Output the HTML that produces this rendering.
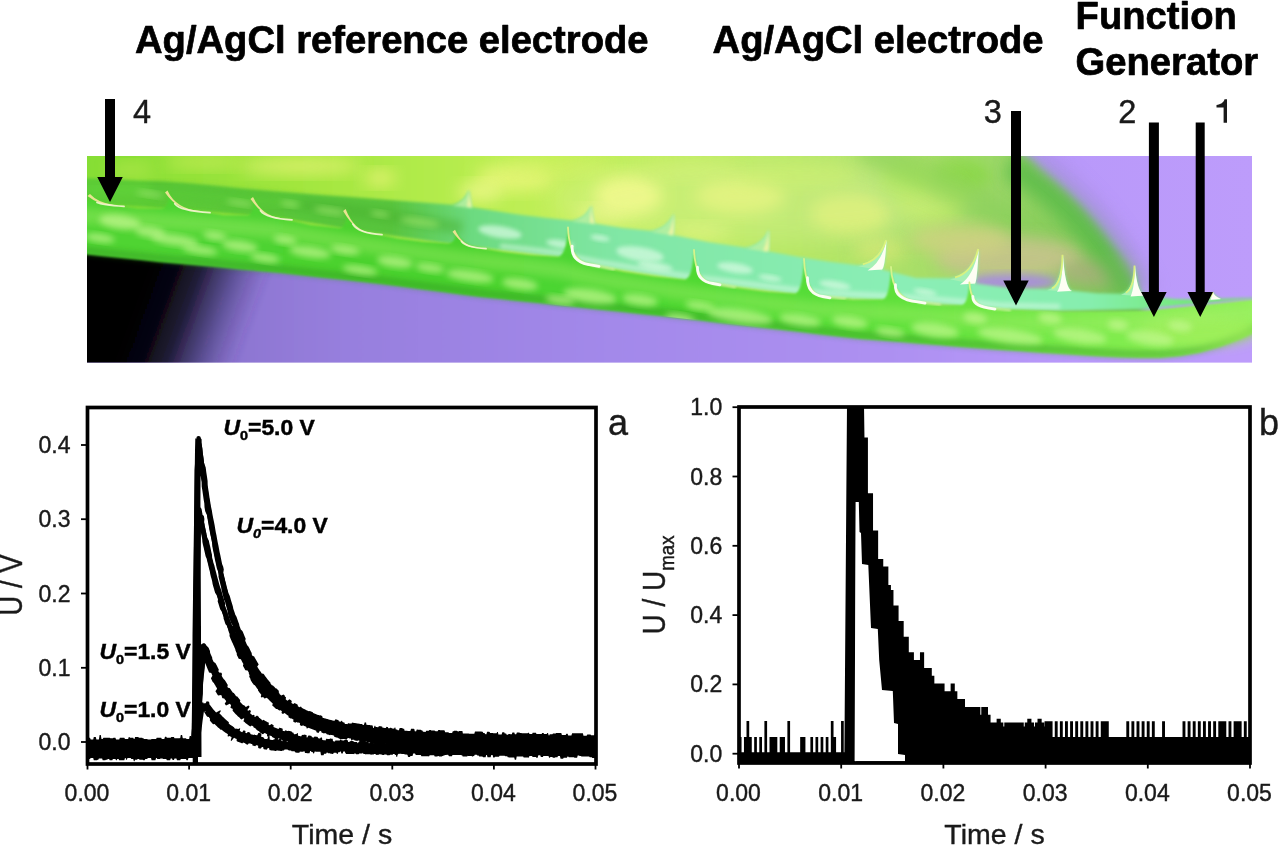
<!DOCTYPE html>
<html><head><meta charset="utf-8"><title>Figure</title>
<style>
html,body{margin:0;padding:0;background:#fff;}
body{width:1280px;height:845px;overflow:hidden;font-family:"Liberation Sans", sans-serif;}
svg{display:block;position:absolute;left:0;top:0;font-family:"Liberation Sans", sans-serif;will-change:transform;}
</style></head><body>
<svg width="1280" height="845" viewBox="0 0 1280 845">
<rect width="1280" height="845" fill="#fff"/>
<defs>
<clipPath id="pc"><rect x="87" y="156" width="1165" height="206.5"/></clipPath>
<filter id="b07" x="-30%" y="-30%" width="160%" height="160%"><feGaussianBlur stdDeviation="0.7"/></filter>
<filter id="b1" x="-30%" y="-30%" width="160%" height="160%"><feGaussianBlur stdDeviation="1"/></filter>
<filter id="b15" x="-30%" y="-30%" width="160%" height="160%"><feGaussianBlur stdDeviation="1.5"/></filter>
<filter id="b2" x="-30%" y="-30%" width="160%" height="160%"><feGaussianBlur stdDeviation="2"/></filter>
<filter id="b3" x="-30%" y="-30%" width="160%" height="160%"><feGaussianBlur stdDeviation="3"/></filter>
<filter id="b4" x="-30%" y="-30%" width="160%" height="160%"><feGaussianBlur stdDeviation="4"/></filter>
<filter id="b6" x="-30%" y="-30%" width="160%" height="160%"><feGaussianBlur stdDeviation="6"/></filter>
<filter id="b8" x="-30%" y="-30%" width="160%" height="160%"><feGaussianBlur stdDeviation="8"/></filter>
<filter id="b14" x="-30%" y="-30%" width="160%" height="160%"><feGaussianBlur stdDeviation="14"/></filter>
<linearGradient id="pg" gradientUnits="userSpaceOnUse" x1="87" y1="0" x2="1252" y2="0"><stop offset="0" stop-color="#7e68c0"/><stop offset="0.12" stop-color="#8c75d0"/><stop offset="0.22" stop-color="#977fde"/><stop offset="0.45" stop-color="#a389ea"/><stop offset="0.7" stop-color="#ae91f2"/><stop offset="0.85" stop-color="#b999fa"/><stop offset="1" stop-color="#bd9cfb"/></linearGradient>
<linearGradient id="blk" gradientUnits="userSpaceOnUse" x1="112" y1="362" x2="226" y2="404"><stop offset="0" stop-color="#020203" stop-opacity="1"/><stop offset="0.22" stop-color="#05040a" stop-opacity="0.98"/><stop offset="0.42" stop-color="#100e20" stop-opacity="0.86"/><stop offset="0.6" stop-color="#211c40" stop-opacity="0.6"/><stop offset="0.78" stop-color="#30285c" stop-opacity="0.3"/><stop offset="0.92" stop-color="#3a3070" stop-opacity="0.08"/><stop offset="1" stop-color="#3a3070" stop-opacity="0"/></linearGradient>
<linearGradient id="bgg" gradientUnits="userSpaceOnUse" x1="87" y1="0" x2="1140" y2="0"><stop offset="0" stop-color="#86de34"/><stop offset="0.2" stop-color="#a2e63e"/><stop offset="0.45" stop-color="#c2f058"/><stop offset="0.62" stop-color="#b8ea5c"/><stop offset="0.75" stop-color="#aee268"/><stop offset="0.86" stop-color="#9cd868"/><stop offset="0.93" stop-color="#86cc5c"/><stop offset="1" stop-color="#70be54"/></linearGradient>
<linearGradient id="lf" gradientUnits="userSpaceOnUse" x1="87" y1="0" x2="1252" y2="0"><stop offset="0" stop-color="#50d432"/><stop offset="0.3" stop-color="#4ad22e"/><stop offset="0.55" stop-color="#50da34"/><stop offset="0.72" stop-color="#62e23c"/><stop offset="0.88" stop-color="#80ec4e"/><stop offset="1" stop-color="#92f05a"/></linearGradient>
<linearGradient id="tf" gradientUnits="userSpaceOnUse" x1="87" y1="0" x2="1252" y2="0"><stop offset="0" stop-color="#5ccc34"/><stop offset="0.26" stop-color="#58c43c"/><stop offset="0.33" stop-color="#6cda80"/><stop offset="0.45" stop-color="#80e6a4"/><stop offset="0.7" stop-color="#8aeeb6"/><stop offset="0.86" stop-color="#86eeae"/><stop offset="0.95" stop-color="#74e878"/><stop offset="1" stop-color="#70e660"/></linearGradient>
</defs>
<g clip-path="url(#pc)">
<rect x="87" y="156" width="1165" height="206.5" fill="url(#pg)"/>
<path d="M60,130 L1004,130 L1004.0,140.0C1010.0,144.7 1028.2,158.0 1040.0,168.0C1051.8,178.0 1064.2,188.7 1075.0,200.0C1085.8,211.3 1096.2,224.7 1105.0,236.0C1113.8,247.3 1121.8,257.3 1128.0,268.0C1134.2,278.7 1139.0,289.7 1142.0,300.0C1145.0,310.3 1145.3,325.0 1146.0,330.0 L60,330 Z" fill="url(#bgg)" filter="url(#b4)"/>
<ellipse cx="300" cy="166" rx="60" ry="9" fill="#e2f272" opacity="0.8" filter="url(#b8)"/>
<ellipse cx="205" cy="162" rx="40" ry="7" fill="#d4ee60" opacity="0.6" filter="url(#b8)"/>
<ellipse cx="130" cy="170" rx="22" ry="7" fill="#c8ec58" opacity="0.5" filter="url(#b8)"/>
<ellipse cx="380" cy="178" rx="16" ry="8" fill="#ecf478" opacity="0.8" filter="url(#b8)"/>
<ellipse cx="515" cy="178" rx="40" ry="14" fill="#e8f678" opacity="0.85" filter="url(#b8)"/>
<ellipse cx="480" cy="192" rx="22" ry="10" fill="#f0f88c" opacity="0.8" filter="url(#b8)"/>
<ellipse cx="628" cy="196" rx="34" ry="20" fill="#f2fa7e" opacity="0.95" filter="url(#b8)"/>
<ellipse cx="600" cy="214" rx="26" ry="8" fill="#f0f884" opacity="0.7" filter="url(#b8)"/>
<ellipse cx="740" cy="196" rx="45" ry="18" fill="#e4f470" opacity="0.85" filter="url(#b8)"/>
<ellipse cx="700" cy="232" rx="30" ry="8" fill="#e6f678" opacity="0.6" filter="url(#b8)"/>
<ellipse cx="850" cy="214" rx="40" ry="20" fill="#dcf06a" opacity="0.85" filter="url(#b8)"/>
<ellipse cx="800" cy="176" rx="60" ry="12" fill="#c4ee58" opacity="0.6" filter="url(#b8)"/>
<ellipse cx="930" cy="200" rx="36" ry="24" fill="#bcec54" opacity="0.7" filter="url(#b8)"/>
<ellipse cx="905" cy="180" rx="26" ry="16" fill="#a6e84a" opacity="0.7" filter="url(#b8)"/>
<ellipse cx="880" cy="250" rx="26" ry="12" fill="#d8e874" opacity="0.7" filter="url(#b8)"/>
<ellipse cx="960" cy="176" rx="30" ry="16" fill="#84d83e" opacity="0.7" filter="url(#b8)"/>
<ellipse cx="560" cy="168" rx="50" ry="8" fill="#d6f268" opacity="0.6" filter="url(#b8)"/>
<ellipse cx="690" cy="170" rx="50" ry="10" fill="#cef066" opacity="0.6" filter="url(#b8)"/>
<ellipse cx="760" cy="200" rx="210" ry="46" fill="#e8f4b4" opacity="0.28" filter="url(#b14)"/>
<path d="M862,146 C930,178 1020,222 1092,274" fill="none" stroke="#84cc56" stroke-width="30" opacity="0.5" filter="url(#b8)"/>
<ellipse cx="1010" cy="258" rx="75" ry="22" fill="#c4c48a" opacity="0.95" filter="url(#b8)"/>
<ellipse cx="960" cy="240" rx="50" ry="16" fill="#d0d282" opacity="0.8" filter="url(#b8)"/>
<ellipse cx="1095" cy="272" rx="36" ry="14" fill="#a8b07c" opacity="0.9" filter="url(#b8)"/>
<path d="M1010,165 C1060,195 1100,235 1130,290" fill="none" stroke="#5cbc48" stroke-width="26" opacity="0.85" filter="url(#b8)"/>
<path d="M1040,156 C1085,190 1120,230 1150,290" fill="none" stroke="#a890e0" stroke-width="14" opacity="0.7" filter="url(#b8)"/>
<ellipse cx="1012" cy="282" rx="46" ry="8" fill="#a98ce0" opacity="0.95" filter="url(#b4)"/>
<path d="M60.0,249.0 L80.0,250.9 L100.0,252.9 L120.0,255.0 L140.0,257.1 L160.0,259.2 L180.0,261.0 L200.0,262.8 L220.0,264.6 L240.0,266.4 L260.0,268.2 L280.0,270.0 L300.0,272.2 L320.0,274.4 L340.0,276.6 L360.0,278.8 L380.0,281.0 L400.0,283.6 L420.0,286.2 L440.0,288.8 L460.0,291.4 L480.0,294.0 L500.0,296.1 L520.0,298.2 L540.0,300.3 L560.0,302.4 L580.0,304.6 L600.0,306.7 L620.0,308.8 L640.0,310.9 L660.0,313.0 L680.0,315.3 L700.0,317.6 L720.0,319.9 L740.0,322.2 L760.0,324.5 L780.0,326.8 L800.0,329.1 L820.0,331.4 L840.0,333.7 L860.0,336.0 L880.0,337.6 L900.0,339.1 L920.0,340.7 L940.0,342.3 L960.0,343.9 L980.0,345.4 L1000.0,347.0 L1020.0,348.3 L1040.0,349.7 L1060.0,351.0 L1080.0,352.2 L1100.0,353.4 L1120.0,354.4 L1140.0,355.1 L1160.0,354.9 L1180.0,353.3 L1200.0,349.8 L1220.0,344.1 L1240.0,336.4 L1260.0,327.2 L1280.0,317.7 L1290.0,313.0 L1300,400 L40,400 Z" fill="url(#pg)" filter="url(#b1)"/>
<path d="M60.0,249.0 L80.0,250.9 L100.0,252.9 L120.0,255.0 L140.0,257.1 L160.0,259.2 L180.0,261.0 L200.0,262.8 L220.0,264.6 L240.0,266.4 L260.0,268.2 L280.0,270.0 L300.0,272.2 L320.0,274.4 L340.0,276.6 L360.0,278.8 L380.0,281.0 L400.0,283.6 L420.0,286.2 L440.0,288.8 L460.0,291.4 L480.0,294.0 L500.0,296.1 L520.0,298.2 L540.0,300.3 L560.0,302.4 L580.0,304.6 L600.0,306.7 L620.0,308.8 L640.0,310.9 L660.0,313.0 L680.0,315.3 L700.0,317.6 L720.0,319.9 L740.0,322.2 L760.0,324.5 L780.0,326.8 L800.0,329.1 L820.0,331.4 L840.0,333.7 L860.0,336.0 L880.0,337.6 L900.0,339.1 L920.0,340.7 L940.0,342.3 L960.0,343.9 L980.0,345.4 L1000.0,347.0 L1020.0,348.3 L1040.0,349.7 L1060.0,351.0 L1080.0,352.2 L1100.0,353.4 L1120.0,354.4 L1140.0,355.1 L1160.0,354.9 L1180.0,353.3 L1200.0,349.8 L1220.0,344.1 L1240.0,336.4 L1260.0,327.2 L1280.0,317.7 L1290.0,313.0 L1300,400 L40,400 Z" fill="url(#blk)" filter="url(#b1)"/>
<clipPath id="ctf"><path d="M60.0,177.0L86.1,178.2L112.3,179.3L138.4,180.4L164.5,181.4L190.7,183.5L216.8,186.1L242.9,188.7L269.1,191.1L295.2,193.1L321.3,194.9L347.5,196.7L373.6,198.7L399.7,200.7L425.9,202.7L452.0,204.7Q464.0,202.7 469.0,190.0Q471.0,205.3 472.0,207.3L497.0,211.3L522.0,214.9L547.0,218.0L572.0,220.6Q586.0,218.6 591.5,205.6Q593.0,221.6 595.0,223.6L622.5,228.1L650.0,230.8Q667.0,228.8 674.0,213.4Q674.0,232.9 673.0,234.9L709.0,242.2L745.0,247.6Q762.0,245.6 769.0,229.7Q769.0,249.3 768.0,251.3L798.0,256.8L828.0,261.5L858.0,265.3Q879.0,263.3 886.5,240.3Q885.0,267.5 882.0,269.5L916.0,278.0L950.0,278.3Q971.0,276.3 978.8,249.0Q977.0,281.4 975.0,283.4L1011.0,288.5L1047.0,289.3Q1061.0,287.3 1063.0,254.7Q1065.0,288.8 1072.0,290.8L1096.5,293.3L1121.0,293.8Q1133.0,291.8 1135.0,265.6Q1137.0,293.4 1145.0,295.4L1174.5,298.9L1204.0,299.8Q1211.5,297.8 1213.0,292.0Q1214.5,296.8 1221.0,298.8L1255.5,297.7L1290.0,294.0L1290.0,296.0 L1280.0,296.8 L1260.0,298.4 L1240.0,300.0 L1220.0,301.8 L1200.0,303.5 L1180.0,305.3 L1160.0,307.2 L1140.0,309.0 L1120.0,309.4 L1100.0,309.8 L1080.0,310.2 L1060.0,310.6 L1040.0,310.1 L1020.0,309.5 L1000.0,309.0 L980.0,306.9 L960.0,305.2 L940.0,303.6 L920.0,302.1 L900.0,300.5 L880.0,299.4 L860.0,298.4 L840.0,297.4 L820.0,296.4 L800.0,294.3 L780.0,291.8 L760.0,289.3 L740.0,286.8 L720.0,284.3 L700.0,281.9 L680.0,279.0 L660.0,275.8 L640.0,272.7 L620.0,269.5 L600.0,266.3 L580.0,262.1 L560.0,257.0 L540.0,254.7 L520.0,252.3 L500.0,250.0 L480.0,247.7 L460.0,245.1 L440.0,242.4 L420.0,239.7 L400.0,236.9 L380.0,234.2 L360.0,231.2 L340.0,227.9 L320.0,224.6 L300.0,221.3 L280.0,218.0 L260.0,216.3 L240.0,214.5 L220.0,212.8 L200.0,211.1 L180.0,209.6 L160.0,208.2 L140.0,206.8 L120.0,205.4 L100.0,203.9 L80.0,202.5 L60.0,201.0Z"/></clipPath>
<path d="M60.0,177.0L86.1,178.2L112.3,179.3L138.4,180.4L164.5,181.4L190.7,183.5L216.8,186.1L242.9,188.7L269.1,191.1L295.2,193.1L321.3,194.9L347.5,196.7L373.6,198.7L399.7,200.7L425.9,202.7L452.0,204.7Q464.0,202.7 469.0,190.0Q471.0,205.3 472.0,207.3L497.0,211.3L522.0,214.9L547.0,218.0L572.0,220.6Q586.0,218.6 591.5,205.6Q593.0,221.6 595.0,223.6L622.5,228.1L650.0,230.8Q667.0,228.8 674.0,213.4Q674.0,232.9 673.0,234.9L709.0,242.2L745.0,247.6Q762.0,245.6 769.0,229.7Q769.0,249.3 768.0,251.3L798.0,256.8L828.0,261.5L858.0,265.3Q879.0,263.3 886.5,240.3Q885.0,267.5 882.0,269.5L916.0,278.0L950.0,278.3Q971.0,276.3 978.8,249.0Q977.0,281.4 975.0,283.4L1011.0,288.5L1047.0,289.3Q1061.0,287.3 1063.0,254.7Q1065.0,288.8 1072.0,290.8L1096.5,293.3L1121.0,293.8Q1133.0,291.8 1135.0,265.6Q1137.0,293.4 1145.0,295.4L1174.5,298.9L1204.0,299.8Q1211.5,297.8 1213.0,292.0Q1214.5,296.8 1221.0,298.8L1255.5,297.7L1290.0,294.0L1290.0,296.0 L1280.0,296.8 L1260.0,298.4 L1240.0,300.0 L1220.0,301.8 L1200.0,303.5 L1180.0,305.3 L1160.0,307.2 L1140.0,309.0 L1120.0,309.4 L1100.0,309.8 L1080.0,310.2 L1060.0,310.6 L1040.0,310.1 L1020.0,309.5 L1000.0,309.0 L980.0,306.9 L960.0,305.2 L940.0,303.6 L920.0,302.1 L900.0,300.5 L880.0,299.4 L860.0,298.4 L840.0,297.4 L820.0,296.4 L800.0,294.3 L780.0,291.8 L760.0,289.3 L740.0,286.8 L720.0,284.3 L700.0,281.9 L680.0,279.0 L660.0,275.8 L640.0,272.7 L620.0,269.5 L600.0,266.3 L580.0,262.1 L560.0,257.0 L540.0,254.7 L520.0,252.3 L500.0,250.0 L480.0,247.7 L460.0,245.1 L440.0,242.4 L420.0,239.7 L400.0,236.9 L380.0,234.2 L360.0,231.2 L340.0,227.9 L320.0,224.6 L300.0,221.3 L280.0,218.0 L260.0,216.3 L240.0,214.5 L220.0,212.8 L200.0,211.1 L180.0,209.6 L160.0,208.2 L140.0,206.8 L120.0,205.4 L100.0,203.9 L80.0,202.5 L60.0,201.0Z" fill="url(#tf)" filter="url(#b15)"/>
<path d="M452,205.7 Q464.0,202.7 469,190 Q471.0,205.3 472,208.3Z" fill="#b6f0a0" opacity="0.9" filter="url(#b15)"/>
<path d="M469,190 Q471.0,205.3 472,207.3 L467.0,206.3 Q468.0,202.3 469,190Z" fill="#f0f4a4" filter="url(#b15)"/>
<path d="M572,221.6 Q586.0,218.6 591.5,205.6 Q593.0,221.6 595,224.6Z" fill="#b6f0a0" opacity="0.9" filter="url(#b15)"/>
<path d="M591.5,205.6 Q593.0,221.6 595,223.6 L590.0,222.6 Q590.0,218.6 591.5,205.6Z" fill="#f0f4a4" filter="url(#b15)"/>
<path d="M650,231.8 Q667.0,228.8 674,213.4 Q674.0,232.9 673,235.9Z" fill="#b6f0a0" opacity="0.9" filter="url(#b15)"/>
<path d="M674,213.4 Q674.0,232.9 673,234.9 L668.0,233.9 Q671.0,229.9 674,213.4Z" fill="#f0f4a4" filter="url(#b15)"/>
<path d="M745,248.6 Q762.0,245.6 769,229.7 Q769.0,249.3 768,252.3Z" fill="#b6f0a0" opacity="0.9" filter="url(#b15)"/>
<path d="M769,229.7 Q769.0,249.3 768,251.3 L763.0,250.3 Q766.0,246.3 769,229.7Z" fill="#f0f4a4" filter="url(#b15)"/>
<path d="M858,266.3 Q879.0,263.3 886.5,240.3 Q885.0,267.5 882,270.5Z" fill="#a6f0b4" filter="url(#b07)"/>
<path d="M886.5,240.3 Q885.0,267.5 882,269.5 L867.6,270.5 Q881.5,262.5 886.5,240.3Z" fill="#fdfef4" filter="url(#b07)"/>
<path d="M886.0,240.3 Q880.0,260.3 862.8,264.3" fill="none" stroke="#e0f47c" stroke-width="1.8" opacity="0.9" filter="url(#b07)"/>
<path d="M950,279.3 Q971.0,276.3 978.75,249 Q977.0,281.4 975,284.4Z" fill="#a6f0b4" filter="url(#b07)"/>
<path d="M978.75,249 Q977.0,281.4 975,283.4 L960.0,284.4 Q973.5,276.4 978.75,249Z" fill="#fdfef4" filter="url(#b07)"/>
<path d="M978.25,249 Q972.0,273.3 955.0,277.3" fill="none" stroke="#e0f47c" stroke-width="1.8" opacity="0.9" filter="url(#b07)"/>
<path d="M1047,290.3 Q1061.0,287.3 1063,254.7 Q1065.0,288.8 1072,291.8Z" fill="#a6f0b4" filter="url(#b07)"/>
<path d="M1063,254.7 Q1065.0,288.8 1072,290.8 L1057.0,291.8 Q1062.5,283.8 1063,254.7Z" fill="#fdfef4" filter="url(#b07)"/>
<path d="M1062.5,254.7 Q1062.0,284.3 1052.0,288.3" fill="none" stroke="#e0f47c" stroke-width="1.8" opacity="0.9" filter="url(#b07)"/>
<path d="M1121,294.8 Q1133.0,291.8 1135,265.6 Q1137.0,293.4 1145,296.4Z" fill="#a6f0b4" filter="url(#b07)"/>
<path d="M1135,265.6 Q1137.0,293.4 1145,295.4 L1130.6,296.4 Q1134.5,288.4 1135,265.6Z" fill="#fdfef4" filter="url(#b07)"/>
<path d="M1134.5,265.6 Q1134.0,288.8 1125.8,292.8" fill="none" stroke="#e0f47c" stroke-width="1.8" opacity="0.9" filter="url(#b07)"/>
<path d="M1204,300.8 Q1211.5,297.8 1213,292 Q1214.5,296.8 1221,299.8Z" fill="#a6f0b4" filter="url(#b07)"/>
<path d="M1213,292 Q1214.5,296.8 1221,298.8 L1210.8,299.8 Q1212.5,291.8 1213,292Z" fill="#fdfef4" filter="url(#b07)"/>
<path d="M1212.5,292 Q1212.5,294.8 1207.4,298.8" fill="none" stroke="#e0f47c" stroke-width="1.8" opacity="0.9" filter="url(#b07)"/>
<path d="M150,190 C250,198 350,208 462,228" fill="none" stroke="#46b02e" stroke-width="13" opacity="0.5" filter="url(#b4)"/>
<path d="M87,190 C140,188 200,196 300,204" fill="none" stroke="#62d63c" stroke-width="9" opacity="0.6" filter="url(#b4)"/>
<ellipse cx="420" cy="222" rx="20" ry="4" fill="#9ae46a" opacity="0.7" transform="rotate(8 420 222)" filter="url(#b3)"/>
<ellipse cx="330" cy="211" rx="16" ry="3.5" fill="#9ae46a" opacity="0.7" transform="rotate(8 330 211)" filter="url(#b3)"/>
<ellipse cx="240" cy="203" rx="14" ry="3" fill="#9ae46a" opacity="0.7" transform="rotate(8 240 203)" filter="url(#b3)"/>
<ellipse cx="150" cy="194" rx="14" ry="3" fill="#9ae46a" opacity="0.7" transform="rotate(8 150 194)" filter="url(#b3)"/>
<ellipse cx="380" cy="214" rx="10" ry="3" fill="#9ae46a" opacity="0.7" transform="rotate(8 380 214)" filter="url(#b3)"/>
<ellipse cx="290" cy="204" rx="10" ry="3" fill="#9ae46a" opacity="0.7" transform="rotate(8 290 204)" filter="url(#b3)"/>
<g clip-path="url(#ctf)">
<ellipse cx="500" cy="232" rx="22" ry="6" fill="#d4fae0" opacity="0.75" transform="rotate(9 500 232)" filter="url(#b2)"/>
<ellipse cx="560" cy="244" rx="14" ry="4" fill="#d4fae0" opacity="0.75" transform="rotate(9 560 244)" filter="url(#b2)"/>
<ellipse cx="640" cy="254" rx="24" ry="7" fill="#d4fae0" opacity="0.75" transform="rotate(9 640 254)" filter="url(#b2)"/>
<ellipse cx="655" cy="266" rx="18" ry="4" fill="#d4fae0" opacity="0.75" transform="rotate(9 655 266)" filter="url(#b2)"/>
<ellipse cx="735" cy="268" rx="18" ry="5" fill="#d4fae0" opacity="0.75" transform="rotate(9 735 268)" filter="url(#b2)"/>
<ellipse cx="835" cy="285" rx="16" ry="4" fill="#d4fae0" opacity="0.75" transform="rotate(9 835 285)" filter="url(#b2)"/>
<ellipse cx="925" cy="292" rx="12" ry="3" fill="#d4fae0" opacity="0.75" transform="rotate(9 925 292)" filter="url(#b2)"/>
<ellipse cx="600" cy="238" rx="10" ry="3" fill="#d4fae0" opacity="0.75" transform="rotate(9 600 238)" filter="url(#b2)"/>
<ellipse cx="770" cy="278" rx="12" ry="3" fill="#d4fae0" opacity="0.75" transform="rotate(9 770 278)" filter="url(#b2)"/>
</g>
<path d="M500.0,246.0 L520.0,248.3 L540.0,250.7 L560.0,253.0 L580.0,258.1 L600.0,262.3 L620.0,265.5 L640.0,268.7 L660.0,271.8 L680.0,275.0 L700.0,277.9 L720.0,280.3 L740.0,282.8 L760.0,285.3 L780.0,287.8 L800.0,290.3 L820.0,292.4 L840.0,293.4 L860.0,294.4 L880.0,295.4 L900.0,296.5 L920.0,298.1 L940.0,299.6 L960.0,301.2 L980.0,302.9 L1000.0,305.0 L1020.0,305.5 L1040.0,306.1 L1060.0,306.6" fill="none" stroke="#e2fcea" stroke-width="5" opacity="0.55" filter="url(#b2)"/>
<clipPath id="cff"><path d="M60.0,201.0L72.0,203.9L84.0,202.8Q92.0,200.8 90.0,194.0Q98.0,202.9 114.0,204.9L138.0,208.6L162.0,208.4Q170.0,206.4 167.5,190.6Q176.0,209.1 200.0,211.1L224.0,215.2L248.0,215.2Q255.0,213.2 253.0,197.0Q262.0,216.3 282.0,218.3L311.0,225.1L340.0,227.9Q348.0,225.9 345.6,209.0Q354.0,231.1 372.0,233.1L397.7,238.4L423.3,241.8L449.0,243.6Q457.0,241.6 455.0,229.7Q462.0,245.2 476.0,247.2L503.3,252.1L530.7,255.3L558.0,256.8Q566.5,254.8 568.0,227.5Q569.5,263.1 592.0,265.1L623.0,271.7L654.0,276.6L685.0,279.7Q692.5,277.7 694.0,250.0Q695.5,281.5 713.0,283.5L740.3,288.6L767.7,292.0L795.0,293.7Q802.5,291.7 804.0,259.0Q805.5,294.5 823.0,296.5L853.0,300.0L883.0,299.5Q889.5,297.5 891.0,267.0Q892.5,299.9 918.0,301.9L940.0,305.6L962.0,305.3Q967.9,303.3 969.4,282.5Q970.9,305.8 988.0,307.8L1013.2,309.9L1038.3,311.0L1063.5,311.9L1088.7,311.8L1113.8,311.5L1139.0,311.0L1164.2,308.7L1189.3,306.2L1214.5,303.7L1239.7,301.1L1264.8,298.5L1290.0,296.0L1290.0,316.0 L1280.0,320.7 L1260.0,330.2 L1240.0,339.4 L1220.0,347.1 L1200.0,352.8 L1180.0,356.3 L1160.0,357.9 L1140.0,358.1 L1120.0,357.4 L1100.0,356.4 L1080.0,355.2 L1060.0,354.0 L1040.0,352.7 L1020.0,351.3 L1000.0,350.0 L980.0,348.4 L960.0,346.9 L940.0,345.3 L920.0,343.7 L900.0,342.1 L880.0,340.6 L860.0,339.0 L840.0,336.7 L820.0,334.4 L800.0,332.1 L780.0,329.8 L760.0,327.5 L740.0,325.2 L720.0,322.9 L700.0,320.6 L680.0,318.3 L660.0,316.0 L640.0,313.9 L620.0,311.8 L600.0,309.7 L580.0,307.6 L560.0,305.4 L540.0,303.3 L520.0,301.2 L500.0,299.1 L480.0,297.0 L460.0,294.4 L440.0,291.8 L420.0,289.2 L400.0,286.6 L380.0,284.0 L360.0,281.8 L340.0,279.6 L320.0,277.4 L300.0,275.2 L280.0,273.0 L260.0,271.2 L240.0,269.4 L220.0,267.6 L200.0,265.8 L180.0,264.0 L160.0,262.2 L140.0,260.1 L120.0,258.0 L100.0,255.9 L80.0,253.9 L60.0,252.0Z"/></clipPath>
<path d="M60.0,201.0L72.0,203.9L84.0,202.8Q92.0,200.8 90.0,194.0Q98.0,202.9 114.0,204.9L138.0,208.6L162.0,208.4Q170.0,206.4 167.5,190.6Q176.0,209.1 200.0,211.1L224.0,215.2L248.0,215.2Q255.0,213.2 253.0,197.0Q262.0,216.3 282.0,218.3L311.0,225.1L340.0,227.9Q348.0,225.9 345.6,209.0Q354.0,231.1 372.0,233.1L397.7,238.4L423.3,241.8L449.0,243.6Q457.0,241.6 455.0,229.7Q462.0,245.2 476.0,247.2L503.3,252.1L530.7,255.3L558.0,256.8Q566.5,254.8 568.0,227.5Q569.5,263.1 592.0,265.1L623.0,271.7L654.0,276.6L685.0,279.7Q692.5,277.7 694.0,250.0Q695.5,281.5 713.0,283.5L740.3,288.6L767.7,292.0L795.0,293.7Q802.5,291.7 804.0,259.0Q805.5,294.5 823.0,296.5L853.0,300.0L883.0,299.5Q889.5,297.5 891.0,267.0Q892.5,299.9 918.0,301.9L940.0,305.6L962.0,305.3Q967.9,303.3 969.4,282.5Q970.9,305.8 988.0,307.8L1013.2,309.9L1038.3,311.0L1063.5,311.9L1088.7,311.8L1113.8,311.5L1139.0,311.0L1164.2,308.7L1189.3,306.2L1214.5,303.7L1239.7,301.1L1264.8,298.5L1290.0,296.0L1290.0,316.0 L1280.0,320.7 L1260.0,330.2 L1240.0,339.4 L1220.0,347.1 L1200.0,352.8 L1180.0,356.3 L1160.0,357.9 L1140.0,358.1 L1120.0,357.4 L1100.0,356.4 L1080.0,355.2 L1060.0,354.0 L1040.0,352.7 L1020.0,351.3 L1000.0,350.0 L980.0,348.4 L960.0,346.9 L940.0,345.3 L920.0,343.7 L900.0,342.1 L880.0,340.6 L860.0,339.0 L840.0,336.7 L820.0,334.4 L800.0,332.1 L780.0,329.8 L760.0,327.5 L740.0,325.2 L720.0,322.9 L700.0,320.6 L680.0,318.3 L660.0,316.0 L640.0,313.9 L620.0,311.8 L600.0,309.7 L580.0,307.6 L560.0,305.4 L540.0,303.3 L520.0,301.2 L500.0,299.1 L480.0,297.0 L460.0,294.4 L440.0,291.8 L420.0,289.2 L400.0,286.6 L380.0,284.0 L360.0,281.8 L340.0,279.6 L320.0,277.4 L300.0,275.2 L280.0,273.0 L260.0,271.2 L240.0,269.4 L220.0,267.6 L200.0,265.8 L180.0,264.0 L160.0,262.2 L140.0,260.1 L120.0,258.0 L100.0,255.9 L80.0,253.9 L60.0,252.0Z" fill="url(#lf)" filter="url(#b1)"/>
<path d="M60.0,248.0 L80.0,249.9 L100.0,251.9 L120.0,254.0 L140.0,256.1 L160.0,258.2 L180.0,260.0 L200.0,261.8 L220.0,263.6 L240.0,265.4 L260.0,267.2 L280.0,269.0 L300.0,271.2 L320.0,273.4 L340.0,275.6 L360.0,277.8 L380.0,280.0 L400.0,282.6 L420.0,285.2 L440.0,287.8 L460.0,290.4 L480.0,293.0 L500.0,295.1 L520.0,297.2 L540.0,299.3 L560.0,301.4 L580.0,303.6 L600.0,305.7 L620.0,307.8 L640.0,309.9 L660.0,312.0 L680.0,314.3 L700.0,316.6 L720.0,318.9 L740.0,321.2 L760.0,323.5 L780.0,325.8 L800.0,328.1 L820.0,330.4 L840.0,332.7 L860.0,335.0 L880.0,336.6 L900.0,338.1 L920.0,339.7 L940.0,341.3 L960.0,342.9 L980.0,344.4 L1000.0,346.0 L1020.0,347.3 L1040.0,348.7 L1060.0,350.0 L1080.0,351.2 L1100.0,352.4 L1120.0,353.4 L1140.0,354.1 L1160.0,353.9 L1180.0,352.3 L1200.0,348.8 L1220.0,343.1 L1240.0,335.4 L1260.0,326.2 L1280.0,316.7 L1290.0,312.0" fill="none" stroke="#2a8a1a" stroke-width="6" opacity="0.5" filter="url(#b3)"/>
<ellipse cx="1200" cy="330" rx="60" ry="16" fill="#a4f05c" opacity="0.7" filter="url(#b6)"/>
<g clip-path="url(#cff)">
<path d="M60.0,214.0 L80.0,215.5 L100.0,216.9 L120.0,218.4 L140.0,219.8 L160.0,221.2 L180.0,222.6 L200.0,224.1 L220.0,225.8 L240.0,227.5 L260.0,229.3 L280.0,231.0 L300.0,234.3 L320.0,237.6 L340.0,240.9 L360.0,244.2 L380.0,247.2 L400.0,249.9 L420.0,252.7 L440.0,255.4 L460.0,258.1 L480.0,260.7 L500.0,263.0 L520.0,265.3 L540.0,267.7 L560.0,270.0 L580.0,275.1 L600.0,279.3 L620.0,282.5 L640.0,285.7 L660.0,288.8 L680.0,292.0 L700.0,294.9 L720.0,297.3 L740.0,299.8 L760.0,302.3 L780.0,304.8 L800.0,307.3 L820.0,309.4 L840.0,310.4 L860.0,311.4 L880.0,312.4 L900.0,313.5 L920.0,315.1 L940.0,316.6 L960.0,318.2 L980.0,319.9 L1000.0,322.0 L1020.0,322.5 L1040.0,323.1 L1060.0,323.6 L1080.0,323.2 L1100.0,322.8 L1120.0,322.4 L1140.0,322.0 L1160.0,320.2 L1180.0,318.3 L1200.0,316.5 L1220.0,314.8 L1240.0,313.0 L1260.0,311.4 L1280.0,309.8 L1290.0,309.0" fill="none" stroke="#a6f06c" stroke-width="16" opacity="0.38" filter="url(#b4)"/>
<ellipse cx="120" cy="222" rx="21.0" ry="7.0" fill="#c4f890" opacity="0.7" transform="rotate(8 120 222)" filter="url(#b3)"/>
<ellipse cx="150" cy="232" rx="15.0" ry="5.6" fill="#c4f890" opacity="0.7" transform="rotate(8 150 232)" filter="url(#b3)"/>
<ellipse cx="175" cy="240" rx="24.0" ry="5.6" fill="#c4f890" opacity="0.7" transform="rotate(8 175 240)" filter="url(#b3)"/>
<ellipse cx="215" cy="236" rx="12.0" ry="4.199999999999999" fill="#c4f890" opacity="0.7" transform="rotate(8 215 236)" filter="url(#b3)"/>
<ellipse cx="240" cy="246" rx="18.0" ry="5.6" fill="#c4f890" opacity="0.7" transform="rotate(8 240 246)" filter="url(#b3)"/>
<ellipse cx="285" cy="240" rx="12.0" ry="4.199999999999999" fill="#c4f890" opacity="0.7" transform="rotate(8 285 240)" filter="url(#b3)"/>
<ellipse cx="310" cy="252" rx="21.0" ry="5.6" fill="#c4f890" opacity="0.7" transform="rotate(8 310 252)" filter="url(#b3)"/>
<ellipse cx="345" cy="250" rx="15.0" ry="4.199999999999999" fill="#c4f890" opacity="0.7" transform="rotate(8 345 250)" filter="url(#b3)"/>
<ellipse cx="395" cy="262" rx="18.0" ry="5.6" fill="#c4f890" opacity="0.7" transform="rotate(8 395 262)" filter="url(#b3)"/>
<ellipse cx="430" cy="268" rx="15.0" ry="4.199999999999999" fill="#c4f890" opacity="0.7" transform="rotate(8 430 268)" filter="url(#b3)"/>
<ellipse cx="470" cy="276" rx="24.0" ry="5.6" fill="#c4f890" opacity="0.7" transform="rotate(8 470 276)" filter="url(#b3)"/>
<ellipse cx="520" cy="284" rx="18.0" ry="5.6" fill="#c4f890" opacity="0.7" transform="rotate(8 520 284)" filter="url(#b3)"/>
<ellipse cx="590" cy="296" rx="27.0" ry="7.0" fill="#c4f890" opacity="0.7" transform="rotate(8 590 296)" filter="url(#b3)"/>
<ellipse cx="640" cy="300" rx="18.0" ry="5.6" fill="#c4f890" opacity="0.7" transform="rotate(8 640 300)" filter="url(#b3)"/>
<ellipse cx="700" cy="306" rx="15.0" ry="4.199999999999999" fill="#c4f890" opacity="0.7" transform="rotate(8 700 306)" filter="url(#b3)"/>
<ellipse cx="740" cy="316" rx="33.0" ry="7.0" fill="#c4f890" opacity="0.7" transform="rotate(8 740 316)" filter="url(#b3)"/>
<ellipse cx="800" cy="320" rx="21.0" ry="5.6" fill="#c4f890" opacity="0.7" transform="rotate(8 800 320)" filter="url(#b3)"/>
<ellipse cx="850" cy="322" rx="18.0" ry="5.6" fill="#c4f890" opacity="0.7" transform="rotate(8 850 322)" filter="url(#b3)"/>
<ellipse cx="935" cy="330" rx="24.0" ry="7.0" fill="#c4f890" opacity="0.7" transform="rotate(8 935 330)" filter="url(#b3)"/>
<ellipse cx="1010" cy="336" rx="33.0" ry="7.0" fill="#c4f890" opacity="0.7" transform="rotate(8 1010 336)" filter="url(#b3)"/>
<ellipse cx="1080" cy="336" rx="27.0" ry="7.0" fill="#c4f890" opacity="0.7" transform="rotate(8 1080 336)" filter="url(#b3)"/>
<ellipse cx="1150" cy="338" rx="24.0" ry="7.0" fill="#c4f890" opacity="0.7" transform="rotate(8 1150 338)" filter="url(#b3)"/>
<ellipse cx="1050" cy="318" rx="12.0" ry="5.6" fill="#c4f890" opacity="0.7" transform="rotate(8 1050 318)" filter="url(#b3)"/>
<ellipse cx="1118" cy="325" rx="10.5" ry="5.6" fill="#c4f890" opacity="0.7" transform="rotate(8 1118 325)" filter="url(#b3)"/>
<ellipse cx="1180" cy="326" rx="12.0" ry="5.6" fill="#c4f890" opacity="0.7" transform="rotate(8 1180 326)" filter="url(#b3)"/>
<ellipse cx="975" cy="318" rx="12.0" ry="5.6" fill="#c4f890" opacity="0.7" transform="rotate(8 975 318)" filter="url(#b3)"/>
<ellipse cx="100" cy="238" rx="15.0" ry="4.199999999999999" fill="#c4f890" opacity="0.7" transform="rotate(8 100 238)" filter="url(#b3)"/>
<ellipse cx="200" cy="250" rx="18.0" ry="4.199999999999999" fill="#c4f890" opacity="0.7" transform="rotate(8 200 250)" filter="url(#b3)"/>
<ellipse cx="265" cy="258" rx="15.0" ry="4.199999999999999" fill="#c4f890" opacity="0.7" transform="rotate(8 265 258)" filter="url(#b3)"/>
<ellipse cx="360" cy="270" rx="18.0" ry="4.199999999999999" fill="#c4f890" opacity="0.7" transform="rotate(8 360 270)" filter="url(#b3)"/>
<ellipse cx="560" cy="300" rx="15.0" ry="4.199999999999999" fill="#c4f890" opacity="0.7" transform="rotate(8 560 300)" filter="url(#b3)"/>
<ellipse cx="680" cy="318" rx="15.0" ry="4.199999999999999" fill="#c4f890" opacity="0.7" transform="rotate(8 680 318)" filter="url(#b3)"/>
<ellipse cx="890" cy="332" rx="15.0" ry="4.199999999999999" fill="#c4f890" opacity="0.7" transform="rotate(8 890 332)" filter="url(#b3)"/>
</g>
<path d="M90,194 Q98.0,202.9 114,204.9 Q101.0,206.4 87.5,196Z" fill="#e9e392" filter="url(#b07)"/>
<path d="M97.0,202.5 Q102.0,204.9 124,206.4" fill="none" stroke="#f6f6d2" stroke-width="1.8" stroke-linecap="round" opacity="0.9" filter="url(#b07)"/>
<path d="M167.5,190.6 Q176.0,209.1 200,211.1 Q179.0,212.6 165.0,192.6Z" fill="#e9e392" filter="url(#b07)"/>
<path d="M174.8,203.8 Q180.0,211.1 210,212.6" fill="none" stroke="#f6f6d2" stroke-width="1.8" stroke-linecap="round" opacity="0.9" filter="url(#b07)"/>
<path d="M253,197 Q262.0,216.3 282,218.3 Q265.0,219.8 250.5,199Z" fill="#e9e392" filter="url(#b07)"/>
<path d="M260.5,210.7 Q266.0,218.3 292,219.8" fill="none" stroke="#f6f6d2" stroke-width="1.8" stroke-linecap="round" opacity="0.9" filter="url(#b07)"/>
<path d="M345.6,209 Q354.0,231.1 372,233.1 Q357.0,234.6 343.1,211Z" fill="#e9e392" filter="url(#b07)"/>
<path d="M352.8,224.1 Q358.0,233.1 382,234.6" fill="none" stroke="#f6f6d2" stroke-width="1.8" stroke-linecap="round" opacity="0.9" filter="url(#b07)"/>
<path d="M455,229.7 Q462.0,245.2 476,247.2 Q465.0,248.7 452.5,231.7Z" fill="#e9e392" filter="url(#b07)"/>
<path d="M461.5,241.5 Q466.0,247.2 486,248.7" fill="none" stroke="#f6f6d2" stroke-width="1.8" stroke-linecap="round" opacity="0.9" filter="url(#b07)"/>
<path d="M568,227.5 Q569.5,263.1 592,265.1" fill="none" stroke="#d6f38c" stroke-width="1.8" stroke-linecap="round" filter="url(#b07)"/>
<path d="M592,265.1 L614.0,269.6" fill="none" stroke="#eef8c0" stroke-width="2" opacity="0.7" stroke-linecap="round" filter="url(#b1)"/>
<path d="M572.2,246.1 Q571.0,262.6 592,265.1 L599.0,266.4" fill="none" stroke="#fbfdf2" stroke-width="2.8" stroke-linecap="round" stroke-linejoin="round" filter="url(#b07)"/>
<path d="M694,250 Q695.5,281.5 713,283.5" fill="none" stroke="#d6f38c" stroke-width="1.8" stroke-linecap="round" filter="url(#b07)"/>
<path d="M713,283.5 L735.0,287.2" fill="none" stroke="#eef8c0" stroke-width="2" opacity="0.7" stroke-linecap="round" filter="url(#b1)"/>
<path d="M697.5,267.1 Q697.0,281.0 713,283.5 L720.0,284.8" fill="none" stroke="#fbfdf2" stroke-width="2.8" stroke-linecap="round" stroke-linejoin="round" filter="url(#b07)"/>
<path d="M804,259 Q805.5,294.5 823,296.5" fill="none" stroke="#d6f38c" stroke-width="1.8" stroke-linecap="round" filter="url(#b07)"/>
<path d="M823,296.5 L845.0,298.6" fill="none" stroke="#eef8c0" stroke-width="2" opacity="0.7" stroke-linecap="round" filter="url(#b1)"/>
<path d="M807.5,277.6 Q807.0,294.0 823,296.5 L830.0,297.8" fill="none" stroke="#fbfdf2" stroke-width="2.8" stroke-linecap="round" stroke-linejoin="round" filter="url(#b07)"/>
<path d="M891,267 Q892.5,299.9 918,301.9" fill="none" stroke="#d6f38c" stroke-width="1.8" stroke-linecap="round" filter="url(#b07)"/>
<path d="M918,301.9 L940.0,304.6" fill="none" stroke="#eef8c0" stroke-width="2" opacity="0.7" stroke-linecap="round" filter="url(#b1)"/>
<path d="M895.5,284.6 Q894.0,299.4 918,301.9 L925.0,303.2" fill="none" stroke="#fbfdf2" stroke-width="2.8" stroke-linecap="round" stroke-linejoin="round" filter="url(#b07)"/>
<path d="M969.4,282.5 Q970.9,305.8 988,307.8" fill="none" stroke="#d6f38c" stroke-width="1.8" stroke-linecap="round" filter="url(#b07)"/>
<path d="M988,307.8 L1010.0,310.3" fill="none" stroke="#eef8c0" stroke-width="2" opacity="0.7" stroke-linecap="round" filter="url(#b1)"/>
<path d="M972.9,296.5 Q972.4,305.3 988,307.8 L995.0,309.1" fill="none" stroke="#fbfdf2" stroke-width="2.8" stroke-linecap="round" stroke-linejoin="round" filter="url(#b07)"/>
</g>
<path d="M105.0,99 H115.0 V177 H122.75 L110,202 L97.25,177 H105.0 Z" fill="#000"/>
<path d="M1011.0,111 H1021.0 V280.5 H1028.75 L1016,305.5 L1003.25,280.5 H1011.0 Z" fill="#000"/>
<path d="M1148.9,122.5 H1158.9 V292 H1166.65 L1153.9,317 L1141.15,292 H1148.9 Z" fill="#000"/>
<path d="M1195.7,122.5 H1204.7 V292 H1212.95 L1200.2,317 L1187.45,292 H1195.7 Z" fill="#000"/>
<clipPath id="ca"><rect x="87.5" y="407.5" width="508.5" height="356.5"/></clipPath>
<g clip-path="url(#ca)" fill="none" stroke="#000" stroke-linejoin="round">
<path d="M87.5,743.5 L88.1,743.5 L88.8,743.5 L89.4,743.5 L90.0,743.5 L90.7,743.5 L91.3,743.5 L91.9,743.5 L92.6,743.5 L93.2,743.5 L93.8,743.5 L94.5,743.5 L95.1,743.5 L95.8,743.5 L96.4,743.5 L97.0,743.5 L97.7,743.5 L98.3,743.5 L98.9,743.5 L99.6,743.5 L100.2,743.5 L100.8,743.5 L101.5,743.5 L102.1,743.5 L102.7,743.5 L103.4,743.5 L104.0,743.5 L104.6,743.5 L105.3,743.5 L105.9,743.5 L106.5,743.5 L107.2,743.5 L107.8,743.5 L108.5,743.5 L109.1,743.5 L109.7,743.5 L110.4,743.5 L111.0,743.5 L111.6,743.5 L112.3,743.5 L112.9,743.5 L113.5,743.5 L114.2,743.5 L114.8,743.5 L115.4,743.5 L116.1,743.5 L116.7,743.5 L117.3,743.5 L118.0,743.5 L118.6,743.5 L119.2,743.5 L119.9,743.5 L120.5,743.5 L121.2,743.5 L121.8,743.5 L122.4,743.5 L123.1,743.5 L123.7,743.5 L124.3,743.5 L125.0,743.5 L125.6,743.5 L126.2,743.5 L126.9,743.5 L127.5,743.5 L128.1,743.5 L128.8,743.5 L129.4,743.5 L130.0,743.5 L130.7,743.5 L131.3,743.5 L131.9,743.5 L132.6,743.5 L133.2,743.5 L133.9,743.5 L134.5,743.5 L135.1,743.5 L135.8,743.5 L136.4,743.5 L137.0,743.5 L137.7,743.5 L138.3,743.5 L138.9,743.5 L139.6,743.5 L140.2,743.5 L140.8,743.5 L141.5,743.5 L142.1,743.5 L142.7,743.5 L143.4,743.5 L144.0,743.5 L144.7,743.5 L145.3,743.5 L145.9,743.5 L146.6,743.5 L147.2,743.5 L147.8,743.5 L148.5,743.5 L149.1,743.5 L149.7,743.5 L150.4,743.5 L151.0,743.5 L151.6,743.5 L152.3,743.5 L152.9,743.5 L153.5,743.5 L154.2,743.5 L154.8,743.5 L155.4,743.5 L156.1,743.5 L156.7,743.5 L157.3,743.5 L158.0,743.5 L158.6,743.5 L159.3,743.5 L159.9,743.5 L160.5,743.5 L161.2,743.5 L161.8,743.5 L162.4,743.5 L163.1,743.5 L163.7,743.5 L164.3,743.5 L165.0,743.5 L165.6,743.5 L166.2,743.5 L166.9,743.5 L167.5,743.5 L168.1,743.5 L168.8,743.5 L169.4,743.5 L170.1,743.5 L170.7,743.5 L171.3,743.5 L172.0,743.5 L172.6,743.5 L173.2,743.5 L173.9,743.5 L174.5,743.5 L175.1,743.5 L175.8,743.5 L176.4,743.5 L177.0,743.5 L177.7,743.5 L178.3,743.5 L178.9,743.5 L179.6,743.5 L180.2,743.5 L180.8,743.5 L181.5,743.5 L182.1,743.5 L182.8,743.5 L183.4,743.5 L184.0,743.5 L184.7,743.5 L185.3,743.5 L185.9,743.5 L186.6,743.5 L187.2,743.5 L187.8,743.5 L188.5,743.5 L189.1,743.5 L189.7,743.5 L190.4,743.5 L191.0,743.5 L191.6,743.5 L192.3,743.5 L192.9,743.5 L193.5,743.5 L194.2,728.7 L194.8,682.3 L195.4,636.0 L196.1,589.6 L196.7,543.3 L197.4,496.9 L198.0,450.6 L198.6,438.4 L199.3,443.6 L199.9,448.7 L200.5,453.6 L201.2,458.5 L201.8,463.3 L202.4,468.0 L203.1,472.6 L203.7,477.2 L204.3,481.6 L205.0,486.0 L205.6,490.3 L206.2,494.5 L206.9,498.6 L207.5,502.7 L208.2,506.7 L208.8,510.6 L209.4,514.5 L210.1,518.3 L210.7,522.0 L211.3,525.7 L212.0,529.2 L212.6,532.8 L213.2,536.2 L213.9,539.6 L214.5,543.0 L215.1,546.2 L215.8,549.5 L216.4,552.6 L217.0,555.7 L217.7,558.8 L218.3,561.8 L218.9,564.7 L219.6,567.6 L220.2,570.5 L220.8,573.2 L221.5,576.0 L222.1,578.7 L222.8,581.3 L223.4,583.9 L224.0,586.5 L224.7,589.0 L225.3,591.4 L225.9,593.9 L226.6,596.2 L227.2,598.6 L227.8,600.9 L228.5,603.1 L229.1,605.3 L229.7,607.5 L230.4,609.6 L231.0,611.7 L231.6,613.8 L232.3,615.8 L232.9,617.8 L233.6,619.7 L234.2,621.7 L234.8,623.5 L235.5,625.4 L236.1,627.2 L236.7,629.0 L237.4,630.8 L238.0,632.5 L238.6,634.2 L239.3,635.9 L239.9,637.5 L240.5,639.1 L241.2,640.7 L241.8,642.2 L242.4,643.8 L243.1,645.3 L243.7,646.7 L244.3,648.2 L245.0,649.6 L245.6,651.0 L246.2,652.4 L246.9,653.7 L247.5,655.0 L248.2,656.4 L248.8,657.6 L249.4,658.9 L250.1,660.1 L250.7,661.3 L251.3,662.5 L252.0,663.7 L252.6,664.9 L253.2,666.0 L253.9,667.1 L254.5,668.2 L255.1,669.3 L255.8,670.4 L256.4,671.4 L257.0,672.4 L257.7,673.4 L258.3,674.4 L259.0,675.4 L259.6,676.3 L260.2,677.3 L260.9,678.2 L261.5,679.1 L262.1,680.0 L262.8,680.9 L263.4,681.7 L264.0,682.6 L264.7,683.4 L265.3,684.2 L265.9,685.0 L266.6,685.8 L267.2,686.6 L267.8,687.4 L268.5,688.1 L269.1,688.9 L269.7,689.6 L270.4,690.3 L271.0,691.0 L271.6,691.7 L272.3,692.4 L272.9,693.1 L273.6,693.7 L274.2,694.4 L274.8,695.0 L275.5,695.6 L276.1,696.2 L276.7,696.8 L277.4,697.4 L278.0,698.0 L278.6,698.6 L279.3,699.2 L279.9,699.7 L280.5,700.3 L281.2,700.8 L281.8,701.3 L282.4,701.9 L283.1,702.4 L283.7,702.9 L284.4,703.4 L285.0,703.9 L285.6,704.3 L286.3,704.8 L286.9,705.3 L287.5,705.7 L288.2,706.2 L288.8,706.6 L289.4,707.1 L290.1,707.5 L290.7,707.9 L291.3,708.3 L292.0,708.7 L292.6,709.1 L293.2,709.5 L293.9,709.9 L294.5,710.3 L295.1,710.7 L295.8,711.1 L296.4,711.4 L297.1,711.8 L297.7,712.1 L298.3,712.5 L299.0,712.8 L299.6,713.2 L300.2,713.5 L300.9,713.8 L301.5,714.2 L302.1,714.5 L302.8,714.8 L303.4,715.1 L304.0,715.4 L304.7,715.7 L305.3,716.0 L305.9,716.3 L306.6,716.6 L307.2,716.8 L307.8,717.1 L308.5,717.4 L309.1,717.7 L309.8,717.9 L310.4,718.2 L311.0,718.4 L311.7,718.7 L312.3,718.9 L312.9,719.2 L313.6,719.4 L314.2,719.7 L314.8,719.9 L315.5,720.1 L316.1,720.4 L316.7,720.6 L317.4,720.8 L318.0,721.0 L318.6,721.2 L319.3,721.4 L319.9,721.6 L320.5,721.9 L321.2,722.1 L321.8,722.3 L322.4,722.4 L323.1,722.6 L323.7,722.8 L324.4,723.0 L325.0,723.2 L325.6,723.4 L326.3,723.6 L326.9,723.7 L327.5,723.9 L328.2,724.1 L328.8,724.3 L329.4,724.4 L330.1,724.6 L330.7,724.8 L331.3,724.9 L332.0,725.1 L332.6,725.2 L333.2,725.4 L333.9,725.5 L334.5,725.7 L335.1,725.8 L335.8,726.0 L336.4,726.1 L337.1,726.3 L337.7,726.4 L338.3,726.5 L339.0,726.7 L339.6,726.8 L340.2,726.9 L340.9,727.1 L341.5,727.2 L342.1,727.3 L342.8,727.5 L343.4,727.6 L344.0,727.7 L344.7,727.8 L345.3,727.9 L345.9,728.1 L346.6,728.2 L347.2,728.3 L347.8,728.4 L348.5,728.5 L349.1,728.6 L349.8,728.7 L350.4,728.8 L351.0,729.0 L351.7,729.1 L352.3,729.2 L352.9,729.3 L353.6,729.4 L354.2,729.5 L354.8,729.6 L355.5,729.7 L356.1,729.8 L356.7,729.9 L357.4,729.9 L358.0,730.0 L358.6,730.1 L359.3,730.2 L359.9,730.3 L360.6,730.4 L361.2,730.5 L361.8,730.6 L362.5,730.7 L363.1,730.7 L363.7,730.8 L364.4,730.9 L365.0,731.0 L365.6,731.1 L366.3,731.1 L366.9,731.2 L367.5,731.3 L368.2,731.4 L368.8,731.5 L369.4,731.5 L370.1,731.6 L370.7,731.7 L371.3,731.8 L372.0,731.8 L372.6,731.9 L373.2,732.0 L373.9,732.0 L374.5,732.1 L375.2,732.2 L375.8,732.2 L376.4,732.3 L377.1,732.4 L377.7,732.4 L378.3,732.5 L379.0,732.6 L379.6,732.6 L380.2,732.7 L380.9,732.8 L381.5,732.8 L382.1,732.9 L382.8,732.9 L383.4,733.0 L384.0,733.0 L384.7,733.1 L385.3,733.2 L385.9,733.2 L386.6,733.3 L387.2,733.3 L387.9,733.4 L388.5,733.4 L389.1,733.5 L389.8,733.6 L390.4,733.6 L391.0,733.7 L391.7,733.7 L392.3,733.8 L392.9,733.8 L393.6,733.9 L394.2,733.9 L394.8,734.0 L395.5,734.0 L396.1,734.1 L396.7,734.1 L397.4,734.2 L398.0,734.2 L398.6,734.2 L399.3,734.3 L399.9,734.3 L400.6,734.4 L401.2,734.4 L401.8,734.5 L402.5,734.5 L403.1,734.6 L403.7,734.6 L404.4,734.6 L405.0,734.7 L405.6,734.7 L406.3,734.8 L406.9,734.8 L407.5,734.9 L408.2,734.9 L408.8,734.9 L409.4,735.0 L410.1,735.0 L410.7,735.1 L411.4,735.1 L412.0,735.1 L412.6,735.2 L413.3,735.2 L413.9,735.2 L414.5,735.3 L415.2,735.3 L415.8,735.4 L416.4,735.4 L417.1,735.4 L417.7,735.5 L418.3,735.5 L419.0,735.5 L419.6,735.6 L420.2,735.6 L420.9,735.6 L421.5,735.7 L422.1,735.7 L422.8,735.7 L423.4,735.8 L424.1,735.8 L424.7,735.8 L425.3,735.9 L426.0,735.9 L426.6,735.9 L427.2,736.0 L427.9,736.0 L428.5,736.0 L429.1,736.1 L429.8,736.1 L430.4,736.1 L431.0,736.2 L431.7,736.2 L432.3,736.2 L432.9,736.3 L433.6,736.3 L434.2,736.3 L434.8,736.3 L435.5,736.4 L436.1,736.4 L436.8,736.4 L437.4,736.5 L438.0,736.5 L438.7,736.5 L439.3,736.5 L439.9,736.6 L440.6,736.6 L441.2,736.6 L441.8,736.6 L442.5,736.7 L443.1,736.7 L443.7,736.7 L444.4,736.8 L445.0,736.8 L445.6,736.8 L446.3,736.8 L446.9,736.9 L447.5,736.9 L448.2,736.9 L448.8,736.9 L449.4,737.0 L450.1,737.0 L450.7,737.0 L451.4,737.0 L452.0,737.1 L452.6,737.1 L453.3,737.1 L453.9,737.1 L454.5,737.2 L455.2,737.2 L455.8,737.2 L456.4,737.2 L457.1,737.2 L457.7,737.3 L458.3,737.3 L459.0,737.3 L459.6,737.3 L460.2,737.4 L460.9,737.4 L461.5,737.4 L462.1,737.4 L462.8,737.4 L463.4,737.5 L464.1,737.5 L464.7,737.5 L465.3,737.5 L466.0,737.6 L466.6,737.6 L467.2,737.6 L467.9,737.6 L468.5,737.6 L469.1,737.7 L469.8,737.7 L470.4,737.7 L471.0,737.7 L471.7,737.7 L472.3,737.8 L472.9,737.8 L473.6,737.8 L474.2,737.8 L474.8,737.8 L475.5,737.9 L476.1,737.9 L476.8,737.9 L477.4,737.9 L478.0,737.9 L478.7,738.0 L479.3,738.0 L479.9,738.0 L480.6,738.0 L481.2,738.0 L481.8,738.0 L482.5,738.1 L483.1,738.1 L483.7,738.1 L484.4,738.1 L485.0,738.1 L485.6,738.2 L486.3,738.2 L486.9,738.2 L487.6,738.2 L488.2,738.2 L488.8,738.2 L489.5,738.3 L490.1,738.3 L490.7,738.3 L491.4,738.3 L492.0,738.3 L492.6,738.3 L493.3,738.4 L493.9,738.4 L494.5,738.4 L495.2,738.4 L495.8,738.4 L496.4,738.4 L497.1,738.5 L497.7,738.5 L498.3,738.5 L499.0,738.5 L499.6,738.5 L500.2,738.5 L500.9,738.6 L501.5,738.6 L502.2,738.6 L502.8,738.6 L503.4,738.6 L504.1,738.6 L504.7,738.6 L505.3,738.7 L506.0,738.7 L506.6,738.7 L507.2,738.7 L507.9,738.7 L508.5,738.7 L509.1,738.7 L509.8,738.7 L510.4,738.8 L511.0,738.8 L511.7,738.8 L512.3,738.8 L513.0,738.8 L513.6,738.8 L514.2,738.8 L514.9,738.8 L515.5,738.8 L516.1,738.9 L516.8,738.9 L517.4,738.9 L518.0,738.9 L518.7,738.9 L519.3,738.9 L519.9,738.9 L520.6,738.9 L521.2,738.9 L521.8,739.0 L522.5,739.0 L523.1,739.0 L523.7,739.0 L524.4,739.0 L525.0,739.0 L525.6,739.0 L526.3,739.0 L526.9,739.0 L527.6,739.0 L528.2,739.1 L528.8,739.1 L529.5,739.1 L530.1,739.1 L530.7,739.1 L531.4,739.1 L532.0,739.1 L532.6,739.1 L533.3,739.1 L533.9,739.1 L534.5,739.1 L535.2,739.2 L535.8,739.2 L536.4,739.2 L537.1,739.2 L537.7,739.2 L538.3,739.2 L539.0,739.2 L539.6,739.2 L540.3,739.2 L540.9,739.2 L541.5,739.2 L542.2,739.3 L542.8,739.3 L543.4,739.3 L544.1,739.3 L544.7,739.3 L545.3,739.3 L546.0,739.3 L546.6,739.3 L547.2,739.3 L547.9,739.3 L548.5,739.3 L549.1,739.4 L549.8,739.4 L550.4,739.4 L551.0,739.4 L551.7,739.4 L552.3,739.4 L553.0,739.4 L553.6,739.4 L554.2,739.4 L554.9,739.4 L555.5,739.4 L556.1,739.4 L556.8,739.4 L557.4,739.5 L558.0,739.5 L558.7,739.5 L559.3,739.5 L559.9,739.5 L560.6,739.5 L561.2,739.5 L561.8,739.5 L562.5,739.5 L563.1,739.5 L563.8,739.5 L564.4,739.5 L565.0,739.5 L565.7,739.6 L566.3,739.6 L566.9,739.6 L567.6,739.6 L568.2,739.6 L568.8,739.6 L569.5,739.6 L570.1,739.6 L570.7,739.6 L571.4,739.6 L572.0,739.6 L572.6,739.6 L573.3,739.6 L573.9,739.6 L574.5,739.7 L575.2,739.7 L575.8,739.7 L576.5,739.7 L577.1,739.7 L577.7,739.7 L578.4,739.7 L579.0,739.7 L579.6,739.7 L580.3,739.7 L580.9,739.7 L581.5,739.7 L582.2,739.7 L582.8,739.7 L583.4,739.7 L584.1,739.7 L584.7,739.8 L585.3,739.8 L586.0,739.8 L586.6,739.8 L587.2,739.8 L587.9,739.8 L588.5,739.8 L589.2,739.8 L589.8,739.8 L590.4,739.8 L591.1,739.8 L591.7,739.8 L592.3,739.8 L593.0,739.8 L593.6,739.8 L594.2,739.8 L594.9,739.9 L595.5,739.9" stroke-width="4.6"/><path d="M87.5,738.9 L88.1,738.9 L88.8,737.7 L89.4,737.7 L90.0,737.7 L90.7,739.5 L91.3,739.5 L91.9,739.5 L92.6,739.5 L93.2,739.5 L93.8,737.1 L94.5,737.1 L95.1,737.1 L95.8,737.1 L96.4,739.5 L97.0,739.5 L97.7,739.5 L98.3,739.5 L98.9,739.5 L99.6,734.9 L100.2,734.9 L100.8,734.9 L101.5,738.9 L102.1,738.9 L102.7,738.9 L103.4,737.7 L104.0,737.7 L104.6,737.7 L105.3,737.7 L105.9,737.7 L106.5,737.7 L107.2,737.7 L107.8,737.7 L108.5,737.7 L109.1,737.7 L109.7,737.7 L110.4,738.3 L111.0,738.3 L111.6,738.3 L112.3,738.3 L112.9,738.3 L113.5,737.7 L114.2,737.7 L114.8,737.7 L115.4,737.7 L116.1,739.5 L116.7,739.5 L117.3,739.5 L118.0,739.5 L118.6,739.5 L119.2,739.5 L119.9,737.7 L120.5,737.7 L121.2,737.7 L121.8,737.7 L122.4,737.7 L123.1,737.7 L123.7,737.7 L124.3,737.7 L125.0,738.9 L125.6,738.9 L126.2,738.9 L126.9,738.9 L127.5,738.9 L128.1,738.9 L128.8,737.1 L129.4,737.1 L130.0,737.7 L130.7,737.7 L131.3,737.7 L131.9,737.7 L132.6,737.7 L133.2,737.7 L133.9,738.9 L134.5,738.9 L135.1,737.1 L135.8,737.1 L136.4,737.1 L137.0,737.1 L137.7,737.1 L138.3,737.1 L138.9,737.7 L139.6,737.7 L140.2,737.7 L140.8,737.7 L141.5,737.7 L142.1,737.7 L142.7,738.3 L143.4,738.3 L144.0,738.9 L144.7,738.9 L145.3,738.9 L145.9,738.9 L146.6,738.9 L147.2,738.9 L147.8,739.5 L148.5,739.5 L149.1,739.5 L149.7,739.5 L150.4,739.5 L151.0,739.5 L151.6,738.9 L152.3,738.9 L152.9,738.9 L153.5,738.9 L154.2,738.9 L154.8,738.9 L155.4,738.9 L156.1,738.9 L156.7,737.7 L157.3,737.7 L158.0,737.7 L158.6,737.7 L159.3,737.7 L159.9,737.7 L160.5,737.7 L161.2,737.7 L161.8,738.9 L162.4,738.9 L163.1,738.9 L163.7,738.9 L164.3,738.9 L165.0,736.7 L165.6,736.7 L166.2,736.7 L166.9,737.7 L167.5,737.7 L168.1,737.7 L168.8,737.7 L169.4,737.7 L170.1,737.7 L170.7,737.7 L171.3,737.1 L172.0,737.1 L172.6,737.1 L173.2,737.1 L173.9,737.1 L174.5,738.3 L175.1,738.3 L175.8,738.3 L176.4,738.3 L177.0,738.3 L177.7,738.3 L178.3,738.3 L178.9,738.3 L179.6,738.3 L180.2,738.3 L180.8,734.9 L181.5,734.9 L182.1,734.9 L182.8,738.3 L183.4,738.3 L184.0,738.3 L184.7,738.3 L185.3,738.3 L185.9,738.3 L186.6,738.9 L187.2,738.9 L187.8,738.9 L188.5,738.9 L189.1,738.9 L189.7,736.1 L190.4,736.1 L191.0,736.1 L191.6,738.3 L192.3,741.0 L190.4,743.1 L191.0,743.4 L191.7,728.6 L192.3,682.3 L192.5,635.9 L193.1,589.6 L193.7,543.2 L194.4,496.9 L195.0,450.5 L195.3,438.3 L201.2,442.0 L202.4,448.3 L202.8,453.3 L203.5,458.2 L204.1,463.0 L205.7,467.6 L206.3,472.2 L207.0,476.7 L207.6,481.1 L207.7,485.6 L208.4,489.9 L209.0,494.1 L209.6,498.2 L210.3,502.3 L210.9,506.3 L211.8,510.2 L212.4,514.0 L213.1,517.8 L213.9,521.4 L214.6,525.1 L215.2,528.7 L215.8,532.2 L216.5,535.6 L217.1,539.0 L217.7,542.3 L218.4,545.6 L219.0,548.8 L219.6,552.0 L220.3,555.1 L220.9,558.1 L221.5,561.1 L222.1,564.0 L223.2,566.8 L223.8,569.6 L223.3,572.7 L224.0,575.4 L224.6,578.1 L225.2,580.7 L225.9,583.3 L226.5,585.8 L227.1,588.3 L227.8,590.8 L228.5,593.2 L229.6,595.4 L230.3,597.7 L230.9,600.0 L231.6,602.2 L232.3,604.4 L232.9,606.6 L233.3,608.7 L234.0,610.8 L234.7,612.8 L235.3,614.8 L236.5,616.7 L237.1,618.6 L237.8,620.5 L238.4,622.3 L239.1,624.1 L239.5,626.0 L240.2,627.8 L240.8,629.5 L242.4,630.9 L243.1,632.5 L243.7,634.1 L244.4,635.7 L245.0,637.3 L245.7,638.8 L245.2,640.8 L245.9,642.3 L246.5,643.8 L247.2,645.2 L248.4,646.4 L249.1,647.8 L249.7,649.1 L250.4,650.5 L251.0,651.8 L251.7,653.0 L251.8,654.6 L252.4,655.8 L254.2,656.5 L254.8,657.7 L255.4,658.8 L256.1,660.0 L256.7,661.1 L257.4,662.2 L258.0,663.3 L258.7,664.4 L257.2,666.6 L257.9,667.7 L258.5,668.7 L259.2,669.7 L259.8,670.7 L260.5,671.6 L261.1,672.6 L261.8,673.5 L263.4,673.8 L264.1,674.6 L264.7,675.5 L265.4,676.4 L266.0,677.2 L266.6,678.0 L267.3,678.9 L267.9,679.7 L268.6,680.4 L269.2,681.2 L269.8,682.0 L270.5,682.7 L270.6,683.8 L271.3,684.5 L271.9,685.2 L273.0,685.5 L273.6,686.2 L274.3,686.8 L274.9,687.5 L275.5,688.2 L276.5,688.4 L277.1,689.0 L277.7,689.7 L278.3,690.3 L278.9,690.9 L278.7,692.3 L279.3,692.9 L279.5,693.9 L280.1,694.5 L280.7,695.1 L281.3,695.6 L283.5,694.4 L284.1,694.9 L284.7,695.4 L284.9,696.4 L285.5,696.9 L286.1,697.4 L285.6,699.3 L286.2,699.7 L286.8,700.2 L287.4,700.7 L289.5,699.2 L290.1,699.7 L290.7,700.1 L291.2,700.5 L291.8,701.0 L291.4,702.9 L292.0,703.3 L292.6,703.7 L293.2,704.1 L294.8,703.0 L295.4,703.4 L296.0,703.7 L296.6,704.1 L297.2,704.5 L297.8,704.8 L297.8,706.2 L298.4,706.6 L299.0,706.9 L299.6,707.3 L300.8,706.5 L301.4,706.9 L301.7,707.7 L302.3,708.0 L302.9,708.4 L303.5,708.7 L304.1,709.0 L304.7,709.3 L305.3,709.6 L305.9,709.9 L306.5,710.2 L307.1,710.4 L307.7,710.7 L308.3,711.0 L308.9,711.3 L309.8,711.0 L310.4,711.2 L311.0,711.5 L311.6,711.8 L312.2,712.0 L312.8,712.3 L313.2,713.1 L313.8,713.3 L314.4,713.5 L315.0,713.8 L315.6,714.0 L316.2,714.2 L316.8,714.4 L317.4,714.7 L318.0,714.9 L318.6,715.1 L319.3,715.3 L319.9,715.5 L320.7,715.2 L321.3,715.4 L321.7,716.1 L322.3,716.3 L322.6,717.7 L323.2,717.9 L323.8,718.1 L324.4,718.2 L325.0,718.4 L325.7,718.6 L326.3,718.8 L326.9,719.0 L327.5,719.1 L328.1,719.3 L328.7,719.5 L329.4,719.7 L330.0,719.8 L330.6,720.0 L331.2,720.1 L331.8,720.3 L332.5,720.5 L333.1,720.6 L333.7,720.8 L334.3,720.9 L335.4,719.3 L336.0,719.5 L336.6,719.6 L337.2,719.7 L337.8,719.9 L338.4,720.0 L338.8,721.3 L339.4,721.5 L340.0,721.6 L340.7,721.7 L341.5,720.7 L342.1,720.8 L342.5,722.1 L343.2,722.2 L343.8,722.4 L344.4,722.5 L344.8,723.8 L345.4,723.9 L346.0,724.0 L346.7,724.1 L347.3,724.2 L348.1,723.2 L348.8,723.3 L349.4,723.4 L350.0,723.5 L350.6,723.6 L351.3,723.7 L352.1,722.6 L352.7,722.7 L353.3,722.8 L353.9,722.9 L354.6,723.0 L355.2,723.1 L355.8,723.2 L356.4,723.3 L357.1,723.4 L357.7,723.5 L358.3,723.6 L358.9,723.7 L359.6,723.8 L360.2,723.9 L360.8,724.0 L361.4,724.1 L362.1,724.1 L362.6,724.8 L363.2,724.9 L363.8,725.0 L364.8,722.3 L365.5,722.4 L366.1,722.5 L366.4,724.7 L367.1,724.8 L367.7,724.9 L368.3,725.0 L368.9,725.0 L369.6,725.1 L370.2,725.2 L370.8,725.3 L371.4,725.3 L372.1,725.4 L372.7,725.5 L373.1,727.9 L373.7,728.0 L374.6,725.7 L375.2,725.7 L375.7,727.0 L376.3,727.1 L377.0,727.1 L377.6,727.2 L378.2,727.3 L379.0,726.1 L379.6,726.2 L380.2,726.3 L380.9,726.3 L381.5,726.4 L382.1,726.4 L382.6,727.7 L383.3,727.8 L383.9,727.8 L384.5,727.9 L385.1,727.9 L385.8,728.0 L386.5,726.8 L387.1,726.9 L387.8,727.0 L388.3,728.2 L388.9,728.3 L389.6,728.3 L390.2,727.8 L390.9,727.8 L391.5,727.9 L392.1,728.5 L392.7,728.6 L393.3,728.6 L394.0,728.7 L394.7,727.5 L395.3,727.6 L395.8,729.4 L396.5,729.5 L397.1,729.5 L397.7,730.2 L398.3,730.2 L398.9,730.3 L399.7,727.9 L400.4,728.0 L401.0,728.0 L401.6,728.0 L402.3,728.1 L402.9,728.7 L403.5,728.8 L404.1,728.8 L404.6,730.7 L405.3,730.7 L405.9,730.7 L406.5,730.8 L407.2,730.8 L407.8,730.9 L408.4,730.9 L409.1,730.9 L409.7,731.0 L410.3,731.0 L411.1,728.7 L411.7,728.7 L412.4,728.7 L413.0,728.8 L413.6,728.8 L414.3,728.9 L414.8,731.3 L415.4,731.3 L416.0,731.4 L416.8,729.6 L417.4,729.6 L418.0,729.7 L418.7,729.7 L419.3,729.7 L419.9,729.8 L420.6,729.8 L421.2,729.9 L421.8,730.5 L422.4,730.5 L423.0,731.8 L423.6,731.8 L424.3,731.8 L424.9,731.9 L425.5,731.9 L426.2,730.7 L426.9,730.7 L427.5,730.8 L428.1,730.8 L428.8,730.8 L429.4,729.9 L430.1,729.9 L430.7,729.9 L431.3,730.4 L431.9,730.4 L432.6,730.4 L433.2,730.5 L433.8,730.5 L434.5,730.5 L435.1,731.1 L435.7,731.2 L436.3,731.2 L437.0,731.2 L437.6,731.3 L438.3,730.1 L438.9,730.1 L439.6,730.1 L440.2,730.2 L440.8,730.2 L441.5,730.2 L442.1,730.3 L442.7,730.3 L443.4,730.3 L444.0,730.3 L444.6,730.4 L445.2,732.2 L445.8,732.2 L446.5,732.2 L447.1,732.3 L447.7,732.3 L448.4,732.3 L449.0,732.9 L449.6,733.0 L450.2,733.0 L450.9,733.0 L451.5,733.0 L452.1,733.1 L452.8,731.3 L453.5,731.3 L454.1,730.7 L454.8,730.8 L455.4,730.8 L456.0,730.8 L456.7,730.8 L457.3,730.9 L457.9,731.5 L458.5,731.5 L459.2,730.9 L459.8,730.9 L460.5,731.0 L461.1,731.0 L461.7,731.0 L462.4,731.0 L462.9,733.5 L463.6,733.5 L464.2,733.5 L464.8,733.5 L465.5,733.5 L466.1,733.6 L466.7,733.6 L467.4,733.6 L468.0,733.6 L468.6,733.6 L469.3,733.7 L469.9,733.7 L470.5,733.7 L471.2,733.7 L471.8,733.7 L472.4,733.8 L473.1,733.8 L473.7,733.8 L474.3,733.8 L475.0,731.4 L475.7,731.5 L476.3,731.5 L476.9,731.5 L477.6,731.5 L478.2,731.5 L478.9,731.6 L479.5,731.6 L480.1,731.6 L480.8,731.6 L481.4,731.6 L482.0,731.7 L482.7,731.7 L483.3,732.9 L483.9,732.9 L484.5,732.9 L485.1,734.1 L485.8,734.2 L486.4,734.2 L487.1,731.8 L487.7,731.8 L488.4,731.8 L489.0,731.8 L489.6,731.9 L490.2,733.1 L490.9,733.1 L491.5,733.1 L492.1,733.1 L492.8,733.1 L493.4,733.2 L494.0,733.2 L494.7,733.2 L495.3,733.2 L495.9,733.2 L496.6,733.2 L497.2,732.1 L497.9,732.1 L498.4,734.5 L499.1,734.5 L499.7,734.5 L500.3,734.5 L501.0,734.6 L501.6,734.6 L502.3,732.2 L502.9,732.2 L503.6,732.2 L504.2,732.2 L504.8,733.4 L505.4,733.5 L506.1,733.5 L506.7,734.7 L507.3,734.7 L507.9,734.7 L508.6,734.1 L509.2,734.1 L509.9,734.1 L510.5,734.2 L511.1,734.2 L511.8,734.2 L512.4,732.4 L513.1,732.4 L513.7,732.4 L514.3,732.4 L514.9,734.2 L515.6,734.2 L516.2,734.3 L516.9,732.5 L517.5,732.5 L518.1,732.5 L518.8,732.5 L519.4,732.5 L520.0,733.1 L520.7,733.1 L521.3,733.1 L521.9,733.2 L522.6,733.2 L523.2,733.2 L523.8,733.2 L524.5,733.2 L525.1,733.2 L525.7,733.2 L526.4,733.2 L527.0,733.2 L527.6,733.2 L528.3,732.7 L528.9,732.7 L529.5,733.9 L530.2,733.9 L530.8,733.9 L531.4,733.9 L532.1,733.9 L532.7,732.7 L533.4,732.7 L534.0,732.7 L534.6,732.8 L535.3,732.8 L535.9,732.8 L536.5,734.0 L537.2,734.0 L537.8,734.0 L538.4,734.0 L539.1,734.0 L539.7,734.0 L540.3,734.0 L541.0,734.0 L541.6,734.1 L542.2,732.9 L542.9,732.9 L543.5,732.9 L544.1,734.1 L544.8,734.1 L545.4,734.1 L546.0,734.1 L546.7,734.1 L547.3,732.9 L548.0,732.9 L548.6,735.3 L549.2,735.4 L549.8,734.2 L550.5,734.2 L551.1,734.2 L551.8,734.2 L552.4,734.2 L553.0,733.6 L553.7,733.6 L554.3,733.6 L554.9,733.6 L555.6,733.6 L556.2,733.0 L556.8,733.0 L557.5,733.1 L558.1,733.1 L558.7,733.1 L559.4,733.1 L560.0,733.1 L560.7,733.1 L561.3,733.1 L561.9,734.9 L562.5,734.9 L563.2,734.9 L563.8,734.9 L564.4,734.9 L565.1,734.9 L565.7,735.0 L566.4,733.8 L567.0,733.8 L567.6,733.8 L568.2,735.6 L568.9,735.6 L569.5,735.6 L570.1,735.6 L570.8,735.6 L571.4,735.6 L572.1,733.2 L572.7,733.2 L573.3,733.2 L574.0,733.2 L574.6,733.3 L575.2,733.3 L575.9,733.3 L576.5,733.3 L577.2,733.3 L577.8,733.3 L578.4,733.3 L579.1,733.3 L579.7,733.3 L580.3,733.3 L581.0,733.3 L581.6,733.3 L582.2,733.3 L582.9,733.3 L583.5,735.7 L584.1,735.7 L584.7,735.8 L585.4,735.8 L586.0,735.8 L586.6,735.8 L587.3,734.6 L587.9,734.6 L588.6,734.6 L589.2,734.6 L589.8,734.6 L590.5,734.6 L591.1,735.2 L591.7,735.2 L592.4,735.2 L593.0,735.2 L593.6,735.2 L594.3,735.2 L594.9,733.5 L595.6,733.5 L595.4,746.3 L594.8,746.3 L594.2,743.8 L593.6,743.8 L592.9,743.8 L592.3,743.8 L591.6,745.0 L591.0,745.0 L590.4,745.0 L589.7,745.0 L589.1,745.0 L588.5,745.0 L587.8,745.0 L587.2,745.0 L586.5,746.2 L585.9,746.2 L585.3,746.2 L584.6,746.2 L584.0,746.1 L583.4,746.1 L582.8,743.7 L582.1,743.7 L581.5,743.7 L580.9,743.7 L580.2,743.7 L579.6,743.7 L578.9,743.7 L578.3,743.7 L577.7,743.7 L577.0,746.1 L576.4,746.1 L575.7,746.1 L575.1,746.1 L574.5,746.1 L573.8,746.0 L573.2,746.0 L572.6,746.0 L571.9,746.0 L571.3,745.4 L570.7,745.4 L570.1,743.6 L569.4,743.6 L568.8,743.6 L568.2,743.6 L567.5,743.6 L566.9,743.6 L566.2,744.8 L565.6,744.8 L565.0,743.5 L564.3,743.5 L563.7,743.5 L563.0,745.3 L562.4,745.3 L561.8,745.3 L561.1,745.3 L560.5,745.3 L559.9,745.3 L559.2,745.3 L558.6,744.7 L558.0,744.7 L557.3,744.7 L556.7,744.6 L556.1,744.6 L555.4,744.6 L554.8,744.6 L554.1,746.2 L553.5,746.2 L552.9,746.2 L552.3,744.6 L551.6,744.6 L551.0,745.2 L550.3,745.2 L549.7,745.2 L549.1,745.2 L548.4,744.5 L547.8,744.5 L547.2,744.5 L546.5,744.5 L545.9,745.7 L545.2,745.7 L544.6,745.7 L544.0,745.7 L543.3,745.7 L542.7,745.7 L542.1,745.7 L541.4,745.6 L540.8,745.6 L540.2,745.6 L539.5,745.6 L538.9,745.6 L538.3,745.6 L537.6,745.6 L537.0,745.6 L536.4,745.6 L535.7,745.6 L535.1,745.6 L534.4,745.5 L533.8,745.5 L533.2,745.5 L532.6,743.1 L531.9,743.1 L531.3,743.1 L530.7,743.1 L530.0,743.1 L529.4,743.1 L528.8,743.1 L528.1,743.1 L527.5,743.0 L526.9,743.0 L526.2,744.8 L525.6,744.8 L524.9,744.8 L524.3,744.8 L523.7,744.8 L523.0,744.8 L522.4,745.4 L521.7,745.4 L521.1,745.3 L520.5,743.5 L519.9,743.5 L519.2,743.5 L518.6,745.3 L517.9,745.3 L517.3,745.3 L516.6,745.3 L516.0,745.3 L515.4,743.4 L514.8,743.4 L514.1,743.4 L513.5,743.4 L512.9,743.4 L512.2,743.4 L511.6,742.8 L511.0,742.8 L510.3,742.8 L509.7,742.7 L509.1,742.7 L508.4,742.7 L507.8,745.1 L507.1,745.1 L506.5,744.5 L505.9,744.5 L505.2,744.5 L504.6,744.4 L503.9,744.4 L503.3,744.4 L502.7,743.8 L502.0,743.8 L501.4,743.8 L500.8,743.8 L500.1,743.7 L499.5,743.7 L498.8,744.9 L498.2,744.9 L497.5,744.9 L496.9,743.7 L496.3,743.6 L495.7,743.6 L495.0,743.6 L494.4,743.0 L493.8,743.0 L493.1,743.0 L492.5,742.9 L491.8,746.9 L491.1,746.9 L490.6,743.5 L489.9,743.5 L489.3,743.5 L488.7,743.4 L488.0,744.6 L487.4,744.6 L486.7,744.6 L486.1,744.6 L485.5,743.4 L484.9,743.3 L484.2,743.3 L483.6,743.3 L482.9,744.5 L482.3,744.5 L481.6,744.4 L481.0,744.4 L480.4,744.4 L479.7,744.4 L479.1,744.4 L478.5,744.4 L477.9,743.1 L477.2,743.1 L476.6,743.1 L476.0,743.1 L475.3,743.1 L474.7,741.8 L474.1,741.8 L473.5,741.8 L472.7,744.2 L472.1,744.2 L471.5,744.1 L470.8,744.1 L470.2,744.1 L469.6,741.7 L469.0,741.7 L468.4,741.6 L467.7,741.6 L467.1,741.6 L466.4,743.4 L465.8,743.4 L465.1,743.3 L464.5,743.3 L463.9,743.3 L463.2,742.7 L462.6,742.6 L462.0,742.6 L461.3,742.6 L460.7,742.6 L460.1,742.6 L459.4,743.1 L458.8,743.1 L458.2,741.9 L457.5,741.9 L456.9,741.8 L456.2,742.4 L455.6,742.4 L454.9,743.6 L454.3,743.5 L453.7,742.9 L453.0,742.9 L452.4,742.9 L451.8,742.9 L451.1,742.8 L450.5,742.8 L449.8,743.4 L449.2,743.4 L448.6,743.3 L447.9,743.3 L447.3,743.3 L446.7,743.3 L446.1,740.8 L445.5,740.8 L444.8,740.8 L444.2,740.8 L443.6,740.7 L442.9,740.7 L442.2,743.1 L441.6,743.0 L440.9,743.0 L440.3,743.0 L439.6,743.0 L439.0,742.9 L438.4,742.9 L437.8,740.5 L437.2,740.5 L436.6,740.4 L435.9,740.4 L435.3,740.4 L434.6,742.7 L433.9,742.7 L433.3,742.5 L432.6,742.4 L432.0,742.6 L431.4,742.6 L430.7,742.6 L430.1,742.5 L429.5,742.5 L428.8,742.5 L428.3,740.6 L427.6,740.6 L427.0,740.6 L426.3,741.1 L425.7,741.1 L425.1,741.1 L424.4,741.0 L423.8,741.0 L423.1,741.0 L422.5,740.3 L421.9,740.3 L421.3,740.3 L420.6,740.2 L420.0,740.2 L419.4,740.2 L418.7,740.1 L418.1,740.1 L417.4,740.1 L416.8,740.0 L416.2,739.4 L415.6,739.4 L414.9,739.3 L414.2,741.1 L413.5,741.0 L412.9,741.0 L412.3,741.0 L411.5,743.7 L410.8,743.7 L410.2,743.6 L409.5,743.6 L408.9,743.6 L408.3,743.5 L407.9,738.9 L407.3,738.8 L406.6,738.8 L405.9,740.6 L405.3,740.5 L404.6,740.5 L403.9,741.0 L403.3,741.0 L402.7,740.9 L402.0,740.9 L401.4,740.9 L400.7,740.8 L400.1,740.8 L399.5,740.7 L398.8,740.7 L398.2,740.6 L397.5,740.6 L396.9,740.5 L396.3,740.5 L395.6,740.4 L395.0,740.4 L394.3,740.3 L393.7,740.3 L393.1,739.6 L392.5,739.6 L391.8,739.5 L391.2,739.5 L390.6,739.4 L389.9,739.4 L389.3,738.7 L388.7,738.7 L388.0,738.6 L387.4,738.6 L386.8,738.5 L386.1,738.5 L385.4,739.6 L384.7,739.5 L384.1,739.5 L383.5,739.4 L382.8,739.4 L382.2,739.3 L381.7,737.5 L381.1,737.4 L380.4,737.3 L379.8,737.3 L379.0,739.0 L378.3,738.9 L377.7,738.9 L377.0,738.8 L376.7,736.4 L376.0,736.3 L375.4,736.2 L374.5,737.9 L373.9,737.9 L373.3,737.8 L372.6,737.7 L372.0,737.7 L371.3,737.6 L370.8,736.9 L370.1,736.8 L369.5,736.8 L368.8,736.7 L367.8,740.0 L367.1,739.9 L366.5,739.8 L365.9,739.8 L365.6,736.3 L365.0,736.2 L364.2,737.3 L363.5,737.3 L362.9,737.2 L362.3,737.1 L361.8,735.8 L361.1,735.7 L360.5,735.6 L359.8,735.6 L359.2,735.5 L358.6,735.4 L357.4,738.6 L356.8,738.6 L356.1,738.5 L355.5,738.4 L354.8,738.3 L354.5,736.0 L353.9,735.9 L353.2,735.8 L352.6,735.7 L351.9,735.6 L351.3,735.5 L350.6,735.4 L350.0,735.3 L349.3,735.2 L349.0,733.3 L348.3,733.2 L347.7,733.1 L347.0,732.9 L346.4,732.8 L345.5,733.9 L344.9,733.8 L344.1,734.2 L343.5,734.1 L342.8,734.0 L342.2,733.9 L341.5,733.7 L341.0,733.0 L340.4,732.9 L339.7,732.8 L339.1,732.6 L338.8,730.7 L338.1,730.6 L337.5,730.5 L336.8,730.3 L336.2,730.2 L335.5,730.0 L334.9,729.9 L334.2,729.7 L333.3,730.8 L332.7,730.6 L331.9,731.0 L331.2,730.9 L330.6,730.7 L330.1,730.0 L329.4,729.8 L328.8,729.6 L328.1,729.5 L327.5,729.3 L327.0,728.5 L326.3,728.4 L325.7,728.2 L325.0,728.0 L324.4,727.8 L323.7,727.6 L322.6,729.0 L322.0,728.8 L321.3,728.6 L320.6,728.4 L320.0,728.2 L319.3,728.0 L318.6,727.9 L317.9,727.7 L317.3,727.5 L317.2,725.6 L316.5,725.4 L315.9,725.1 L315.2,724.9 L314.6,724.7 L313.9,724.5 L312.8,725.3 L312.2,725.1 L311.5,724.9 L310.9,724.6 L310.2,724.3 L310.0,723.0 L309.3,722.7 L308.7,722.4 L308.0,722.2 L307.3,721.9 L306.7,721.6 L305.3,723.0 L304.6,722.7 L304.0,722.4 L303.3,722.1 L302.9,721.3 L302.2,721.0 L301.6,720.6 L300.9,720.3 L300.0,720.5 L299.3,720.2 L298.6,719.9 L297.9,719.5 L297.3,719.2 L296.6,718.8 L295.9,718.5 L295.3,718.1 L294.6,717.7 L293.9,717.4 L293.2,717.0 L292.6,716.6 L291.9,716.2 L292.1,714.3 L291.5,713.9 L290.8,713.5 L289.2,714.6 L288.5,714.1 L287.9,713.7 L287.2,713.3 L287.5,711.3 L286.8,710.9 L286.2,710.4 L285.5,710.0 L284.8,709.5 L283.1,710.5 L282.5,710.0 L281.8,709.5 L281.1,709.0 L280.4,708.4 L279.8,707.9 L279.1,707.4 L278.4,706.8 L278.9,704.9 L278.2,704.3 L277.5,703.8 L276.9,703.2 L275.0,704.0 L274.4,703.4 L273.7,702.7 L273.0,702.1 L272.3,701.5 L271.7,700.9 L272.7,698.5 L272.0,697.8 L271.3,697.2 L270.7,696.5 L268.7,697.1 L268.1,696.4 L267.4,695.6 L266.7,694.9 L266.1,694.2 L265.4,693.4 L265.7,691.8 L265.0,691.0 L264.4,690.2 L263.8,689.4 L263.1,688.6 L262.5,687.8 L260.5,688.0 L259.8,687.1 L259.2,686.2 L260.0,684.3 L259.4,683.4 L257.3,683.5 L256.6,682.5 L256.0,681.6 L256.9,679.6 L256.2,678.6 L255.6,677.6 L255.5,676.2 L254.9,675.2 L254.2,674.2 L252.6,673.7 L252.0,672.6 L251.4,671.5 L251.3,670.1 L250.6,669.0 L250.0,667.8 L249.4,666.7 L249.3,665.2 L248.7,664.0 L247.0,663.3 L246.4,662.0 L245.8,660.8 L245.2,659.5 L244.5,658.1 L243.9,656.8 L242.8,655.7 L242.1,654.3 L241.0,653.1 L240.4,651.7 L239.7,650.2 L241.3,647.8 L240.7,646.3 L239.0,645.2 L238.4,643.6 L237.8,642.1 L236.0,640.9 L235.4,639.2 L234.8,637.6 L234.2,635.9 L235.8,633.3 L234.6,631.8 L233.9,630.0 L233.3,628.2 L232.7,626.3 L232.1,624.5 L230.8,622.8 L230.2,620.8 L229.5,618.9 L228.8,616.9 L228.2,614.8 L227.6,612.8 L227.4,610.5 L226.8,608.4 L226.2,606.2 L225.6,603.9 L225.0,601.6 L223.9,599.5 L223.3,597.1 L222.7,594.7 L222.1,592.3 L221.5,589.8 L221.1,587.2 L220.4,584.6 L219.8,582.0 L219.2,579.4 L218.5,576.7 L218.6,573.8 L218.0,571.0 L216.8,568.2 L216.2,565.3 L215.6,562.4 L214.9,559.4 L214.3,556.3 L213.7,553.2 L213.0,550.0 L212.4,546.8 L212.2,543.4 L211.6,540.1 L210.9,536.7 L210.1,533.2 L209.4,529.7 L208.8,526.1 L208.2,522.4 L207.5,518.7 L206.9,514.9 L205.2,511.2 L204.5,507.3 L204.3,503.2 L203.6,499.2 L203.0,495.0 L202.4,490.8 L201.7,486.5 L201.6,482.0 L200.9,477.5 L199.8,473.1 L199.2,468.4 L198.5,463.7 L197.9,458.9 L197.5,454.0 L196.9,449.0 L196.9,445.5 L201.7,438.6 L200.7,450.6 L200.1,496.9 L199.2,543.3 L198.6,589.6 L197.9,636.0 L197.3,682.3 L196.7,728.7 L195.8,743.6 L195.1,743.9 L192.3,745.7 L191.6,748.7 L191.0,748.7 L190.4,748.7 L189.7,748.7 L189.1,748.7 L188.5,748.7 L187.8,748.7 L187.2,749.9 L186.6,749.9 L185.9,749.9 L185.3,749.9 L184.7,749.9 L184.0,749.9 L183.4,749.9 L182.8,749.9 L182.1,749.9 L181.5,749.9 L180.8,749.9 L180.2,749.9 L179.6,747.5 L178.9,747.5 L178.3,747.5 L177.7,749.9 L177.0,749.9 L176.4,749.9 L175.8,749.9 L175.1,749.9 L174.5,749.9 L173.9,747.5 L173.2,747.5 L172.6,749.3 L172.0,749.3 L171.3,749.3 L170.7,749.3 L170.1,749.9 L169.4,749.9 L168.8,749.9 L168.1,749.9 L167.5,749.9 L166.9,749.9 L166.2,747.5 L165.6,747.5 L165.0,747.5 L164.3,747.5 L163.7,747.5 L163.1,748.7 L162.4,748.7 L161.8,748.7 L161.2,748.7 L160.5,748.7 L159.9,748.7 L159.3,749.3 L158.6,749.3 L158.0,749.3 L157.3,749.3 L156.7,748.1 L156.1,748.1 L155.4,748.1 L154.8,748.1 L154.2,748.1 L153.5,748.1 L152.9,748.1 L152.3,748.1 L151.6,748.1 L151.0,748.1 L150.4,747.5 L149.7,747.5 L149.1,747.5 L148.5,747.5 L147.8,747.5 L147.2,749.9 L146.6,749.9 L145.9,749.9 L145.3,749.9 L144.7,749.9 L144.0,749.9 L143.4,749.9 L142.7,749.9 L142.1,749.9 L141.5,749.9 L140.8,749.9 L140.2,749.9 L139.6,749.3 L138.9,749.3 L138.3,749.3 L137.7,749.3 L137.0,749.3 L136.4,749.3 L135.8,749.3 L135.1,749.3 L134.5,749.3 L133.9,749.3 L133.2,748.1 L132.6,748.1 L131.9,748.1 L131.3,748.1 L130.7,748.1 L130.0,748.1 L129.4,749.9 L128.8,749.9 L128.1,749.9 L127.5,749.9 L126.9,748.1 L126.2,748.1 L125.6,748.1 L125.0,748.1 L124.3,748.1 L123.7,748.1 L123.1,749.9 L122.4,749.9 L121.8,749.9 L121.2,747.5 L120.5,747.5 L119.9,747.5 L119.2,747.5 L118.6,747.5 L118.0,747.5 L117.3,749.9 L116.7,749.9 L116.1,749.9 L115.4,749.9 L114.8,749.3 L114.2,749.3 L113.5,749.3 L112.9,749.3 L112.3,749.3 L111.6,749.9 L111.0,749.9 L110.4,747.5 L109.7,747.5 L109.1,747.5 L108.5,747.5 L107.8,747.5 L107.2,747.5 L106.5,749.9 L105.9,749.9 L105.3,749.9 L104.6,749.9 L104.0,749.3 L103.4,749.3 L102.7,749.3 L102.1,749.3 L101.5,749.3 L100.8,749.3 L100.2,749.9 L99.6,749.9 L98.9,749.9 L98.3,749.9 L97.7,749.9 L97.0,749.7 L96.4,749.7 L95.8,749.7 L95.1,749.7 L94.5,749.7 L93.8,749.7 L93.2,749.9 L92.6,749.9 L91.9,749.9 L91.3,749.3 L90.7,749.3 L90.0,748.7 L89.4,748.7 L88.8,748.7 L88.1,748.7 L87.5,748.7Z" fill="#000" stroke="none"/>
<path d="M87.5,747.2 L88.1,747.2 L88.8,747.2 L89.4,747.2 L90.0,747.2 L90.7,747.2 L91.3,747.2 L91.9,747.2 L92.6,747.2 L93.2,747.2 L93.8,747.2 L94.5,747.2 L95.1,747.2 L95.8,747.2 L96.4,747.2 L97.0,747.2 L97.7,747.2 L98.3,747.2 L98.9,747.2 L99.6,747.2 L100.2,747.2 L100.8,747.2 L101.5,747.2 L102.1,747.2 L102.7,747.2 L103.4,747.2 L104.0,747.2 L104.6,747.2 L105.3,747.2 L105.9,747.2 L106.5,747.2 L107.2,747.2 L107.8,747.2 L108.5,747.2 L109.1,747.2 L109.7,747.2 L110.4,747.2 L111.0,747.2 L111.6,747.2 L112.3,747.2 L112.9,747.2 L113.5,747.2 L114.2,747.2 L114.8,747.2 L115.4,747.2 L116.1,747.2 L116.7,747.2 L117.3,747.2 L118.0,747.2 L118.6,747.2 L119.2,747.2 L119.9,747.2 L120.5,747.2 L121.2,747.2 L121.8,747.2 L122.4,747.2 L123.1,747.2 L123.7,747.2 L124.3,747.2 L125.0,747.2 L125.6,747.2 L126.2,747.2 L126.9,747.2 L127.5,747.2 L128.1,747.2 L128.8,747.2 L129.4,747.2 L130.0,747.2 L130.7,747.2 L131.3,747.2 L131.9,747.2 L132.6,747.2 L133.2,747.2 L133.9,747.2 L134.5,747.2 L135.1,747.2 L135.8,747.2 L136.4,747.2 L137.0,747.2 L137.7,747.2 L138.3,747.2 L138.9,747.2 L139.6,747.2 L140.2,747.2 L140.8,747.2 L141.5,747.2 L142.1,747.2 L142.7,747.2 L143.4,747.2 L144.0,747.2 L144.7,747.2 L145.3,747.2 L145.9,747.2 L146.6,747.2 L147.2,747.2 L147.8,747.2 L148.5,747.2 L149.1,747.2 L149.7,747.2 L150.4,747.2 L151.0,747.2 L151.6,747.2 L152.3,747.2 L152.9,747.2 L153.5,747.2 L154.2,747.2 L154.8,747.2 L155.4,747.2 L156.1,747.2 L156.7,747.2 L157.3,747.2 L158.0,747.2 L158.6,747.2 L159.3,747.2 L159.9,747.2 L160.5,747.2 L161.2,747.2 L161.8,747.2 L162.4,747.2 L163.1,747.2 L163.7,747.2 L164.3,747.2 L165.0,747.2 L165.6,747.2 L166.2,747.2 L166.9,747.2 L167.5,747.2 L168.1,747.2 L168.8,747.2 L169.4,747.2 L170.1,747.2 L170.7,747.2 L171.3,747.2 L172.0,747.2 L172.6,747.2 L173.2,747.2 L173.9,747.2 L174.5,747.2 L175.1,747.2 L175.8,747.2 L176.4,747.2 L177.0,747.2 L177.7,747.2 L178.3,747.2 L178.9,747.2 L179.6,747.2 L180.2,747.2 L180.8,747.2 L181.5,747.2 L182.1,747.2 L182.8,747.2 L183.4,747.2 L184.0,747.2 L184.7,747.2 L185.3,747.2 L185.9,747.2 L186.6,747.2 L187.2,747.2 L187.8,747.2 L188.5,747.2 L189.1,747.2 L189.7,747.2 L190.4,747.2 L191.0,747.2 L191.6,747.2 L192.3,747.2 L192.9,747.2 L193.5,747.2 L194.2,747.2 L194.8,724.8 L195.4,691.9 L196.1,659.0 L196.7,626.1 L197.4,593.2 L198.0,560.2 L198.6,527.3 L199.3,509.5 L199.9,512.9 L200.5,516.3 L201.2,519.6 L201.8,522.8 L202.4,526.0 L203.1,529.1 L203.7,532.2 L204.3,535.3 L205.0,538.3 L205.6,541.3 L206.2,544.2 L206.9,547.0 L207.5,549.9 L208.2,552.7 L208.8,555.4 L209.4,558.1 L210.1,560.8 L210.7,563.4 L211.3,566.0 L212.0,568.5 L212.6,571.1 L213.2,573.5 L213.9,576.0 L214.5,578.4 L215.1,580.7 L215.8,583.1 L216.4,585.4 L217.0,587.6 L217.7,589.8 L218.3,592.0 L218.9,594.2 L219.6,596.3 L220.2,598.4 L220.8,600.5 L221.5,602.5 L222.1,604.5 L222.8,606.5 L223.4,608.5 L224.0,610.4 L224.7,612.3 L225.3,614.1 L225.9,616.0 L226.6,617.8 L227.2,619.6 L227.8,621.3 L228.5,623.1 L229.1,624.8 L229.7,626.4 L230.4,628.1 L231.0,629.7 L231.6,631.3 L232.3,632.9 L232.9,634.5 L233.6,636.0 L234.2,637.5 L234.8,639.0 L235.5,640.5 L236.1,641.9 L236.7,643.4 L237.4,644.8 L238.0,646.2 L238.6,647.5 L239.3,648.9 L239.9,650.2 L240.5,651.5 L241.2,652.8 L241.8,654.1 L242.4,655.3 L243.1,656.5 L243.7,657.8 L244.3,659.0 L245.0,660.1 L245.6,661.3 L246.2,662.4 L246.9,663.6 L247.5,664.7 L248.2,665.8 L248.8,666.9 L249.4,667.9 L250.1,669.0 L250.7,670.0 L251.3,671.0 L252.0,672.0 L252.6,673.0 L253.2,674.0 L253.9,675.0 L254.5,675.9 L255.1,676.8 L255.8,677.8 L256.4,678.7 L257.0,679.6 L257.7,680.4 L258.3,681.3 L259.0,682.2 L259.6,683.0 L260.2,683.8 L260.9,684.7 L261.5,685.5 L262.1,686.3 L262.8,687.0 L263.4,687.8 L264.0,688.6 L264.7,689.3 L265.3,690.1 L265.9,690.8 L266.6,691.5 L267.2,692.2 L267.8,692.9 L268.5,693.6 L269.1,694.3 L269.7,695.0 L270.4,695.6 L271.0,696.3 L271.6,696.9 L272.3,697.5 L272.9,698.2 L273.6,698.8 L274.2,699.4 L274.8,700.0 L275.5,700.6 L276.1,701.2 L276.7,701.7 L277.4,702.3 L278.0,702.8 L278.6,703.4 L279.3,703.9 L279.9,704.5 L280.5,705.0 L281.2,705.5 L281.8,706.0 L282.4,706.5 L283.1,707.0 L283.7,707.5 L284.4,708.0 L285.0,708.5 L285.6,708.9 L286.3,709.4 L286.9,709.9 L287.5,710.3 L288.2,710.7 L288.8,711.2 L289.4,711.6 L290.1,712.0 L290.7,712.5 L291.3,712.9 L292.0,713.3 L292.6,713.7 L293.2,714.1 L293.9,714.5 L294.5,714.9 L295.1,715.2 L295.8,715.6 L296.4,716.0 L297.1,716.3 L297.7,716.7 L298.3,717.1 L299.0,717.4 L299.6,717.7 L300.2,718.1 L300.9,718.4 L301.5,718.8 L302.1,719.1 L302.8,719.4 L303.4,719.7 L304.0,720.0 L304.7,720.3 L305.3,720.6 L305.9,720.9 L306.6,721.2 L307.2,721.5 L307.8,721.8 L308.5,722.1 L309.1,722.4 L309.8,722.7 L310.4,722.9 L311.0,723.2 L311.7,723.5 L312.3,723.7 L312.9,724.0 L313.6,724.2 L314.2,724.5 L314.8,724.7 L315.5,725.0 L316.1,725.2 L316.7,725.5 L317.4,725.7 L318.0,725.9 L318.6,726.2 L319.3,726.4 L319.9,726.6 L320.5,726.8 L321.2,727.0 L321.8,727.3 L322.4,727.5 L323.1,727.7 L323.7,727.9 L324.4,728.1 L325.0,728.3 L325.6,728.5 L326.3,728.7 L326.9,728.9 L327.5,729.1 L328.2,729.2 L328.8,729.4 L329.4,729.6 L330.1,729.8 L330.7,730.0 L331.3,730.1 L332.0,730.3 L332.6,730.5 L333.2,730.7 L333.9,730.8 L334.5,731.0 L335.1,731.1 L335.8,731.3 L336.4,731.5 L337.1,731.6 L337.7,731.8 L338.3,731.9 L339.0,732.1 L339.6,732.2 L340.2,732.4 L340.9,732.5 L341.5,732.7 L342.1,732.8 L342.8,732.9 L343.4,733.1 L344.0,733.2 L344.7,733.3 L345.3,733.5 L345.9,733.6 L346.6,733.7 L347.2,733.8 L347.8,734.0 L348.5,734.1 L349.1,734.2 L349.8,734.3 L350.4,734.5 L351.0,734.6 L351.7,734.7 L352.3,734.8 L352.9,734.9 L353.6,735.0 L354.2,735.1 L354.8,735.2 L355.5,735.4 L356.1,735.5 L356.7,735.6 L357.4,735.7 L358.0,735.8 L358.6,735.9 L359.3,736.0 L359.9,736.1 L360.6,736.2 L361.2,736.3 L361.8,736.4 L362.5,736.4 L363.1,736.5 L363.7,736.6 L364.4,736.7 L365.0,736.8 L365.6,736.9 L366.3,737.0 L366.9,737.1 L367.5,737.2 L368.2,737.2 L368.8,737.3 L369.4,737.4 L370.1,737.5 L370.7,737.6 L371.3,737.6 L372.0,737.7 L372.6,737.8 L373.2,737.9 L373.9,737.9 L374.5,738.0 L375.2,738.1 L375.8,738.2 L376.4,738.2 L377.1,738.3 L377.7,738.4 L378.3,738.5 L379.0,738.5 L379.6,738.6 L380.2,738.7 L380.9,738.7 L381.5,738.8 L382.1,738.8 L382.8,738.9 L383.4,739.0 L384.0,739.0 L384.7,739.1 L385.3,739.2 L385.9,739.2 L386.6,739.3 L387.2,739.3 L387.9,739.4 L388.5,739.5 L389.1,739.5 L389.8,739.6 L390.4,739.6 L391.0,739.7 L391.7,739.7 L392.3,739.8 L392.9,739.8 L393.6,739.9 L394.2,739.9 L394.8,740.0 L395.5,740.0 L396.1,740.1 L396.7,740.1 L397.4,740.2 L398.0,740.2 L398.6,740.3 L399.3,740.3 L399.9,740.4 L400.6,740.4 L401.2,740.5 L401.8,740.5 L402.5,740.6 L403.1,740.6 L403.7,740.6 L404.4,740.7 L405.0,740.7 L405.6,740.8 L406.3,740.8 L406.9,740.9 L407.5,740.9 L408.2,740.9 L408.8,741.0 L409.4,741.0 L410.1,741.1 L410.7,741.1 L411.4,741.1 L412.0,741.2 L412.6,741.2 L413.3,741.2 L413.9,741.3 L414.5,741.3 L415.2,741.4 L415.8,741.4 L416.4,741.4 L417.1,741.5 L417.7,741.5 L418.3,741.5 L419.0,741.6 L419.6,741.6 L420.2,741.6 L420.9,741.7 L421.5,741.7 L422.1,741.7 L422.8,741.8 L423.4,741.8 L424.1,741.8 L424.7,741.9 L425.3,741.9 L426.0,741.9 L426.6,741.9 L427.2,742.0 L427.9,742.0 L428.5,742.0 L429.1,742.1 L429.8,742.1 L430.4,742.1 L431.0,742.1 L431.7,742.2 L432.3,742.2 L432.9,742.2 L433.6,742.3 L434.2,742.3 L434.8,742.3 L435.5,742.3 L436.1,742.4 L436.8,742.4 L437.4,742.4 L438.0,742.4 L438.7,742.5 L439.3,742.5 L439.9,742.5 L440.6,742.5 L441.2,742.6 L441.8,742.6 L442.5,742.6 L443.1,742.6 L443.7,742.6 L444.4,742.7 L445.0,742.7 L445.6,742.7 L446.3,742.7 L446.9,742.8 L447.5,742.8 L448.2,742.8 L448.8,742.8 L449.4,742.8 L450.1,742.9 L450.7,742.9 L451.4,742.9 L452.0,742.9 L452.6,742.9 L453.3,743.0 L453.9,743.0 L454.5,743.0 L455.2,743.0 L455.8,743.0 L456.4,743.1 L457.1,743.1 L457.7,743.1 L458.3,743.1 L459.0,743.1 L459.6,743.2 L460.2,743.2 L460.9,743.2 L461.5,743.2 L462.1,743.2 L462.8,743.2 L463.4,743.3 L464.1,743.3 L464.7,743.3 L465.3,743.3 L466.0,743.3 L466.6,743.3 L467.2,743.4 L467.9,743.4 L468.5,743.4 L469.1,743.4 L469.8,743.4 L470.4,743.4 L471.0,743.5 L471.7,743.5 L472.3,743.5 L472.9,743.5 L473.6,743.5 L474.2,743.5 L474.8,743.6 L475.5,743.6 L476.1,743.6 L476.8,743.6 L477.4,743.6 L478.0,743.6 L478.7,743.6 L479.3,743.7 L479.9,743.7 L480.6,743.7 L481.2,743.7 L481.8,743.7 L482.5,743.7 L483.1,743.7 L483.7,743.7 L484.4,743.8 L485.0,743.8 L485.6,743.8 L486.3,743.8 L486.9,743.8 L487.6,743.8 L488.2,743.8 L488.8,743.9 L489.5,743.9 L490.1,743.9 L490.7,743.9 L491.4,743.9 L492.0,743.9 L492.6,743.9 L493.3,743.9 L493.9,743.9 L494.5,744.0 L495.2,744.0 L495.8,744.0 L496.4,744.0 L497.1,744.0 L497.7,744.0 L498.3,744.0 L499.0,744.0 L499.6,744.1 L500.2,744.1 L500.9,744.1 L501.5,744.1 L502.2,744.1 L502.8,744.1 L503.4,744.1 L504.1,744.1 L504.7,744.1 L505.3,744.1 L506.0,744.1 L506.6,744.2 L507.2,744.2 L507.9,744.2 L508.5,744.2 L509.1,744.2 L509.8,744.2 L510.4,744.2 L511.0,744.2 L511.7,744.2 L512.3,744.2 L513.0,744.2 L513.6,744.2 L514.2,744.2 L514.9,744.2 L515.5,744.3 L516.1,744.3 L516.8,744.3 L517.4,744.3 L518.0,744.3 L518.7,744.3 L519.3,744.3 L519.9,744.3 L520.6,744.3 L521.2,744.3 L521.8,744.3 L522.5,744.3 L523.1,744.3 L523.7,744.3 L524.4,744.3 L525.0,744.3 L525.6,744.3 L526.3,744.3 L526.9,744.4 L527.6,744.4 L528.2,744.4 L528.8,744.4 L529.5,744.4 L530.1,744.4 L530.7,744.4 L531.4,744.4 L532.0,744.4 L532.6,744.4 L533.3,744.4 L533.9,744.4 L534.5,744.4 L535.2,744.4 L535.8,744.4 L536.4,744.4 L537.1,744.4 L537.7,744.4 L538.3,744.4 L539.0,744.4 L539.6,744.5 L540.3,744.5 L540.9,744.5 L541.5,744.5 L542.2,744.5 L542.8,744.5 L543.4,744.5 L544.1,744.5 L544.7,744.5 L545.3,744.5 L546.0,744.5 L546.6,744.5 L547.2,744.5 L547.9,744.5 L548.5,744.5 L549.1,744.5 L549.8,744.5 L550.4,744.5 L551.0,744.5 L551.7,744.5 L552.3,744.5 L553.0,744.5 L553.6,744.5 L554.2,744.5 L554.9,744.5 L555.5,744.6 L556.1,744.6 L556.8,744.6 L557.4,744.6 L558.0,744.6 L558.7,744.6 L559.3,744.6 L559.9,744.6 L560.6,744.6 L561.2,744.6 L561.8,744.6 L562.5,744.6 L563.1,744.6 L563.8,744.6 L564.4,744.6 L565.0,744.6 L565.7,744.6 L566.3,744.6 L566.9,744.6 L567.6,744.6 L568.2,744.6 L568.8,744.6 L569.5,744.6 L570.1,744.6 L570.7,744.6 L571.4,744.6 L572.0,744.6 L572.6,744.6 L573.3,744.6 L573.9,744.6 L574.5,744.6 L575.2,744.6 L575.8,744.6 L576.5,744.7 L577.1,744.7 L577.7,744.7 L578.4,744.7 L579.0,744.7 L579.6,744.7 L580.3,744.7 L580.9,744.7 L581.5,744.7 L582.2,744.7 L582.8,744.7 L583.4,744.7 L584.1,744.7 L584.7,744.7 L585.3,744.7 L586.0,744.7 L586.6,744.7 L587.2,744.7 L587.9,744.7 L588.5,744.7 L589.2,744.7 L589.8,744.7 L590.4,744.7 L591.1,744.7 L591.7,744.7 L592.3,744.7 L593.0,744.7 L593.6,744.7 L594.2,744.7 L594.9,744.7 L595.5,744.7" stroke-width="4.6"/><path d="M87.5,743.2 L88.1,743.2 L88.8,743.2 L89.4,743.2 L90.0,742.0 L90.7,742.0 L91.3,742.0 L91.9,742.0 L92.6,742.0 L93.2,742.0 L93.8,742.0 L94.5,742.0 L95.1,742.0 L95.8,742.0 L96.4,742.0 L97.0,743.2 L97.7,743.2 L98.3,743.2 L98.9,743.2 L99.6,742.6 L100.2,742.6 L100.8,742.6 L101.5,742.6 L102.1,742.6 L102.7,742.6 L103.4,742.6 L104.0,742.6 L104.6,742.6 L105.3,742.6 L105.9,742.6 L106.5,742.6 L107.2,742.6 L107.8,742.6 L108.5,740.8 L109.1,740.8 L109.7,740.8 L110.4,740.8 L111.0,740.8 L111.6,740.8 L112.3,740.8 L112.9,740.8 L113.5,740.8 L114.2,740.8 L114.8,740.8 L115.4,740.8 L116.1,740.8 L116.7,740.8 L117.3,740.8 L118.0,742.0 L118.6,742.0 L119.2,742.0 L119.9,742.0 L120.5,742.0 L121.2,742.0 L121.8,740.8 L122.4,740.8 L123.1,740.8 L123.7,740.8 L124.3,740.8 L125.0,740.8 L125.6,740.8 L126.2,740.8 L126.9,740.8 L127.5,740.8 L128.1,740.8 L128.8,741.4 L129.4,741.4 L130.0,741.4 L130.7,741.4 L131.3,741.4 L131.9,741.4 L132.6,740.8 L133.2,740.8 L133.9,740.8 L134.5,740.8 L135.1,740.8 L135.8,740.8 L136.4,742.6 L137.0,742.6 L137.7,742.6 L138.3,742.6 L138.9,741.4 L139.6,741.4 L140.2,742.6 L140.8,742.6 L141.5,743.2 L142.1,743.2 L142.7,742.0 L143.4,742.0 L144.0,742.0 L144.7,742.6 L145.3,742.6 L145.9,742.0 L146.6,742.0 L147.2,742.0 L147.8,742.0 L148.5,742.0 L149.1,742.0 L149.7,742.0 L150.4,742.0 L151.0,741.4 L151.6,741.4 L152.3,743.2 L152.9,743.2 L153.5,743.2 L154.2,741.4 L154.8,741.4 L155.4,741.4 L156.1,742.0 L156.7,742.0 L157.3,742.0 L158.0,742.0 L158.6,742.0 L159.3,742.0 L159.9,742.6 L160.5,742.6 L161.2,742.6 L161.8,742.6 L162.4,740.8 L163.1,740.8 L163.7,742.6 L164.3,742.6 L165.0,742.6 L165.6,742.6 L166.2,742.6 L166.9,742.6 L167.5,742.6 L168.1,742.6 L168.8,742.6 L169.4,742.6 L170.1,742.6 L170.7,742.0 L171.3,742.0 L172.0,742.6 L172.6,742.6 L173.2,742.6 L173.9,742.6 L174.5,740.4 L175.1,740.4 L175.8,740.4 L176.4,740.4 L177.0,740.4 L177.7,742.6 L178.3,742.6 L178.9,742.6 L179.6,738.6 L180.2,738.6 L180.8,738.6 L181.5,738.6 L182.1,738.6 L182.8,738.6 L183.4,740.8 L184.0,740.8 L184.7,740.8 L185.3,740.8 L185.9,740.8 L186.6,740.8 L187.2,739.8 L187.8,739.8 L188.5,739.8 L189.1,739.8 L189.7,739.8 L190.4,740.8 L191.0,740.8 L191.6,740.8 L192.3,740.8 L192.9,744.2 L190.8,746.9 L191.4,747.1 L192.1,724.7 L192.7,691.8 L193.3,658.9 L194.0,626.0 L195.1,593.1 L195.7,560.2 L196.4,527.3 L196.0,509.3 L196.8,511.9 L203.8,515.7 L204.4,518.9 L204.1,522.3 L204.7,525.5 L205.3,528.7 L206.0,531.8 L206.6,534.8 L207.2,537.8 L208.8,540.6 L209.4,543.5 L210.1,546.3 L210.7,549.1 L211.3,551.9 L212.0,554.7 L212.1,557.5 L212.8,560.1 L213.4,562.7 L214.3,565.3 L214.9,567.8 L215.5,570.3 L216.2,572.8 L216.8,575.2 L217.4,577.6 L218.1,579.9 L218.7,582.3 L219.3,584.5 L220.0,586.8 L220.8,588.9 L221.5,591.1 L222.1,593.3 L222.7,595.4 L223.4,597.5 L224.0,599.5 L224.6,601.6 L225.2,603.5 L225.0,605.8 L225.6,607.7 L226.5,609.6 L227.1,611.5 L227.7,613.3 L228.4,615.1 L229.0,616.9 L229.5,618.8 L230.1,620.5 L230.8,622.2 L231.5,623.9 L232.1,625.5 L233.7,626.8 L234.3,628.4 L235.0,630.0 L235.4,631.6 L236.1,633.2 L236.8,634.7 L237.4,636.2 L238.1,637.6 L238.7,639.1 L239.4,640.5 L240.0,641.9 L240.7,643.3 L241.4,644.6 L241.8,646.0 L242.5,647.4 L243.1,648.7 L243.8,649.9 L244.4,651.2 L246.1,651.9 L246.8,653.1 L247.4,654.3 L248.1,655.5 L248.7,656.6 L249.4,657.7 L250.0,658.9 L250.7,660.0 L251.3,661.0 L252.0,662.1 L252.6,663.2 L253.3,664.2 L253.9,665.2 L254.6,666.2 L255.2,667.2 L255.9,668.2 L256.5,669.1 L257.2,670.1 L257.8,671.0 L257.4,672.6 L258.1,673.5 L258.7,674.4 L259.4,675.2 L260.0,676.1 L260.7,677.0 L262.6,676.9 L263.2,677.7 L263.9,678.5 L264.5,679.3 L265.2,680.0 L264.1,682.2 L264.7,682.9 L265.3,683.7 L265.5,684.8 L266.2,685.5 L266.8,686.2 L267.5,687.0 L268.1,687.7 L270.1,687.2 L270.7,687.8 L271.4,688.5 L272.0,689.1 L272.6,689.8 L273.3,690.4 L273.9,691.0 L274.5,691.6 L275.1,692.2 L275.8,692.8 L276.4,693.4 L277.0,694.0 L276.3,695.9 L276.9,696.5 L277.6,697.1 L278.2,697.6 L278.8,698.2 L279.4,698.7 L281.6,697.5 L282.2,698.0 L282.8,698.5 L281.9,700.9 L282.5,701.4 L283.1,701.9 L283.7,702.4 L285.8,701.0 L286.4,701.5 L287.0,702.0 L287.6,702.4 L288.2,702.9 L288.8,703.3 L289.4,703.8 L290.0,704.2 L290.6,704.6 L291.2,705.1 L291.8,705.5 L292.4,705.9 L293.0,706.3 L293.6,706.7 L294.2,707.1 L294.8,707.5 L295.4,707.9 L296.0,708.3 L296.6,708.6 L296.0,711.1 L296.6,711.4 L297.2,711.8 L297.8,712.2 L299.3,711.0 L299.9,711.3 L300.5,711.6 L301.1,712.0 L301.7,712.3 L302.3,712.6 L302.9,713.0 L303.6,713.3 L304.2,713.6 L304.2,715.0 L304.8,715.3 L305.4,715.6 L306.1,715.9 L306.7,716.2 L307.3,716.5 L308.7,715.2 L309.3,715.4 L309.9,715.7 L310.5,716.0 L311.1,716.3 L311.7,716.5 L312.3,716.8 L312.9,717.0 L312.8,719.0 L313.4,719.2 L314.0,719.5 L314.6,719.7 L315.7,718.9 L316.3,719.1 L316.9,719.3 L316.9,721.3 L317.5,721.5 L318.1,721.7 L318.7,721.9 L319.4,722.2 L320.0,722.4 L321.2,720.9 L321.8,721.1 L322.4,721.3 L322.8,722.1 L323.5,722.3 L324.1,722.5 L324.7,722.7 L325.3,722.9 L325.9,723.1 L326.5,723.3 L327.2,723.5 L327.8,723.7 L328.7,722.7 L329.3,722.9 L330.0,723.1 L330.6,723.3 L330.5,725.8 L331.2,725.9 L331.8,726.1 L332.4,726.3 L333.0,726.5 L333.6,726.6 L334.3,726.8 L334.9,726.9 L335.5,727.1 L336.1,727.3 L336.8,727.4 L337.4,727.6 L338.0,727.7 L339.2,725.5 L339.8,725.7 L340.4,725.8 L341.0,726.0 L341.7,726.1 L342.3,726.3 L342.9,726.4 L343.5,726.5 L344.1,726.7 L344.7,726.8 L345.4,726.9 L345.6,728.8 L346.2,729.0 L346.9,729.1 L347.5,729.2 L348.1,729.3 L348.7,729.5 L349.6,728.4 L350.2,728.5 L350.8,728.6 L351.2,729.9 L351.9,730.1 L352.5,730.2 L353.1,730.3 L353.8,729.8 L354.5,729.9 L355.1,730.0 L355.7,730.1 L356.4,729.6 L357.1,729.7 L357.4,731.6 L358.0,731.7 L358.6,731.8 L359.3,731.9 L359.9,732.0 L361.2,727.6 L361.8,727.7 L362.5,727.8 L363.1,727.8 L363.7,727.9 L364.3,728.0 L364.5,731.5 L365.1,731.6 L365.7,731.7 L366.3,732.3 L366.9,732.4 L367.4,733.1 L368.1,733.2 L369.0,730.9 L369.6,731.0 L370.3,731.1 L370.9,731.1 L371.5,731.2 L372.1,731.3 L372.8,731.4 L373.4,731.4 L374.0,731.5 L374.6,731.6 L375.3,731.7 L375.8,732.3 L376.4,732.4 L377.1,732.5 L377.5,734.3 L378.1,734.4 L378.8,734.5 L379.4,734.5 L380.0,734.6 L380.8,733.5 L381.4,733.5 L382.0,733.6 L382.5,734.9 L383.2,734.9 L383.8,735.0 L384.4,735.1 L385.1,735.1 L385.9,732.8 L386.5,732.8 L387.2,732.9 L387.8,733.0 L388.4,733.0 L388.9,734.9 L389.5,734.9 L390.2,735.0 L390.8,735.0 L391.4,735.1 L392.1,735.1 L392.7,735.2 L393.3,735.2 L394.1,733.5 L394.7,733.6 L395.3,733.6 L396.0,733.7 L396.6,733.7 L397.2,733.8 L397.9,733.8 L398.5,733.9 L399.1,733.9 L399.8,733.9 L400.4,734.0 L401.0,734.0 L401.6,735.3 L402.2,735.3 L402.8,735.4 L403.5,735.4 L404.1,735.5 L404.8,734.9 L405.4,734.9 L406.0,735.0 L406.6,735.0 L407.3,734.5 L407.9,734.5 L408.6,734.6 L409.2,734.6 L409.8,734.6 L410.5,734.7 L411.1,734.7 L411.6,736.5 L412.3,736.6 L412.9,736.6 L413.5,736.7 L414.2,736.7 L414.8,736.7 L415.4,736.8 L416.1,736.8 L416.7,736.8 L417.4,735.3 L418.0,735.3 L418.6,736.3 L419.2,736.4 L419.9,736.4 L420.5,736.4 L421.3,733.1 L421.9,733.1 L422.6,733.1 L423.2,733.2 L423.8,733.2 L424.5,733.2 L425.0,735.5 L425.6,735.5 L426.3,735.5 L426.9,735.5 L427.5,735.6 L428.2,735.6 L428.8,736.2 L429.4,736.3 L430.0,736.3 L430.6,737.5 L431.2,737.5 L431.9,737.6 L432.5,737.6 L433.2,735.8 L433.8,735.9 L434.5,735.9 L435.0,737.7 L435.7,737.7 L436.3,737.8 L436.9,737.8 L437.6,737.8 L438.2,736.6 L438.9,736.7 L439.5,736.7 L440.1,736.7 L440.8,736.7 L441.4,736.2 L442.1,736.2 L442.7,736.8 L443.3,736.8 L443.9,736.9 L444.6,736.9 L445.1,738.7 L445.8,738.7 L446.4,738.7 L447.0,738.8 L447.8,736.4 L448.4,736.4 L449.0,736.4 L449.7,736.4 L450.3,736.5 L450.9,736.7 L451.6,736.7 L452.2,737.7 L452.8,737.7 L453.4,739.0 L454.0,739.0 L454.7,739.0 L455.3,739.0 L455.9,739.0 L456.6,739.1 L457.2,737.3 L457.9,737.3 L458.5,737.3 L459.1,737.3 L459.8,737.4 L460.4,737.4 L461.0,737.4 L461.7,737.4 L462.3,738.0 L462.9,738.0 L463.6,738.1 L464.2,738.1 L464.8,737.5 L465.5,737.5 L466.1,737.5 L466.7,737.5 L467.4,737.6 L468.0,737.6 L468.7,737.0 L469.3,737.0 L469.9,737.0 L470.6,737.0 L471.2,737.1 L471.8,737.1 L472.5,737.1 L473.1,737.1 L473.7,739.5 L474.3,739.5 L474.9,739.6 L475.6,739.6 L476.2,739.0 L476.9,739.0 L477.5,739.0 L478.1,739.0 L478.7,739.6 L479.4,739.7 L480.1,737.5 L480.7,737.5 L481.3,737.5 L482.0,737.5 L482.6,737.5 L483.2,737.3 L483.9,737.4 L484.5,738.0 L485.1,738.0 L485.8,738.0 L486.4,739.2 L487.0,739.2 L487.6,739.2 L488.3,739.2 L488.9,739.3 L489.5,739.3 L490.2,739.3 L490.8,739.3 L491.4,739.3 L492.1,739.3 L492.7,739.3 L493.4,739.3 L494.0,739.4 L494.6,738.8 L495.3,738.8 L495.9,738.8 L496.5,738.8 L497.2,738.2 L497.8,738.2 L498.4,738.2 L499.1,738.2 L499.7,738.3 L500.4,738.3 L501.0,738.3 L501.6,738.3 L502.3,737.7 L502.9,737.7 L503.5,737.7 L504.1,737.7 L504.8,737.7 L505.4,737.7 L506.0,737.7 L506.7,737.8 L507.3,737.8 L507.9,737.8 L508.6,737.8 L509.2,738.4 L509.8,738.4 L510.5,738.4 L511.1,740.2 L511.7,740.2 L512.4,740.2 L513.0,740.2 L513.6,740.2 L514.3,737.8 L514.9,737.8 L515.6,737.9 L516.2,737.9 L516.8,737.9 L517.5,737.9 L518.1,737.9 L518.7,737.9 L519.4,738.5 L520.0,738.5 L520.6,738.5 L521.3,737.9 L521.9,737.9 L522.5,737.9 L523.2,737.9 L523.8,737.9 L524.4,737.9 L525.1,738.5 L525.7,738.5 L526.3,739.1 L527.0,739.2 L527.6,739.2 L528.2,739.2 L528.9,740.4 L529.5,740.4 L530.1,740.4 L530.8,740.4 L531.4,740.4 L532.0,740.4 L532.7,740.4 L533.3,740.4 L533.9,740.4 L534.6,738.6 L535.2,738.6 L535.9,738.0 L536.5,738.0 L537.1,738.6 L537.8,738.6 L538.4,738.6 L539.0,738.6 L539.7,738.7 L540.3,738.7 L540.9,739.3 L541.6,739.3 L542.2,739.3 L542.8,739.3 L543.5,738.7 L544.1,738.7 L544.7,738.1 L545.4,738.1 L546.0,738.1 L546.6,738.1 L547.3,739.9 L547.9,739.9 L548.5,739.9 L549.2,739.9 L549.8,739.9 L550.4,739.9 L551.1,738.7 L551.7,738.7 L552.4,738.7 L553.0,738.7 L553.6,738.7 L554.3,738.7 L554.9,738.1 L555.5,738.2 L556.2,738.2 L556.8,740.0 L557.4,740.0 L558.1,740.0 L558.7,740.0 L559.3,740.0 L560.0,740.0 L560.6,740.0 L561.2,740.0 L561.9,740.0 L562.5,738.2 L563.1,738.2 L563.8,738.2 L564.4,739.4 L565.0,739.4 L565.7,737.2 L566.3,737.2 L567.0,737.2 L567.6,737.2 L568.2,738.2 L568.9,738.2 L569.5,738.2 L570.1,738.8 L570.8,738.8 L571.4,738.8 L572.0,738.8 L572.7,738.8 L573.3,738.8 L573.9,740.0 L574.6,740.0 L575.2,740.0 L575.8,740.0 L576.5,740.1 L577.1,740.1 L577.7,740.1 L578.4,740.1 L579.0,738.9 L579.6,738.9 L580.3,738.9 L580.9,738.3 L581.6,738.3 L582.2,740.1 L582.8,740.1 L583.5,740.1 L584.1,740.7 L584.7,740.7 L585.4,740.1 L586.0,740.1 L586.6,740.1 L587.3,740.1 L587.9,740.1 L588.5,738.3 L589.2,738.3 L589.8,738.3 L590.4,738.3 L591.1,738.3 L591.7,738.3 L592.3,738.3 L593.0,738.3 L593.6,738.3 L594.3,738.3 L594.9,738.3 L595.5,738.3 L595.5,749.9 L594.8,749.9 L594.2,749.9 L593.6,751.1 L592.9,751.1 L592.3,751.1 L591.7,751.1 L591.0,751.1 L590.4,749.9 L589.8,749.9 L589.1,751.1 L588.5,751.1 L587.9,751.1 L587.2,751.1 L586.6,751.1 L586.0,751.1 L585.3,751.1 L584.7,751.1 L584.1,748.7 L583.4,748.7 L582.8,748.7 L582.1,748.7 L581.5,749.3 L580.9,749.3 L580.2,749.3 L579.6,749.3 L579.0,749.3 L578.3,749.3 L577.7,749.3 L577.1,749.3 L576.4,748.7 L575.8,748.6 L575.2,748.6 L574.5,748.6 L573.9,748.6 L573.3,748.6 L572.6,751.0 L572.0,751.0 L571.3,751.0 L570.7,751.0 L570.1,750.4 L569.4,750.4 L568.8,750.4 L568.2,750.4 L567.5,750.4 L566.9,750.4 L566.3,750.4 L565.6,748.6 L565.0,748.6 L564.4,748.6 L563.7,748.6 L563.1,748.6 L562.5,748.6 L561.8,748.6 L561.2,748.6 L560.6,748.6 L559.9,748.6 L559.3,751.0 L558.6,751.0 L558.0,751.0 L557.4,751.0 L556.7,751.0 L556.1,751.0 L555.5,748.6 L554.8,748.5 L554.2,748.5 L553.6,748.5 L552.9,748.5 L552.3,749.1 L551.7,749.1 L551.0,749.1 L550.4,749.1 L549.8,749.1 L549.1,749.1 L548.5,750.9 L547.8,750.9 L547.2,750.9 L546.6,749.1 L545.9,749.1 L545.3,749.1 L544.7,749.1 L544.0,750.3 L543.4,750.3 L542.8,750.3 L542.1,750.3 L541.5,750.3 L540.9,749.1 L540.2,749.1 L539.6,749.1 L539.0,749.0 L538.3,749.0 L537.7,749.0 L537.1,748.4 L536.4,748.4 L535.8,748.4 L535.1,748.4 L534.5,748.4 L533.9,750.2 L533.2,750.2 L532.6,750.2 L532.0,750.2 L531.3,750.2 L530.7,750.2 L530.0,750.2 L529.4,750.2 L528.8,750.2 L528.1,750.8 L527.5,750.8 L526.9,750.8 L526.2,750.7 L525.6,750.1 L525.0,750.1 L524.3,750.1 L523.7,750.7 L523.1,750.7 L522.4,750.7 L521.8,750.7 L521.2,750.1 L520.5,750.1 L519.9,750.1 L519.2,750.1 L518.6,748.9 L518.0,748.9 L517.4,748.9 L516.7,750.1 L516.1,750.1 L515.4,750.0 L514.8,750.0 L514.2,750.6 L513.5,750.6 L512.9,750.6 L512.2,750.6 L511.6,750.6 L511.0,750.6 L510.3,750.6 L509.7,750.0 L509.1,750.0 L508.4,750.0 L507.8,750.0 L507.2,750.6 L506.5,750.6 L505.9,750.5 L505.3,750.5 L504.6,750.5 L504.0,750.5 L503.3,750.5 L502.7,750.5 L502.0,750.5 L501.4,750.5 L500.8,749.9 L500.1,749.9 L499.5,749.3 L498.9,749.2 L498.2,750.4 L497.6,750.4 L497.0,750.4 L496.3,750.4 L495.7,750.4 L495.1,750.4 L494.4,750.4 L493.8,749.7 L493.2,749.7 L492.5,749.7 L491.9,749.7 L491.2,749.7 L490.6,750.3 L490.0,750.3 L489.3,750.3 L488.7,750.3 L488.1,750.2 L487.4,750.2 L486.8,750.2 L486.1,750.2 L485.5,750.2 L484.9,750.2 L484.2,750.2 L483.6,750.1 L483.0,747.7 L482.4,747.7 L481.7,747.7 L481.1,747.7 L480.5,748.3 L479.8,748.3 L479.2,748.3 L478.6,747.6 L477.9,747.6 L477.3,747.6 L476.7,747.6 L476.0,747.6 L475.4,747.6 L474.7,749.9 L474.1,749.9 L473.5,748.1 L472.8,748.1 L472.2,749.3 L471.5,749.3 L470.9,749.3 L470.3,748.6 L469.6,748.6 L469.0,748.6 L468.4,748.6 L467.7,748.6 L467.1,748.6 L466.5,747.3 L465.9,747.3 L465.2,749.7 L464.5,749.7 L463.9,749.7 L463.2,749.7 L462.6,749.6 L462.0,749.6 L461.3,749.6 L460.7,749.6 L460.1,748.4 L459.5,748.4 L458.8,748.3 L458.2,748.3 L457.6,748.3 L456.9,748.3 L456.3,747.1 L455.7,747.0 L455.0,747.0 L454.3,749.4 L453.7,749.4 L453.1,749.4 L452.4,749.3 L451.8,747.5 L451.2,747.5 L450.6,747.5 L449.9,749.3 L449.2,749.2 L448.6,749.2 L448.0,749.2 L447.3,749.2 L446.7,749.2 L446.1,749.1 L445.4,749.1 L444.8,749.1 L444.2,746.7 L443.6,746.6 L443.0,746.6 L442.3,746.6 L441.7,746.6 L441.0,746.6 L440.4,746.5 L439.7,747.7 L439.1,747.7 L438.5,747.7 L437.8,748.2 L437.2,748.2 L436.5,748.2 L435.9,748.2 L435.2,748.1 L434.6,748.7 L433.9,748.7 L433.3,748.6 L432.7,748.6 L432.0,748.6 L431.4,748.6 L430.8,748.5 L430.1,748.5 L429.6,746.7 L428.9,746.7 L428.3,746.6 L427.6,747.8 L427.0,747.8 L426.4,746.5 L425.7,746.5 L425.1,746.5 L424.5,746.4 L423.8,746.4 L423.1,748.2 L422.5,748.2 L421.8,748.1 L421.2,747.5 L420.6,747.5 L419.9,747.4 L419.3,747.4 L418.7,747.4 L418.1,746.1 L417.5,746.1 L416.8,746.1 L416.2,746.0 L415.5,746.0 L414.9,745.9 L414.3,745.9 L413.6,745.9 L413.0,745.8 L412.4,745.8 L411.7,745.8 L411.1,745.7 L410.4,746.9 L409.7,746.8 L409.1,746.8 L408.4,746.8 L407.8,746.7 L407.2,746.7 L406.5,746.6 L405.9,746.6 L405.3,746.6 L404.6,746.5 L404.0,746.5 L403.3,746.4 L402.7,747.0 L402.0,746.9 L401.4,746.9 L400.9,744.5 L400.3,744.4 L399.6,744.4 L399.0,744.3 L398.2,746.1 L397.6,746.0 L396.9,746.0 L396.3,745.9 L395.8,744.7 L395.1,744.6 L394.5,744.6 L393.8,744.5 L393.0,746.3 L392.4,746.2 L391.8,746.2 L391.1,746.1 L390.5,746.0 L390.0,744.2 L389.4,744.1 L388.6,745.9 L387.9,745.8 L387.3,745.8 L386.6,745.7 L386.0,745.6 L385.5,743.8 L384.9,743.7 L384.2,743.7 L383.6,743.6 L383.0,743.6 L382.3,743.5 L381.5,745.2 L380.9,745.2 L380.3,743.9 L379.7,743.8 L379.1,743.8 L378.4,743.7 L377.8,743.6 L377.1,744.1 L376.4,744.1 L375.8,744.0 L375.1,743.9 L374.5,743.9 L373.9,743.8 L373.2,743.7 L372.6,743.6 L371.9,744.2 L371.2,744.1 L370.6,744.0 L370.1,742.7 L369.4,742.6 L368.8,742.6 L368.1,742.5 L367.5,742.4 L366.9,741.7 L366.3,741.6 L365.6,741.5 L364.8,743.2 L364.1,743.2 L363.5,743.1 L362.8,743.0 L362.2,742.9 L361.5,742.8 L360.9,742.7 L360.2,742.6 L359.6,742.5 L359.2,740.6 L358.6,740.5 L357.9,740.4 L357.2,740.9 L356.5,740.8 L355.9,740.7 L355.3,740.6 L354.6,740.5 L354.1,739.8 L353.4,739.7 L352.8,739.6 L351.9,740.6 L351.3,740.5 L350.9,738.6 L350.3,738.5 L349.7,738.4 L349.0,738.3 L348.4,738.1 L347.7,738.0 L346.7,739.7 L346.1,739.5 L345.4,739.4 L344.8,739.3 L344.1,739.1 L343.5,739.0 L342.8,738.9 L342.1,739.3 L341.4,739.2 L340.8,739.0 L340.1,738.9 L339.5,738.8 L338.8,738.6 L338.3,737.9 L337.6,737.7 L337.0,737.6 L336.3,737.4 L335.7,737.3 L335.0,737.1 L334.4,736.9 L334.0,735.6 L333.4,735.4 L332.7,735.3 L332.1,735.1 L331.4,734.9 L330.8,734.8 L330.0,735.2 L329.3,735.0 L328.7,734.8 L328.0,734.6 L327.4,734.4 L326.7,734.2 L326.2,733.5 L325.6,733.3 L324.9,733.1 L324.1,733.5 L323.4,733.2 L322.8,733.0 L322.1,732.8 L321.5,732.6 L321.2,731.3 L320.5,731.1 L319.9,730.8 L318.5,732.9 L317.8,732.7 L317.1,732.4 L316.5,732.2 L316.2,730.8 L315.6,730.6 L314.9,730.3 L314.3,730.1 L313.6,729.8 L313.0,729.6 L312.3,729.3 L311.6,729.1 L311.0,728.8 L310.3,728.5 L309.7,728.3 L309.0,728.0 L308.3,727.7 L307.2,728.5 L306.5,728.2 L306.4,726.9 L305.7,726.6 L305.0,726.3 L304.4,726.0 L303.7,725.7 L303.1,725.3 L301.9,726.1 L301.2,725.8 L300.6,725.5 L299.9,725.1 L300.0,723.2 L299.4,722.8 L298.7,722.5 L297.8,722.7 L297.1,722.3 L296.5,722.0 L295.2,722.7 L294.5,722.3 L293.9,721.9 L293.2,721.5 L293.5,719.6 L292.8,719.2 L292.1,718.8 L291.5,718.4 L290.5,718.5 L289.8,718.1 L289.2,717.7 L288.5,717.2 L288.5,715.8 L287.9,715.4 L287.2,714.9 L286.5,714.5 L285.9,714.0 L285.2,713.6 L284.6,713.1 L282.9,714.1 L282.2,713.6 L281.5,713.1 L281.9,711.2 L281.3,710.7 L280.6,710.2 L279.2,710.6 L278.6,710.1 L277.9,709.6 L277.2,709.0 L276.2,708.9 L275.5,708.4 L274.9,707.8 L274.2,707.2 L273.5,706.6 L272.9,706.0 L272.2,705.5 L272.8,703.5 L272.1,702.9 L271.4,702.3 L270.8,701.7 L270.1,701.0 L269.5,700.4 L268.8,699.7 L268.2,699.1 L267.5,698.4 L266.9,697.7 L264.5,698.6 L263.9,697.9 L263.2,697.1 L261.4,697.4 L260.8,696.7 L261.3,694.8 L260.7,694.1 L260.1,693.3 L259.4,692.5 L258.8,691.6 L258.1,690.8 L258.0,689.6 L257.3,688.7 L256.7,687.9 L256.1,687.0 L255.4,686.1 L254.8,685.3 L253.7,684.7 L253.1,683.8 L252.4,682.9 L251.8,681.9 L251.2,680.9 L250.6,680.0 L250.4,678.7 L249.8,677.7 L249.2,676.7 L249.6,675.0 L248.9,674.0 L248.8,672.6 L248.2,671.5 L247.6,670.5 L245.4,670.3 L244.8,669.2 L244.2,668.1 L243.6,667.0 L242.9,665.8 L243.4,664.1 L242.8,662.9 L242.1,661.7 L241.5,660.5 L240.9,659.2 L238.7,658.8 L238.1,657.5 L237.5,656.3 L236.8,654.9 L236.8,653.4 L236.2,652.0 L235.5,650.6 L235.2,649.1 L234.6,647.7 L234.0,646.3 L233.4,644.9 L232.8,643.4 L232.0,642.0 L231.4,640.5 L230.7,639.0 L230.1,637.4 L229.5,635.9 L229.6,634.0 L229.0,632.4 L228.4,630.8 L228.0,629.0 L227.4,627.4 L226.8,625.6 L225.5,624.2 L224.9,622.4 L224.3,620.6 L223.6,618.8 L223.5,616.8 L222.9,615.0 L222.2,613.1 L221.6,611.2 L220.3,609.5 L219.6,607.5 L219.0,605.5 L218.4,603.5 L217.7,601.5 L218.0,599.1 L217.4,597.0 L216.7,594.9 L215.2,593.0 L214.5,590.8 L213.9,588.5 L213.2,586.2 L212.6,583.9 L212.2,581.5 L211.6,579.1 L210.9,576.7 L210.3,574.3 L209.9,571.7 L209.2,569.2 L208.6,566.7 L208.0,564.1 L207.3,561.4 L206.7,558.8 L205.6,556.2 L205.0,553.4 L204.3,550.6 L203.7,547.8 L203.0,544.9 L202.4,541.9 L202.2,538.9 L201.6,535.9 L201.0,532.8 L200.1,529.7 L199.5,526.6 L198.8,523.4 L198.2,520.1 L198.3,516.7 L202.1,513.6 L201.6,509.7 L200.6,527.4 L200.0,560.3 L199.4,593.2 L198.7,626.1 L199.1,659.0 L198.4,692.0 L197.8,724.9 L197.2,747.3 L195.6,747.4 L192.9,749.2 L192.3,751.2 L191.6,751.2 L191.0,751.2 L190.4,751.2 L189.7,751.2 L189.1,751.2 L188.5,753.6 L187.8,753.6 L187.2,753.6 L186.6,753.6 L185.9,751.2 L185.3,751.2 L184.7,751.2 L184.0,751.2 L183.4,751.2 L182.8,751.2 L182.1,751.2 L181.5,751.2 L180.8,753.6 L180.2,753.6 L179.6,753.6 L178.9,753.6 L178.3,753.6 L177.7,753.0 L177.0,753.0 L176.4,753.0 L175.8,753.0 L175.1,753.0 L174.5,751.8 L173.9,751.8 L173.2,754.0 L172.6,754.0 L172.0,754.0 L171.3,754.0 L170.7,754.0 L170.1,753.6 L169.4,753.6 L168.8,753.6 L168.1,753.6 L167.5,753.6 L166.9,751.2 L166.2,751.2 L165.6,751.2 L165.0,751.2 L164.3,751.2 L163.7,751.2 L163.1,751.2 L162.4,751.2 L161.8,751.2 L161.2,751.2 L160.5,751.2 L159.9,751.2 L159.3,753.0 L158.6,753.0 L158.0,753.0 L157.3,753.0 L156.7,753.0 L156.1,753.0 L155.4,753.6 L154.8,753.6 L154.2,753.6 L153.5,753.6 L152.9,753.6 L152.3,753.6 L151.6,753.6 L151.0,753.0 L150.4,753.0 L149.7,753.0 L149.1,753.6 L148.5,753.6 L147.8,753.6 L147.2,753.6 L146.6,752.4 L145.9,752.4 L145.3,753.0 L144.7,753.0 L144.0,753.0 L143.4,753.6 L142.7,753.6 L142.1,751.2 L141.5,751.2 L140.8,751.2 L140.2,751.2 L139.6,751.2 L138.9,753.6 L138.3,753.6 L137.7,753.6 L137.0,753.6 L136.4,753.6 L135.8,753.6 L135.1,753.6 L134.5,753.6 L133.9,753.6 L133.2,753.6 L132.6,755.8 L131.9,755.8 L131.3,755.8 L130.7,751.2 L130.0,751.2 L129.4,751.2 L128.8,751.2 L128.1,753.6 L127.5,753.6 L126.9,753.6 L126.2,752.4 L125.6,752.4 L125.0,752.4 L124.3,752.4 L123.7,752.4 L123.1,752.4 L122.4,752.4 L121.8,752.4 L121.2,752.4 L120.5,753.6 L119.9,753.6 L119.2,753.6 L118.6,753.6 L118.0,753.6 L117.3,753.6 L116.7,753.6 L116.1,753.6 L115.4,751.8 L114.8,751.8 L114.2,751.8 L113.5,751.8 L112.9,751.8 L112.3,751.8 L111.6,751.8 L111.0,751.8 L110.4,751.8 L109.7,751.8 L109.1,753.0 L108.5,753.0 L107.8,753.0 L107.2,753.0 L106.5,752.4 L105.9,752.4 L105.3,752.4 L104.6,752.4 L104.0,752.4 L103.4,752.4 L102.7,754.0 L102.1,754.0 L101.5,754.0 L100.8,754.0 L100.2,753.0 L99.6,753.0 L98.9,753.0 L98.3,753.0 L97.7,753.0 L97.0,753.0 L96.4,753.6 L95.8,753.6 L95.1,753.0 L94.5,753.0 L93.8,753.0 L93.2,753.0 L92.6,753.0 L91.9,753.0 L91.3,751.2 L90.7,751.2 L90.0,751.2 L89.4,751.8 L88.8,751.8 L88.1,751.8 L87.5,751.8Z" fill="#000" stroke="none"/>
<path d="M87.5,753.9 L88.1,753.9 L88.8,753.9 L89.4,753.9 L90.0,753.9 L90.7,753.9 L91.3,753.9 L91.9,753.9 L92.6,753.9 L93.2,753.9 L93.8,753.9 L94.5,753.9 L95.1,753.9 L95.8,753.9 L96.4,753.9 L97.0,753.9 L97.7,753.9 L98.3,753.9 L98.9,753.9 L99.6,753.9 L100.2,753.9 L100.8,753.9 L101.5,753.9 L102.1,753.9 L102.7,753.9 L103.4,753.9 L104.0,753.9 L104.6,753.9 L105.3,753.9 L105.9,753.9 L106.5,753.9 L107.2,753.9 L107.8,753.9 L108.5,753.9 L109.1,753.9 L109.7,753.9 L110.4,753.9 L111.0,753.9 L111.6,753.9 L112.3,753.9 L112.9,753.9 L113.5,753.9 L114.2,753.9 L114.8,753.9 L115.4,753.9 L116.1,753.9 L116.7,753.9 L117.3,753.9 L118.0,753.9 L118.6,753.9 L119.2,753.9 L119.9,753.9 L120.5,753.9 L121.2,753.9 L121.8,753.9 L122.4,753.9 L123.1,753.9 L123.7,753.9 L124.3,753.9 L125.0,753.9 L125.6,753.9 L126.2,753.9 L126.9,753.9 L127.5,753.9 L128.1,753.9 L128.8,753.9 L129.4,753.9 L130.0,753.9 L130.7,753.9 L131.3,753.9 L131.9,753.9 L132.6,753.9 L133.2,753.9 L133.9,753.9 L134.5,753.9 L135.1,753.9 L135.8,753.9 L136.4,753.9 L137.0,753.9 L137.7,753.9 L138.3,753.9 L138.9,753.9 L139.6,753.9 L140.2,753.9 L140.8,753.9 L141.5,753.9 L142.1,753.9 L142.7,753.9 L143.4,753.9 L144.0,753.9 L144.7,753.9 L145.3,753.9 L145.9,753.9 L146.6,753.9 L147.2,753.9 L147.8,753.9 L148.5,753.9 L149.1,753.9 L149.7,753.9 L150.4,753.9 L151.0,753.9 L151.6,753.9 L152.3,753.9 L152.9,753.9 L153.5,753.9 L154.2,753.9 L154.8,753.9 L155.4,753.9 L156.1,753.9 L156.7,753.9 L157.3,753.9 L158.0,753.9 L158.6,753.9 L159.3,753.9 L159.9,753.9 L160.5,753.9 L161.2,753.9 L161.8,753.9 L162.4,753.9 L163.1,753.9 L163.7,753.9 L164.3,753.9 L165.0,753.9 L165.6,753.9 L166.2,753.9 L166.9,753.9 L167.5,753.9 L168.1,753.9 L168.8,753.9 L169.4,753.9 L170.1,753.9 L170.7,753.9 L171.3,753.9 L172.0,753.9 L172.6,753.9 L173.2,753.9 L173.9,753.9 L174.5,753.9 L175.1,753.9 L175.8,753.9 L176.4,753.9 L177.0,753.9 L177.7,753.9 L178.3,753.9 L178.9,753.9 L179.6,753.9 L180.2,753.9 L180.8,753.9 L181.5,753.9 L182.1,753.9 L182.8,753.9 L183.4,753.9 L184.0,753.9 L184.7,753.9 L185.3,753.9 L185.9,753.9 L186.6,753.9 L187.2,753.9 L187.8,753.9 L188.5,753.9 L189.1,753.9 L189.7,753.9 L190.4,753.9 L191.0,753.9 L191.6,753.9 L192.3,753.9 L192.9,753.9 L193.5,753.9 L194.2,753.9 L194.8,753.9 L195.4,753.2 L196.1,744.7 L196.7,736.1 L197.4,727.6 L198.0,719.1 L198.6,710.5 L199.3,702.0 L199.9,693.4 L200.5,684.9 L201.2,676.4 L201.8,667.8 L202.4,659.3 L203.1,650.8 L203.7,645.6 L204.3,647.4 L205.0,649.1 L205.6,650.8 L206.2,652.4 L206.9,654.1 L207.5,655.7 L208.2,657.2 L208.8,658.8 L209.4,660.3 L210.1,661.8 L210.7,663.3 L211.3,664.7 L212.0,666.1 L212.6,667.5 L213.2,668.9 L213.9,670.2 L214.5,671.6 L215.1,672.9 L215.8,674.1 L216.4,675.4 L217.0,676.6 L217.7,677.8 L218.3,679.0 L218.9,680.2 L219.6,681.3 L220.2,682.5 L220.8,683.6 L221.5,684.7 L222.1,685.7 L222.8,686.8 L223.4,687.8 L224.0,688.8 L224.7,689.8 L225.3,690.8 L225.9,691.8 L226.6,692.7 L227.2,693.6 L227.8,694.6 L228.5,695.5 L229.1,696.3 L229.7,697.2 L230.4,698.1 L231.0,698.9 L231.6,699.7 L232.3,700.5 L232.9,701.3 L233.6,702.1 L234.2,702.9 L234.8,703.6 L235.5,704.4 L236.1,705.1 L236.7,705.8 L237.4,706.5 L238.0,707.2 L238.6,707.9 L239.3,708.6 L239.9,709.2 L240.5,709.9 L241.2,710.5 L241.8,711.1 L242.4,711.8 L243.1,712.4 L243.7,713.0 L244.3,713.5 L245.0,714.1 L245.6,714.7 L246.2,715.2 L246.9,715.8 L247.5,716.3 L248.2,716.8 L248.8,717.4 L249.4,717.9 L250.1,718.4 L250.7,718.9 L251.3,719.3 L252.0,719.8 L252.6,720.3 L253.2,720.8 L253.9,721.2 L254.5,721.7 L255.1,722.1 L255.8,722.5 L256.4,722.9 L257.0,723.4 L257.7,723.8 L258.3,724.2 L259.0,724.6 L259.6,725.0 L260.2,725.3 L260.9,725.7 L261.5,726.1 L262.1,726.4 L262.8,726.8 L263.4,727.2 L264.0,727.5 L264.7,727.8 L265.3,728.2 L265.9,728.5 L266.6,728.8 L267.2,729.2 L267.8,729.5 L268.5,729.8 L269.1,730.1 L269.7,730.4 L270.4,730.7 L271.0,731.0 L271.6,731.2 L272.3,731.5 L272.9,731.8 L273.6,732.1 L274.2,732.3 L274.8,732.6 L275.5,732.9 L276.1,733.1 L276.7,733.4 L277.4,733.6 L278.0,733.8 L278.6,734.1 L279.3,734.3 L279.9,734.6 L280.5,734.8 L281.2,735.0 L281.8,735.2 L282.4,735.4 L283.1,735.6 L283.7,735.9 L284.4,736.1 L285.0,736.3 L285.6,736.5 L286.3,736.7 L286.9,736.9 L287.5,737.0 L288.2,737.2 L288.8,737.4 L289.4,737.6 L290.1,737.8 L290.7,738.0 L291.3,738.1 L292.0,738.3 L292.6,738.5 L293.2,738.6 L293.9,738.8 L294.5,739.0 L295.1,739.1 L295.8,739.3 L296.4,739.4 L297.1,739.6 L297.7,739.7 L298.3,739.9 L299.0,740.0 L299.6,740.2 L300.2,740.3 L300.9,740.4 L301.5,740.6 L302.1,740.7 L302.8,740.8 L303.4,741.0 L304.0,741.1 L304.7,741.2 L305.3,741.3 L305.9,741.5 L306.6,741.6 L307.2,741.7 L307.8,741.8 L308.5,741.9 L309.1,742.0 L309.8,742.1 L310.4,742.3 L311.0,742.4 L311.7,742.5 L312.3,742.6 L312.9,742.7 L313.6,742.8 L314.2,742.9 L314.8,743.0 L315.5,743.1 L316.1,743.2 L316.7,743.3 L317.4,743.4 L318.0,743.5 L318.6,743.5 L319.3,743.6 L319.9,743.7 L320.5,743.8 L321.2,743.9 L321.8,744.0 L322.4,744.1 L323.1,744.2 L323.7,744.2 L324.4,744.3 L325.0,744.4 L325.6,744.5 L326.3,744.5 L326.9,744.6 L327.5,744.7 L328.2,744.8 L328.8,744.8 L329.4,744.9 L330.1,745.0 L330.7,745.1 L331.3,745.1 L332.0,745.2 L332.6,745.3 L333.2,745.3 L333.9,745.4 L334.5,745.5 L335.1,745.5 L335.8,745.6 L336.4,745.6 L337.1,745.7 L337.7,745.8 L338.3,745.8 L339.0,745.9 L339.6,745.9 L340.2,746.0 L340.9,746.0 L341.5,746.1 L342.1,746.2 L342.8,746.2 L343.4,746.3 L344.0,746.3 L344.7,746.4 L345.3,746.4 L345.9,746.5 L346.6,746.5 L347.2,746.6 L347.8,746.6 L348.5,746.7 L349.1,746.7 L349.8,746.8 L350.4,746.8 L351.0,746.9 L351.7,746.9 L352.3,746.9 L352.9,747.0 L353.6,747.0 L354.2,747.1 L354.8,747.1 L355.5,747.2 L356.1,747.2 L356.7,747.2 L357.4,747.3 L358.0,747.3 L358.6,747.4 L359.3,747.4 L359.9,747.4 L360.6,747.5 L361.2,747.5 L361.8,747.6 L362.5,747.6 L363.1,747.6 L363.7,747.7 L364.4,747.7 L365.0,747.7 L365.6,747.8 L366.3,747.8 L366.9,747.8 L367.5,747.9 L368.2,747.9 L368.8,747.9 L369.4,748.0 L370.1,748.0 L370.7,748.0 L371.3,748.1 L372.0,748.1 L372.6,748.1 L373.2,748.2 L373.9,748.2 L374.5,748.2 L375.2,748.3 L375.8,748.3 L376.4,748.3 L377.1,748.3 L377.7,748.4 L378.3,748.4 L379.0,748.4 L379.6,748.5 L380.2,748.5 L380.9,748.5 L381.5,748.5 L382.1,748.6 L382.8,748.6 L383.4,748.6 L384.0,748.6 L384.7,748.7 L385.3,748.7 L385.9,748.7 L386.6,748.7 L387.2,748.8 L387.9,748.8 L388.5,748.8 L389.1,748.8 L389.8,748.9 L390.4,748.9 L391.0,748.9 L391.7,748.9 L392.3,748.9 L392.9,749.0 L393.6,749.0 L394.2,749.0 L394.8,749.0 L395.5,749.1 L396.1,749.1 L396.7,749.1 L397.4,749.1 L398.0,749.1 L398.6,749.2 L399.3,749.2 L399.9,749.2 L400.6,749.2 L401.2,749.2 L401.8,749.3 L402.5,749.3 L403.1,749.3 L403.7,749.3 L404.4,749.3 L405.0,749.4 L405.6,749.4 L406.3,749.4 L406.9,749.4 L407.5,749.4 L408.2,749.4 L408.8,749.5 L409.4,749.5 L410.1,749.5 L410.7,749.5 L411.4,749.5 L412.0,749.6 L412.6,749.6 L413.3,749.6 L413.9,749.6 L414.5,749.6 L415.2,749.6 L415.8,749.7 L416.4,749.7 L417.1,749.7 L417.7,749.7 L418.3,749.7 L419.0,749.7 L419.6,749.7 L420.2,749.8 L420.9,749.8 L421.5,749.8 L422.1,749.8 L422.8,749.8 L423.4,749.8 L424.1,749.9 L424.7,749.9 L425.3,749.9 L426.0,749.9 L426.6,749.9 L427.2,749.9 L427.9,749.9 L428.5,749.9 L429.1,750.0 L429.8,750.0 L430.4,750.0 L431.0,750.0 L431.7,750.0 L432.3,750.0 L432.9,750.0 L433.6,750.1 L434.2,750.1 L434.8,750.1 L435.5,750.1 L436.1,750.1 L436.8,750.1 L437.4,750.1 L438.0,750.1 L438.7,750.2 L439.3,750.2 L439.9,750.2 L440.6,750.2 L441.2,750.2 L441.8,750.2 L442.5,750.2 L443.1,750.2 L443.7,750.3 L444.4,750.3 L445.0,750.3 L445.6,750.3 L446.3,750.3 L446.9,750.3 L447.5,750.3 L448.2,750.3 L448.8,750.3 L449.4,750.4 L450.1,750.4 L450.7,750.4 L451.4,750.4 L452.0,750.4 L452.6,750.4 L453.3,750.4 L453.9,750.4 L454.5,750.4 L455.2,750.5 L455.8,750.5 L456.4,750.5 L457.1,750.5 L457.7,750.5 L458.3,750.5 L459.0,750.5 L459.6,750.5 L460.2,750.5 L460.9,750.5 L461.5,750.6 L462.1,750.6 L462.8,750.6 L463.4,750.6 L464.1,750.6 L464.7,750.6 L465.3,750.6 L466.0,750.6 L466.6,750.6 L467.2,750.6 L467.9,750.6 L468.5,750.7 L469.1,750.7 L469.8,750.7 L470.4,750.7 L471.0,750.7 L471.7,750.7 L472.3,750.7 L472.9,750.7 L473.6,750.7 L474.2,750.7 L474.8,750.7 L475.5,750.8 L476.1,750.8 L476.8,750.8 L477.4,750.8 L478.0,750.8 L478.7,750.8 L479.3,750.8 L479.9,750.8 L480.6,750.8 L481.2,750.8 L481.8,750.8 L482.5,750.8 L483.1,750.9 L483.7,750.9 L484.4,750.9 L485.0,750.9 L485.6,750.9 L486.3,750.9 L486.9,750.9 L487.6,750.9 L488.2,750.9 L488.8,750.9 L489.5,750.9 L490.1,750.9 L490.7,750.9 L491.4,751.0 L492.0,751.0 L492.6,751.0 L493.3,751.0 L493.9,751.0 L494.5,751.0 L495.2,751.0 L495.8,751.0 L496.4,751.0 L497.1,751.0 L497.7,751.0 L498.3,751.0 L499.0,751.0 L499.6,751.1 L500.2,751.1 L500.9,751.1 L501.5,751.1 L502.2,751.1 L502.8,751.1 L503.4,751.1 L504.1,751.1 L504.7,751.1 L505.3,751.1 L506.0,751.1 L506.6,751.1 L507.2,751.1 L507.9,751.1 L508.5,751.1 L509.1,751.2 L509.8,751.2 L510.4,751.2 L511.0,751.2 L511.7,751.2 L512.3,751.2 L513.0,751.2 L513.6,751.2 L514.2,751.2 L514.9,751.2 L515.5,751.2 L516.1,751.2 L516.8,751.2 L517.4,751.2 L518.0,751.2 L518.7,751.2 L519.3,751.2 L519.9,751.2 L520.6,751.2 L521.2,751.2 L521.8,751.2 L522.5,751.2 L523.1,751.2 L523.7,751.2 L524.4,751.2 L525.0,751.2 L525.6,751.2 L526.3,751.2 L526.9,751.2 L527.6,751.2 L528.2,751.2 L528.8,751.3 L529.5,751.3 L530.1,751.3 L530.7,751.3 L531.4,751.3 L532.0,751.3 L532.6,751.3 L533.3,751.3 L533.9,751.3 L534.5,751.3 L535.2,751.3 L535.8,751.3 L536.4,751.3 L537.1,751.3 L537.7,751.3 L538.3,751.3 L539.0,751.3 L539.6,751.3 L540.3,751.3 L540.9,751.3 L541.5,751.3 L542.2,751.3 L542.8,751.3 L543.4,751.3 L544.1,751.3 L544.7,751.3 L545.3,751.3 L546.0,751.3 L546.6,751.3 L547.2,751.3 L547.9,751.3 L548.5,751.3 L549.1,751.3 L549.8,751.3 L550.4,751.3 L551.0,751.3 L551.7,751.3 L552.3,751.3 L553.0,751.3 L553.6,751.3 L554.2,751.4 L554.9,751.4 L555.5,751.4 L556.1,751.4 L556.8,751.4 L557.4,751.4 L558.0,751.4 L558.7,751.4 L559.3,751.4 L559.9,751.4 L560.6,751.4 L561.2,751.4 L561.8,751.4 L562.5,751.4 L563.1,751.4 L563.8,751.4 L564.4,751.4 L565.0,751.4 L565.7,751.4 L566.3,751.4 L566.9,751.4 L567.6,751.4 L568.2,751.4 L568.8,751.4 L569.5,751.4 L570.1,751.4 L570.7,751.4 L571.4,751.4 L572.0,751.4 L572.6,751.4 L573.3,751.4 L573.9,751.4 L574.5,751.4 L575.2,751.4 L575.8,751.4 L576.5,751.4 L577.1,751.4 L577.7,751.4 L578.4,751.4 L579.0,751.4 L579.6,751.4 L580.3,751.4 L580.9,751.4 L581.5,751.4 L582.2,751.4 L582.8,751.4 L583.4,751.4 L584.1,751.4 L584.7,751.4 L585.3,751.4 L586.0,751.4 L586.6,751.4 L587.2,751.4 L587.9,751.4 L588.5,751.4 L589.2,751.4 L589.8,751.4 L590.4,751.5 L591.1,751.5 L591.7,751.5 L592.3,751.5 L593.0,751.5 L593.6,751.5 L594.2,751.5 L594.9,751.5 L595.5,751.5" stroke-width="4.6"/><path d="M87.5,749.3 L88.1,749.3 L88.8,749.3 L89.4,747.5 L90.0,747.5 L90.7,747.5 L91.3,747.5 L91.9,747.5 L92.6,747.5 L93.2,748.7 L93.8,748.7 L94.5,748.7 L95.1,748.1 L95.8,748.1 L96.4,748.1 L97.0,749.3 L97.7,749.3 L98.3,749.3 L98.9,749.3 L99.6,749.3 L100.2,749.3 L100.8,749.9 L101.5,749.9 L102.1,748.7 L102.7,748.7 L103.4,748.7 L104.0,748.7 L104.6,748.7 L105.3,748.1 L105.9,748.1 L106.5,748.1 L107.2,748.1 L107.8,748.1 L108.5,748.1 L109.1,748.1 L109.7,748.1 L110.4,748.1 L111.0,748.1 L111.6,748.1 L112.3,747.5 L112.9,747.5 L113.5,747.5 L114.2,747.5 L114.8,747.5 L115.4,747.5 L116.1,747.5 L116.7,747.5 L117.3,747.5 L118.0,747.5 L118.6,747.5 L119.2,747.5 L119.9,747.5 L120.5,747.5 L121.2,747.5 L121.8,747.5 L122.4,748.7 L123.1,748.7 L123.7,748.1 L124.3,748.1 L125.0,748.1 L125.6,748.1 L126.2,748.1 L126.9,748.7 L127.5,748.7 L128.1,748.7 L128.8,748.7 L129.4,748.7 L130.0,749.9 L130.7,749.9 L131.3,749.9 L131.9,749.9 L132.6,749.9 L133.2,749.9 L133.9,747.5 L134.5,747.5 L135.1,747.5 L135.8,747.5 L136.4,747.5 L137.0,749.3 L137.7,749.3 L138.3,749.3 L138.9,749.3 L139.6,748.1 L140.2,748.1 L140.8,748.1 L141.5,748.1 L142.1,748.1 L142.7,748.1 L143.4,747.5 L144.0,747.5 L144.7,747.5 L145.3,747.5 L145.9,747.5 L146.6,747.5 L147.2,747.5 L147.8,747.5 L148.5,747.5 L149.1,747.5 L149.7,746.5 L150.4,746.5 L151.0,746.5 L151.6,746.5 L152.3,746.5 L152.9,746.5 L153.5,748.7 L154.2,748.7 L154.8,748.7 L155.4,748.7 L156.1,747.5 L156.7,747.5 L157.3,747.5 L158.0,747.5 L158.6,747.5 L159.3,748.7 L159.9,748.7 L160.5,748.7 L161.2,748.7 L161.8,748.7 L162.4,748.7 L163.1,748.7 L163.7,748.7 L164.3,749.9 L165.0,749.9 L165.6,749.9 L166.2,749.3 L166.9,749.3 L167.5,749.3 L168.1,749.3 L168.8,749.3 L169.4,747.5 L170.1,747.5 L170.7,747.5 L171.3,747.5 L172.0,747.5 L172.6,747.5 L173.2,747.5 L173.9,747.5 L174.5,748.7 L175.1,748.7 L175.8,748.7 L176.4,748.7 L177.0,748.7 L177.7,748.7 L178.3,748.7 L178.9,748.7 L179.6,748.7 L180.2,748.7 L180.8,748.7 L181.5,748.1 L182.1,748.1 L182.8,748.1 L183.4,748.1 L184.0,748.1 L184.7,749.9 L185.3,749.9 L185.9,749.9 L186.6,747.1 L187.2,747.1 L187.8,747.1 L188.5,747.1 L189.1,747.1 L189.7,747.1 L190.4,748.7 L191.0,748.7 L191.6,748.7 L192.3,749.9 L192.9,749.9 L193.5,751.9 L193.7,751.9 L192.6,753.3 L193.2,752.9 L193.8,744.4 L194.5,736.0 L195.1,727.4 L195.0,718.8 L195.7,710.3 L196.3,701.8 L196.9,693.2 L197.6,684.7 L198.2,676.2 L198.8,667.6 L199.5,659.1 L200.6,650.5 L200.0,644.7 L204.4,643.5 L208.6,647.7 L209.3,649.4 L210.0,651.0 L210.1,652.8 L210.8,654.4 L211.5,655.9 L212.2,657.4 L212.3,659.1 L213.0,660.6 L213.7,662.0 L215.4,662.9 L216.1,664.3 L216.8,665.6 L217.5,666.9 L218.1,668.2 L218.8,669.5 L218.4,671.2 L219.1,672.5 L221.4,672.8 L222.0,674.0 L221.7,675.7 L222.3,676.9 L223.0,678.0 L223.6,679.1 L224.7,679.9 L225.4,681.0 L226.0,682.0 L226.6,683.1 L227.2,684.1 L227.8,685.1 L227.4,686.7 L228.0,687.7 L229.6,688.0 L230.3,688.9 L230.9,689.8 L231.5,690.7 L232.1,691.6 L232.7,692.4 L233.8,692.9 L234.4,693.8 L235.0,694.6 L235.6,695.4 L236.2,696.2 L237.3,696.6 L237.9,697.3 L238.5,698.1 L239.1,698.8 L239.7,699.5 L240.3,700.2 L240.0,701.7 L240.6,702.4 L241.2,703.0 L241.8,703.7 L242.4,704.3 L243.0,705.0 L244.1,705.2 L244.7,705.8 L245.3,706.4 L245.9,707.0 L248.4,705.6 L249.0,706.1 L249.6,706.7 L247.4,710.1 L248.1,710.7 L249.8,709.9 L250.4,710.4 L251.0,710.9 L250.1,713.2 L250.7,713.8 L251.3,714.3 L251.9,714.7 L252.5,715.2 L253.9,714.7 L254.5,715.2 L254.4,716.6 L255.0,717.1 L257.0,715.6 L257.6,716.0 L258.2,716.4 L258.8,716.8 L259.0,717.7 L259.6,718.1 L260.2,718.5 L260.8,718.9 L261.4,719.3 L261.7,720.1 L262.3,720.5 L263.5,719.8 L264.1,720.2 L264.7,720.5 L265.3,720.9 L265.9,721.2 L266.5,721.6 L267.1,721.9 L267.7,722.2 L268.3,722.5 L268.9,722.8 L268.6,724.7 L269.3,725.0 L269.9,725.3 L271.3,724.0 L271.9,724.3 L272.5,724.6 L273.0,724.9 L273.6,725.1 L273.5,727.0 L274.1,727.3 L274.7,727.6 L275.3,727.8 L276.0,728.1 L276.6,728.3 L277.2,728.6 L277.8,728.8 L278.4,729.1 L279.7,727.6 L280.3,727.9 L280.9,728.1 L281.5,728.3 L282.1,728.5 L282.7,728.7 L282.7,730.7 L283.3,730.9 L283.9,731.1 L284.5,731.3 L285.5,730.3 L286.1,730.5 L286.7,730.7 L287.3,730.9 L288.0,731.1 L288.7,730.7 L289.3,730.9 L290.0,731.1 L290.6,731.3 L291.2,731.4 L291.8,731.6 L292.2,732.4 L292.9,732.5 L293.5,732.7 L293.8,734.0 L294.4,734.2 L295.0,734.3 L295.8,733.9 L296.4,734.1 L297.3,733.0 L297.9,733.2 L298.0,735.7 L298.6,735.8 L299.2,736.0 L299.8,736.1 L300.5,736.2 L301.1,736.4 L302.1,734.8 L302.7,734.9 L303.3,735.0 L304.1,734.6 L304.7,734.7 L305.3,734.8 L305.9,734.9 L306.5,735.1 L306.7,737.5 L307.3,737.6 L308.4,735.4 L309.0,735.5 L309.6,735.6 L310.2,735.7 L310.8,735.8 L311.5,736.0 L311.9,737.2 L312.5,737.3 L313.1,737.4 L313.8,737.5 L314.6,736.5 L315.2,736.6 L315.8,736.7 L316.4,736.8 L317.1,736.8 L317.7,736.9 L318.1,738.2 L318.7,738.3 L319.4,738.4 L320.0,738.5 L320.8,737.4 L321.4,737.5 L322.0,737.6 L322.3,740.0 L323.0,740.1 L323.6,740.2 L324.2,740.3 L324.9,740.3 L325.5,740.4 L326.3,738.7 L327.0,738.8 L327.6,738.9 L328.2,738.9 L328.8,739.0 L329.5,739.1 L330.1,738.6 L330.8,738.6 L331.4,738.7 L332.0,738.8 L332.7,738.8 L333.0,741.3 L333.7,741.3 L334.3,741.4 L334.9,741.5 L335.7,740.3 L336.3,740.4 L336.9,740.5 L337.5,740.5 L338.2,740.6 L338.8,740.6 L339.4,740.7 L340.2,739.6 L340.8,739.6 L341.4,740.3 L342.0,740.3 L342.6,740.4 L343.3,740.4 L343.9,740.5 L344.6,739.9 L345.2,740.0 L345.8,740.0 L346.5,740.1 L347.1,740.1 L347.7,740.2 L348.2,742.0 L348.8,742.1 L349.5,742.1 L350.1,742.2 L350.8,741.0 L351.4,741.1 L352.1,741.1 L352.7,741.2 L353.3,741.2 L353.9,741.8 L354.6,741.9 L355.2,741.9 L355.8,742.0 L356.4,742.0 L357.1,742.1 L357.6,743.3 L358.3,743.3 L359.0,741.6 L359.6,741.6 L360.3,741.7 L360.9,741.7 L361.5,741.7 L362.2,740.8 L362.8,740.8 L363.5,740.8 L364.1,740.9 L364.7,740.9 L365.4,741.0 L365.9,743.2 L366.5,743.2 L367.2,741.5 L367.9,741.5 L368.4,743.9 L369.0,744.0 L369.7,742.8 L370.3,742.8 L371.0,742.8 L371.6,742.9 L372.3,741.7 L372.9,741.7 L373.5,743.6 L374.1,743.6 L374.7,743.6 L375.4,742.5 L376.1,742.5 L376.7,742.5 L377.3,742.5 L378.0,742.6 L378.6,742.6 L379.2,742.6 L379.8,742.7 L380.5,742.7 L381.1,742.7 L381.7,742.7 L382.4,741.2 L383.1,741.2 L383.7,741.2 L384.3,741.2 L385.0,741.3 L385.5,743.5 L386.2,743.5 L386.8,743.5 L387.4,743.6 L388.1,743.6 L388.7,744.2 L389.3,744.2 L389.9,744.3 L390.6,743.7 L391.2,743.7 L391.8,743.7 L392.5,742.2 L393.2,742.2 L393.8,742.2 L394.4,742.2 L395.1,742.2 L395.7,742.3 L396.2,745.1 L396.9,745.1 L397.5,745.1 L398.1,745.1 L398.9,741.2 L399.5,741.2 L400.2,741.2 L400.7,744.6 L401.3,744.6 L402.0,744.7 L402.6,744.7 L403.2,744.7 L403.8,745.3 L404.5,745.3 L405.2,743.0 L405.8,743.0 L406.5,743.0 L407.1,743.0 L407.7,744.2 L408.3,744.3 L409.0,744.3 L409.6,744.3 L410.2,744.3 L410.9,744.3 L411.5,745.5 L412.1,745.6 L412.7,745.6 L413.4,745.6 L414.0,745.6 L414.7,743.4 L415.3,743.4 L415.9,743.9 L416.6,743.9 L417.2,743.9 L417.8,743.9 L418.5,743.9 L419.1,743.9 L419.8,741.1 L420.4,741.2 L421.1,741.2 L421.7,741.2 L422.2,745.8 L422.9,745.8 L423.5,745.8 L424.2,744.1 L424.8,744.1 L425.5,744.1 L426.1,744.1 L426.7,744.1 L427.3,745.3 L428.0,745.3 L428.6,745.4 L429.2,745.4 L429.9,745.4 L430.5,745.4 L431.1,745.4 L431.8,745.4 L432.4,745.4 L433.0,745.4 L433.7,743.7 L434.3,743.7 L435.0,743.7 L435.6,743.7 L436.2,743.7 L436.9,743.7 L437.5,746.1 L438.1,746.1 L438.8,745.0 L439.4,745.0 L440.0,744.4 L440.7,744.4 L441.3,744.4 L441.9,744.4 L442.6,742.8 L443.2,742.8 L443.9,742.9 L444.5,744.5 L445.1,744.5 L445.7,744.5 L446.4,743.9 L447.0,743.9 L447.6,745.7 L448.3,745.7 L448.9,745.7 L449.5,745.8 L450.2,745.8 L450.8,745.8 L451.4,745.2 L452.1,745.2 L452.7,745.2 L453.3,745.2 L454.0,745.2 L454.6,745.2 L455.2,746.5 L455.9,746.5 L456.6,741.9 L457.2,741.9 L457.8,746.5 L458.4,746.5 L459.0,746.5 L459.7,746.5 L460.3,746.5 L460.9,746.5 L461.6,746.6 L462.2,746.6 L462.8,746.6 L463.5,746.6 L464.1,746.6 L464.7,746.6 L465.4,746.6 L466.0,746.6 L466.7,746.6 L467.3,746.6 L467.9,746.6 L468.6,746.7 L469.2,746.7 L469.8,746.7 L470.5,746.7 L471.1,746.7 L471.7,746.7 L472.4,746.7 L473.0,744.3 L473.7,744.3 L474.3,744.3 L474.9,745.5 L475.6,745.6 L476.2,745.6 L476.8,745.6 L477.5,745.6 L478.1,744.4 L478.7,744.4 L479.4,744.4 L480.0,744.4 L480.6,744.4 L481.3,744.4 L481.9,745.0 L482.5,745.0 L483.2,745.1 L483.8,745.1 L484.4,745.1 L485.1,745.1 L485.7,745.1 L486.4,745.1 L487.0,745.1 L487.6,746.3 L488.2,746.3 L488.9,744.5 L489.5,744.5 L490.2,744.5 L490.8,744.5 L491.4,744.6 L492.1,745.8 L492.7,745.8 L493.3,745.8 L494.0,745.8 L494.6,745.8 L495.2,747.0 L495.9,747.0 L496.5,747.0 L497.1,747.0 L497.8,747.0 L498.4,745.2 L499.0,745.2 L499.7,745.3 L500.3,745.3 L500.9,745.3 L501.6,745.3 L502.2,745.3 L502.9,745.3 L503.5,745.3 L504.1,745.3 L504.8,743.7 L505.4,743.7 L506.0,743.7 L506.7,743.7 L507.3,744.7 L507.9,744.7 L508.6,744.7 L509.2,744.8 L509.8,744.8 L510.4,744.8 L511.1,746.6 L511.7,746.6 L512.3,746.6 L513.0,746.0 L513.6,746.0 L514.2,746.0 L514.9,746.0 L515.5,744.4 L516.2,744.4 L516.8,744.4 L517.4,744.4 L518.1,744.4 L518.7,744.8 L519.3,744.8 L520.0,744.8 L520.6,744.8 L521.2,744.8 L521.9,745.4 L522.5,745.4 L523.1,745.4 L523.8,745.4 L524.4,744.8 L525.0,744.8 L525.7,744.8 L526.3,744.8 L526.9,744.8 L527.6,744.8 L528.2,744.8 L528.9,744.9 L529.5,744.9 L530.1,744.9 L530.8,744.9 L531.4,744.9 L532.0,744.9 L532.7,744.9 L533.3,744.9 L533.9,744.9 L534.6,744.9 L535.2,744.9 L535.8,744.9 L536.5,744.9 L537.1,744.9 L537.7,747.3 L538.4,747.3 L539.0,747.3 L539.6,747.3 L540.3,747.3 L540.9,747.3 L541.5,745.5 L542.2,745.5 L542.8,745.5 L543.5,745.5 L544.1,745.5 L544.7,745.5 L545.4,742.7 L546.0,742.7 L546.6,742.7 L547.3,742.7 L547.9,742.7 L548.5,744.9 L549.2,744.9 L549.8,744.9 L550.4,744.9 L551.1,747.3 L551.7,747.3 L552.3,743.9 L553.0,743.9 L553.6,743.9 L554.2,744.0 L554.9,744.0 L555.5,746.2 L556.1,746.2 L556.8,746.2 L557.4,746.2 L558.1,746.2 L558.7,746.2 L559.3,746.2 L560.0,746.2 L560.6,746.2 L561.2,746.2 L561.9,746.2 L562.5,746.2 L563.1,746.2 L563.8,745.6 L564.4,745.6 L565.0,745.6 L565.7,747.4 L566.3,747.4 L566.9,745.0 L567.6,745.0 L568.2,745.6 L568.8,745.6 L569.5,745.6 L570.1,745.6 L570.8,745.6 L571.4,745.0 L572.0,745.0 L572.7,745.0 L573.3,746.8 L573.9,746.8 L574.6,746.8 L575.2,742.8 L575.8,742.8 L576.5,742.8 L577.1,742.8 L577.7,742.8 L578.4,746.2 L579.0,746.2 L579.6,746.2 L580.3,745.0 L580.9,745.0 L581.5,745.6 L582.2,745.6 L582.8,746.8 L583.4,746.8 L584.1,746.8 L584.7,746.8 L585.4,746.8 L586.0,747.4 L586.6,747.4 L587.3,746.8 L587.9,746.8 L588.5,746.8 L589.2,746.8 L589.8,746.8 L590.4,746.9 L591.1,743.5 L591.7,743.5 L592.3,743.5 L593.0,743.5 L593.6,745.1 L594.2,745.1 L594.9,745.1 L595.5,745.1 L595.5,757.9 L594.9,757.9 L594.2,757.9 L593.6,757.9 L592.9,757.9 L592.3,757.9 L591.7,757.3 L591.0,757.3 L590.4,757.3 L589.8,757.2 L589.1,756.6 L588.5,756.6 L587.9,756.6 L587.2,756.6 L586.6,756.6 L586.0,756.6 L585.3,756.6 L584.7,756.6 L584.1,756.6 L583.4,756.6 L582.8,756.6 L582.2,756.6 L581.5,756.6 L580.9,756.0 L580.2,756.0 L579.6,756.0 L579.0,755.4 L578.3,755.4 L577.7,755.4 L577.1,757.8 L576.4,757.8 L575.8,757.8 L575.2,757.8 L574.5,757.8 L573.9,757.2 L573.3,757.2 L572.6,757.2 L572.0,757.2 L571.4,757.2 L570.7,757.2 L570.1,757.2 L569.4,757.2 L568.8,757.2 L568.2,756.6 L567.5,756.6 L566.9,757.8 L566.3,757.8 L565.6,757.8 L565.0,757.8 L564.4,757.8 L563.7,757.8 L563.1,758.8 L562.5,758.8 L561.8,758.8 L561.2,758.8 L560.6,758.8 L559.9,756.0 L559.3,756.0 L558.7,756.0 L558.0,756.0 L557.4,757.2 L556.7,757.2 L556.1,757.2 L555.5,757.2 L554.8,757.8 L554.2,757.8 L553.6,757.7 L552.9,757.7 L552.3,757.1 L551.7,757.1 L551.0,757.1 L550.4,757.1 L549.8,757.7 L549.1,757.7 L548.5,755.9 L547.9,755.9 L547.2,755.9 L546.6,755.9 L546.0,755.9 L545.3,755.9 L544.7,755.9 L544.0,755.9 L543.4,755.9 L542.8,757.1 L542.1,757.1 L541.5,757.1 L540.9,757.1 L540.2,755.3 L539.6,755.3 L539.0,755.3 L538.3,755.3 L537.7,757.7 L537.1,757.7 L536.4,757.7 L535.8,757.1 L535.2,757.1 L534.5,757.1 L533.9,757.1 L533.2,757.1 L532.6,757.1 L532.0,755.9 L531.3,755.9 L530.7,755.9 L530.1,755.9 L529.4,755.9 L528.8,757.7 L528.2,757.6 L527.5,757.6 L526.9,757.6 L526.3,757.6 L525.6,757.6 L525.0,757.6 L524.4,757.4 L523.7,757.4 L523.1,756.4 L522.4,756.4 L521.8,756.4 L521.2,756.4 L520.5,756.4 L519.9,756.4 L519.3,756.4 L518.6,756.4 L518.0,756.4 L517.4,756.4 L516.7,756.4 L516.1,759.8 L515.4,759.8 L514.8,759.8 L514.2,757.4 L513.6,757.4 L512.9,757.4 L512.3,757.4 L511.6,757.4 L511.0,757.4 L510.4,757.4 L509.7,757.4 L509.1,757.4 L508.5,757.3 L507.8,757.3 L507.2,756.3 L506.5,756.3 L505.9,756.3 L505.3,756.3 L504.6,755.7 L504.0,755.7 L503.4,755.7 L502.7,755.7 L502.1,755.7 L501.5,755.7 L500.8,755.7 L500.2,755.7 L499.6,755.7 L498.9,756.8 L498.3,756.8 L497.6,756.8 L497.0,756.8 L496.4,756.8 L495.7,756.8 L495.1,756.8 L494.5,757.4 L493.8,757.4 L493.2,757.4 L492.6,755.0 L491.9,755.0 L491.3,755.0 L490.6,757.3 L490.0,757.3 L489.4,757.3 L488.7,757.3 L488.1,757.3 L487.5,757.3 L486.9,754.9 L486.2,754.9 L485.6,757.3 L484.9,757.3 L484.3,757.3 L483.7,757.3 L483.0,757.3 L482.4,756.6 L481.8,756.6 L481.1,756.6 L480.5,756.6 L479.9,756.6 L479.2,756.6 L478.6,755.4 L478.0,755.4 L477.3,755.4 L476.7,754.8 L476.1,754.8 L475.4,754.8 L474.8,754.7 L474.1,755.9 L473.5,755.9 L472.9,756.5 L472.2,756.5 L471.6,755.9 L471.0,755.9 L470.3,755.9 L469.7,755.9 L469.1,755.9 L468.4,755.9 L467.8,755.8 L467.1,756.4 L466.5,756.4 L465.9,756.4 L465.2,756.4 L464.6,756.4 L464.0,756.4 L463.3,756.4 L462.7,756.4 L462.1,755.2 L461.4,755.2 L460.8,755.1 L460.2,755.1 L459.5,755.1 L458.9,755.1 L458.3,755.1 L457.6,755.1 L457.0,755.1 L456.4,755.1 L455.7,755.1 L455.1,755.0 L454.5,755.0 L453.8,755.0 L453.2,755.0 L452.5,755.0 L451.9,756.2 L451.3,756.2 L450.6,756.2 L450.0,756.2 L449.3,756.2 L448.7,756.1 L448.1,754.3 L447.5,754.3 L446.8,754.3 L446.2,754.9 L445.6,754.9 L444.9,754.9 L444.3,755.5 L443.6,755.5 L443.0,756.0 L442.4,756.0 L441.7,756.6 L441.1,756.6 L440.4,756.6 L439.8,756.6 L439.2,756.6 L438.5,756.0 L437.9,755.9 L437.3,756.5 L436.6,756.5 L436.0,756.5 L435.4,756.5 L434.7,756.5 L434.1,755.3 L433.5,755.3 L432.8,755.2 L432.2,755.2 L431.6,755.2 L430.9,755.2 L430.3,755.2 L429.7,755.2 L429.0,756.4 L428.4,756.3 L427.7,756.3 L427.1,756.3 L426.4,756.3 L425.8,756.3 L425.2,756.3 L424.5,756.3 L423.9,756.2 L423.3,756.2 L422.6,756.2 L422.0,756.2 L421.4,756.2 L420.8,755.0 L420.1,755.0 L419.5,754.9 L418.8,754.9 L418.2,754.9 L417.6,754.9 L416.9,754.9 L416.3,754.9 L415.7,754.8 L415.1,753.6 L414.4,753.6 L413.8,753.6 L413.2,753.6 L412.5,756.0 L411.8,755.9 L411.2,755.9 L410.5,755.9 L409.9,756.9 L409.2,756.9 L408.6,756.9 L408.0,756.8 L407.4,754.6 L406.8,754.6 L406.1,754.6 L405.5,754.6 L404.8,754.6 L404.2,753.9 L403.6,753.9 L403.0,753.9 L402.3,753.9 L401.7,753.9 L401.0,753.8 L400.4,753.8 L399.8,753.8 L399.1,753.8 L398.5,753.8 L397.9,753.7 L397.1,757.1 L396.5,757.1 L395.9,754.9 L395.3,754.9 L394.7,753.6 L394.0,753.6 L393.4,753.6 L392.7,754.8 L392.1,754.7 L391.5,754.7 L390.8,754.7 L390.2,754.7 L389.5,755.3 L388.9,755.2 L388.3,755.2 L387.6,755.2 L387.0,755.2 L386.4,754.5 L385.7,754.5 L385.1,754.5 L384.5,754.5 L383.8,755.0 L383.2,755.0 L382.5,755.0 L381.9,754.4 L381.3,754.3 L380.6,754.3 L380.0,754.3 L379.4,754.2 L378.7,754.8 L378.0,754.8 L377.4,754.8 L376.8,754.7 L376.1,754.7 L375.5,754.1 L374.9,754.0 L374.2,754.0 L373.6,754.6 L372.9,754.6 L372.3,754.5 L371.7,754.5 L371.0,754.5 L370.4,754.4 L369.8,753.2 L369.2,753.2 L368.5,753.1 L367.9,753.1 L367.3,753.1 L366.6,753.0 L365.9,754.2 L365.3,754.2 L364.6,754.1 L364.0,754.1 L363.4,754.1 L362.8,752.2 L362.2,752.2 L361.6,752.2 L360.9,752.1 L360.3,752.1 L359.6,752.0 L359.0,751.4 L358.4,751.4 L357.8,751.3 L357.0,753.7 L356.3,753.6 L355.7,753.6 L355.0,753.6 L354.4,753.5 L353.8,752.3 L353.2,752.2 L352.6,752.2 L351.9,752.1 L351.3,752.1 L350.7,752.0 L350.0,752.0 L349.4,752.0 L348.6,753.1 L348.0,753.1 L347.4,753.0 L346.7,753.0 L346.1,752.9 L345.4,752.9 L344.9,751.0 L344.3,751.0 L343.7,750.9 L343.0,750.9 L342.4,750.8 L341.7,750.7 L341.1,750.7 L340.5,750.6 L339.8,750.6 L339.2,750.5 L338.5,750.5 L337.8,751.6 L337.1,751.5 L336.6,750.3 L336.0,750.2 L335.3,750.2 L334.7,750.1 L334.1,750.0 L333.4,750.0 L332.6,751.1 L332.0,751.0 L331.4,751.0 L330.8,750.3 L330.1,750.2 L329.5,750.2 L328.9,750.1 L328.1,751.2 L327.4,751.1 L326.8,751.1 L326.4,749.2 L325.7,749.1 L325.1,749.0 L324.4,749.0 L323.8,748.9 L323.1,748.8 L322.5,748.7 L321.9,748.6 L321.2,748.5 L320.6,748.5 L319.9,748.4 L319.0,750.1 L318.4,750.0 L317.7,749.9 L317.4,747.4 L316.8,747.3 L316.1,747.2 L315.5,747.1 L314.9,747.0 L314.2,746.9 L313.6,746.8 L312.9,746.7 L312.3,746.6 L311.6,746.5 L310.6,748.8 L310.0,748.7 L309.3,748.6 L308.7,748.5 L308.0,748.3 L307.3,748.2 L306.7,748.1 L306.0,748.0 L305.4,747.9 L304.7,747.7 L304.2,747.0 L303.6,746.9 L302.9,746.8 L302.3,746.6 L302.0,744.7 L301.3,744.6 L300.7,744.5 L300.0,744.3 L299.4,744.2 L298.2,746.4 L297.6,746.3 L297.4,743.8 L296.8,743.6 L296.1,743.5 L295.5,743.3 L294.6,744.3 L293.9,744.2 L293.4,743.4 L292.7,743.3 L292.1,743.1 L291.4,742.9 L290.8,742.7 L289.7,744.3 L289.0,744.1 L288.5,743.4 L287.8,743.2 L287.7,741.3 L287.0,741.1 L285.7,743.2 L285.0,743.0 L284.4,742.8 L283.7,742.6 L283.1,742.4 L282.9,740.4 L282.3,740.2 L281.6,740.0 L281.2,739.2 L280.5,739.0 L279.9,738.8 L279.2,738.5 L278.6,738.3 L277.5,739.2 L276.8,739.0 L276.2,738.7 L275.5,738.5 L274.8,738.2 L274.2,737.9 L273.5,737.7 L272.9,737.4 L272.2,737.1 L271.8,736.3 L271.1,736.0 L270.4,735.7 L269.8,735.5 L268.4,736.8 L267.7,736.5 L267.0,736.2 L267.1,734.2 L266.5,733.9 L265.8,733.6 L265.2,733.3 L264.5,732.9 L263.0,734.2 L262.3,733.9 L261.7,733.5 L261.0,733.1 L260.3,732.8 L259.6,732.4 L259.3,731.5 L258.6,731.1 L257.9,730.7 L257.2,730.3 L256.6,729.9 L256.2,729.0 L255.5,728.6 L254.9,728.1 L254.2,727.7 L253.5,727.3 L253.2,726.3 L252.5,725.9 L251.9,725.4 L250.2,726.4 L249.5,725.9 L248.8,725.5 L248.1,725.0 L247.5,724.5 L246.8,723.9 L246.1,723.4 L245.4,722.9 L244.8,722.3 L244.1,721.8 L243.4,721.2 L244.3,718.8 L243.6,718.3 L241.4,719.5 L240.7,718.9 L240.0,718.3 L239.4,717.6 L238.7,717.0 L238.0,716.4 L237.3,715.7 L236.7,715.1 L236.0,714.4 L235.3,713.7 L234.6,713.0 L234.0,712.3 L233.3,711.6 L232.6,710.8 L232.8,709.3 L232.2,708.5 L231.1,708.2 L230.4,707.4 L231.1,705.4 L230.5,704.6 L229.8,703.8 L226.0,705.5 L225.3,704.6 L224.7,703.8 L226.2,701.2 L225.6,700.3 L224.9,699.4 L224.2,698.5 L222.6,698.2 L221.9,697.3 L221.8,696.0 L221.1,695.0 L218.1,695.5 L217.4,694.5 L216.8,693.4 L216.1,692.3 L215.4,691.3 L217.1,688.7 L216.5,687.6 L215.8,686.5 L215.2,685.3 L214.5,684.2 L213.9,683.0 L212.7,682.0 L212.1,680.8 L211.5,679.5 L210.9,678.2 L212.4,675.8 L211.9,674.5 L211.3,673.1 L209.0,672.5 L208.5,671.1 L207.9,669.7 L207.3,668.3 L206.7,666.8 L206.1,665.3 L205.5,663.8 L204.9,662.2 L204.3,660.7 L204.8,658.6 L204.2,657.0 L202.0,656.0 L201.4,654.3 L201.9,652.2 L201.3,650.4 L204.3,651.8 L207.9,646.7 L206.0,651.1 L205.4,659.5 L204.8,668.1 L203.7,676.6 L203.0,685.1 L202.9,693.7 L202.2,702.2 L201.6,710.7 L201.0,719.3 L200.3,727.8 L198.7,736.3 L198.1,744.9 L197.4,753.5 L196.8,754.4 L194.7,755.8 L193.5,755.9 L192.9,757.9 L192.3,757.9 L191.6,757.9 L191.0,757.9 L190.4,757.9 L189.7,757.9 L189.1,757.9 L188.5,757.9 L187.8,760.3 L187.2,760.3 L186.6,760.3 L185.9,759.1 L185.3,759.1 L184.7,759.1 L184.0,759.1 L183.4,759.1 L182.8,759.1 L182.1,759.1 L181.5,759.1 L180.8,759.1 L180.2,760.3 L179.6,760.3 L178.9,760.3 L178.3,760.3 L177.7,760.3 L177.0,760.3 L176.4,758.5 L175.8,758.5 L175.1,758.5 L174.5,758.5 L173.9,760.1 L173.2,760.1 L172.6,760.1 L172.0,758.5 L171.3,758.5 L170.7,758.5 L170.1,760.3 L169.4,760.3 L168.8,760.3 L168.1,760.3 L167.5,760.3 L166.9,760.3 L166.2,759.1 L165.6,759.1 L165.0,759.1 L164.3,759.1 L163.7,759.1 L163.1,759.1 L162.4,758.5 L161.8,758.5 L161.2,758.5 L160.5,758.5 L159.9,759.1 L159.3,759.1 L158.6,759.1 L158.0,759.1 L157.3,759.1 L156.7,757.9 L156.1,757.9 L155.4,760.3 L154.8,760.3 L154.2,760.3 L153.5,760.3 L152.9,760.3 L152.3,760.3 L151.6,760.3 L151.0,757.9 L150.4,757.9 L149.7,757.9 L149.1,757.9 L148.5,757.9 L147.8,757.9 L147.2,759.1 L146.6,759.1 L145.9,759.1 L145.3,759.1 L144.7,760.3 L144.0,760.3 L143.4,760.3 L142.7,759.7 L142.1,759.7 L141.5,759.7 L140.8,759.7 L140.2,759.7 L139.6,759.7 L138.9,759.1 L138.3,759.1 L137.7,759.1 L137.0,759.7 L136.4,759.7 L135.8,759.7 L135.1,759.7 L134.5,761.3 L133.9,761.3 L133.2,759.1 L132.6,759.1 L131.9,759.1 L131.3,759.1 L130.7,757.9 L130.0,757.9 L129.4,757.9 L128.8,757.9 L128.1,757.9 L127.5,757.9 L126.9,759.7 L126.2,759.7 L125.6,757.9 L125.0,757.9 L124.3,760.3 L123.7,760.3 L123.1,760.3 L122.4,760.3 L121.8,760.3 L121.2,760.3 L120.5,760.3 L119.9,760.3 L119.2,760.3 L118.6,759.1 L118.0,759.1 L117.3,759.1 L116.7,760.3 L116.1,760.3 L115.4,759.1 L114.8,759.1 L114.2,759.1 L113.5,759.1 L112.9,759.1 L112.3,760.3 L111.6,760.3 L111.0,760.3 L110.4,760.3 L109.7,760.3 L109.1,759.1 L108.5,759.1 L107.8,759.1 L107.2,759.7 L106.5,759.7 L105.9,759.7 L105.3,760.3 L104.6,760.3 L104.0,760.3 L103.4,760.3 L102.7,760.3 L102.1,758.5 L101.5,758.5 L100.8,758.5 L100.2,758.5 L99.6,758.5 L98.9,758.5 L98.3,759.7 L97.7,759.7 L97.0,760.3 L96.4,760.3 L95.8,760.3 L95.1,760.3 L94.5,760.3 L93.8,760.3 L93.2,757.9 L92.6,757.9 L91.9,757.9 L91.3,757.9 L90.7,757.9 L90.0,759.1 L89.4,759.1 L88.8,759.1 L88.1,759.1 L87.5,759.1Z" fill="#000" stroke="none"/>
<path d="M87.5,749.4 L88.1,749.4 L88.8,749.4 L89.4,749.4 L90.0,749.4 L90.7,749.4 L91.3,749.4 L91.9,749.4 L92.6,749.4 L93.2,749.4 L93.8,749.4 L94.5,749.4 L95.1,749.4 L95.8,749.4 L96.4,749.4 L97.0,749.4 L97.7,749.4 L98.3,749.4 L98.9,749.4 L99.6,749.4 L100.2,749.4 L100.8,749.4 L101.5,749.4 L102.1,749.4 L102.7,749.4 L103.4,749.4 L104.0,749.4 L104.6,749.4 L105.3,749.4 L105.9,749.4 L106.5,749.4 L107.2,749.4 L107.8,749.4 L108.5,749.4 L109.1,749.4 L109.7,749.4 L110.4,749.4 L111.0,749.4 L111.6,749.4 L112.3,749.4 L112.9,749.4 L113.5,749.4 L114.2,749.4 L114.8,749.4 L115.4,749.4 L116.1,749.4 L116.7,749.4 L117.3,749.4 L118.0,749.4 L118.6,749.4 L119.2,749.4 L119.9,749.4 L120.5,749.4 L121.2,749.4 L121.8,749.4 L122.4,749.4 L123.1,749.4 L123.7,749.4 L124.3,749.4 L125.0,749.4 L125.6,749.4 L126.2,749.4 L126.9,749.4 L127.5,749.4 L128.1,749.4 L128.8,749.4 L129.4,749.4 L130.0,749.4 L130.7,749.4 L131.3,749.4 L131.9,749.4 L132.6,749.4 L133.2,749.4 L133.9,749.4 L134.5,749.4 L135.1,749.4 L135.8,749.4 L136.4,749.4 L137.0,749.4 L137.7,749.4 L138.3,749.4 L138.9,749.4 L139.6,749.4 L140.2,749.4 L140.8,749.4 L141.5,749.4 L142.1,749.4 L142.7,749.4 L143.4,749.4 L144.0,749.4 L144.7,749.4 L145.3,749.4 L145.9,749.4 L146.6,749.4 L147.2,749.4 L147.8,749.4 L148.5,749.4 L149.1,749.4 L149.7,749.4 L150.4,749.4 L151.0,749.4 L151.6,749.4 L152.3,749.4 L152.9,749.4 L153.5,749.4 L154.2,749.4 L154.8,749.4 L155.4,749.4 L156.1,749.4 L156.7,749.4 L157.3,749.4 L158.0,749.4 L158.6,749.4 L159.3,749.4 L159.9,749.4 L160.5,749.4 L161.2,749.4 L161.8,749.4 L162.4,749.4 L163.1,749.4 L163.7,749.4 L164.3,749.4 L165.0,749.4 L165.6,749.4 L166.2,749.4 L166.9,749.4 L167.5,749.4 L168.1,749.4 L168.8,749.4 L169.4,749.4 L170.1,749.4 L170.7,749.4 L171.3,749.4 L172.0,749.4 L172.6,749.4 L173.2,749.4 L173.9,749.4 L174.5,749.4 L175.1,749.4 L175.8,749.4 L176.4,749.4 L177.0,749.4 L177.7,749.4 L178.3,749.4 L178.9,749.4 L179.6,749.4 L180.2,749.4 L180.8,749.4 L181.5,749.4 L182.1,749.4 L182.8,749.4 L183.4,749.4 L184.0,749.4 L184.7,749.4 L185.3,749.4 L185.9,749.4 L186.6,749.4 L187.2,749.4 L187.8,749.4 L188.5,749.4 L189.1,749.4 L189.7,749.4 L190.4,749.4 L191.0,749.4 L191.6,749.4 L192.3,749.4 L192.9,749.4 L193.5,749.4 L194.2,749.4 L194.8,749.4 L195.4,749.4 L196.1,747.3 L196.7,742.6 L197.4,737.8 L198.0,733.0 L198.6,728.3 L199.3,723.5 L199.9,718.7 L200.5,714.0 L201.2,709.2 L201.8,706.7 L202.4,706.7 L203.1,706.7 L203.7,706.7 L204.3,706.7 L205.0,706.7 L205.6,706.7 L206.2,706.7 L206.9,706.7 L207.5,706.9 L208.2,707.9 L208.8,708.8 L209.4,709.7 L210.1,710.6 L210.7,711.5 L211.3,712.4 L212.0,713.2 L212.6,714.0 L213.2,714.8 L213.9,715.6 L214.5,716.3 L215.1,717.1 L215.8,717.8 L216.4,718.5 L217.0,719.2 L217.7,719.8 L218.3,720.5 L218.9,721.1 L219.6,721.8 L220.2,722.4 L220.8,723.0 L221.5,723.5 L222.1,724.1 L222.8,724.7 L223.4,725.2 L224.0,725.7 L224.7,726.2 L225.3,726.7 L225.9,727.2 L226.6,727.7 L227.2,728.2 L227.8,728.6 L228.5,729.1 L229.1,729.5 L229.7,729.9 L230.4,730.4 L231.0,730.8 L231.6,731.2 L232.3,731.5 L232.9,731.9 L233.6,732.3 L234.2,732.7 L234.8,733.0 L235.5,733.3 L236.1,733.7 L236.7,734.0 L237.4,734.3 L238.0,734.6 L238.6,734.9 L239.3,735.2 L239.9,735.5 L240.5,735.8 L241.2,736.1 L241.8,736.4 L242.4,736.6 L243.1,736.9 L243.7,737.1 L244.3,737.4 L245.0,737.6 L245.6,737.9 L246.2,738.1 L246.9,738.3 L247.5,738.5 L248.2,738.7 L248.8,739.0 L249.4,739.2 L250.1,739.4 L250.7,739.6 L251.3,739.7 L252.0,739.9 L252.6,740.1 L253.2,740.3 L253.9,740.5 L254.5,740.6 L255.1,740.8 L255.8,741.0 L256.4,741.1 L257.0,741.3 L257.7,741.4 L258.3,741.6 L259.0,741.7 L259.6,741.8 L260.2,742.0 L260.9,742.1 L261.5,742.2 L262.1,742.4 L262.8,742.5 L263.4,742.6 L264.0,742.7 L264.7,742.8 L265.3,743.0 L265.9,743.1 L266.6,743.2 L267.2,743.3 L267.8,743.4 L268.5,743.5 L269.1,743.6 L269.7,743.7 L270.4,743.8 L271.0,743.9 L271.6,744.0 L272.3,744.0 L272.9,744.1 L273.6,744.2 L274.2,744.3 L274.8,744.4 L275.5,744.5 L276.1,744.5 L276.7,744.6 L277.4,744.7 L278.0,744.7 L278.6,744.8 L279.3,744.9 L279.9,745.0 L280.5,745.0 L281.2,745.1 L281.8,745.1 L282.4,745.2 L283.1,745.3 L283.7,745.3 L284.4,745.4 L285.0,745.4 L285.6,745.5 L286.3,745.5 L286.9,745.6 L287.5,745.6 L288.2,745.7 L288.8,745.7 L289.4,745.8 L290.1,745.8 L290.7,745.9 L291.3,745.9 L292.0,746.0 L292.6,746.0 L293.2,746.0 L293.9,746.1 L294.5,746.1 L295.1,746.2 L295.8,746.2 L296.4,746.2 L297.1,746.3 L297.7,746.3 L298.3,746.3 L299.0,746.4 L299.6,746.4 L300.2,746.4 L300.9,746.5 L301.5,746.5 L302.1,746.5 L302.8,746.6 L303.4,746.6 L304.0,746.6 L304.7,746.7 L305.3,746.7 L305.9,746.7 L306.6,746.7 L307.2,746.8 L307.8,746.8 L308.5,746.8 L309.1,746.8 L309.8,746.9 L310.4,746.9 L311.0,746.9 L311.7,746.9 L312.3,746.9 L312.9,747.0 L313.6,747.0 L314.2,747.0 L314.8,747.0 L315.5,747.0 L316.1,747.1 L316.7,747.1 L317.4,747.1 L318.0,747.1 L318.6,747.1 L319.3,747.2 L319.9,747.2 L320.5,747.2 L321.2,747.2 L321.8,747.2 L322.4,747.2 L323.1,747.3 L323.7,747.3 L324.4,747.3 L325.0,747.3 L325.6,747.3 L326.3,747.3 L326.9,747.3 L327.5,747.4 L328.2,747.4 L328.8,747.4 L329.4,747.4 L330.1,747.4 L330.7,747.4 L331.3,747.4 L332.0,747.4 L332.6,747.5 L333.2,747.5 L333.9,747.5 L334.5,747.5 L335.1,747.5 L335.8,747.5 L336.4,747.5 L337.1,747.5 L337.7,747.5 L338.3,747.6 L339.0,747.6 L339.6,747.6 L340.2,747.6 L340.9,747.6 L341.5,747.6 L342.1,747.6 L342.8,747.6 L343.4,747.6 L344.0,747.6 L344.7,747.6 L345.3,747.7 L345.9,747.7 L346.6,747.7 L347.2,747.7 L347.8,747.7 L348.5,747.7 L349.1,747.7 L349.8,747.7 L350.4,747.7 L351.0,747.7 L351.7,747.7 L352.3,747.7 L352.9,747.7 L353.6,747.7 L354.2,747.8 L354.8,747.8 L355.5,747.8 L356.1,747.8 L356.7,747.8 L357.4,747.8 L358.0,747.8 L358.6,747.8 L359.3,747.8 L359.9,747.8 L360.6,747.8 L361.2,747.8 L361.8,747.8 L362.5,747.8 L363.1,747.8 L363.7,747.9 L364.4,747.9 L365.0,747.9 L365.6,747.9 L366.3,747.9 L366.9,747.9 L367.5,747.9 L368.2,747.9 L368.8,747.9 L369.4,747.9 L370.1,747.9 L370.7,747.9 L371.3,747.9 L372.0,747.9 L372.6,747.9 L373.2,747.9 L373.9,747.9 L374.5,747.9 L375.2,747.9 L375.8,747.9 L376.4,748.0 L377.1,748.0 L377.7,748.0 L378.3,748.0 L379.0,748.0 L379.6,748.0 L380.2,748.0 L380.9,748.0 L381.5,748.0 L382.1,748.0 L382.8,748.0 L383.4,748.0 L384.0,748.0 L384.7,748.0 L385.3,748.0 L385.9,748.0 L386.6,748.0 L387.2,748.0 L387.9,748.0 L388.5,748.0 L389.1,748.0 L389.8,748.0 L390.4,748.0 L391.0,748.1 L391.7,748.1 L392.3,748.1 L392.9,748.1 L393.6,748.1 L394.2,748.1 L394.8,748.1 L395.5,748.1 L396.1,748.1 L396.7,748.1 L397.4,748.1 L398.0,748.1 L398.6,748.1 L399.3,748.1 L399.9,748.1 L400.6,748.1 L401.2,748.1 L401.8,748.1 L402.5,748.1 L403.1,748.1 L403.7,748.1 L404.4,748.1 L405.0,748.1 L405.6,748.1 L406.3,748.1 L406.9,748.1 L407.5,748.2 L408.2,748.2 L408.8,748.2 L409.4,748.2 L410.1,748.2 L410.7,748.2 L411.4,748.2 L412.0,748.2 L412.6,748.2 L413.3,748.2 L413.9,748.2 L414.5,748.2 L415.2,748.2 L415.8,748.2 L416.4,748.2 L417.1,748.2 L417.7,748.2 L418.3,748.2 L419.0,748.2 L419.6,748.2 L420.2,748.2 L420.9,748.2 L421.5,748.2 L422.1,748.2 L422.8,748.2 L423.4,748.2 L424.1,748.2 L424.7,748.2 L425.3,748.2 L426.0,748.3 L426.6,748.3 L427.2,748.3 L427.9,748.3 L428.5,748.3 L429.1,748.3 L429.8,748.3 L430.4,748.3 L431.0,748.3 L431.7,748.3 L432.3,748.3 L432.9,748.3 L433.6,748.3 L434.2,748.3 L434.8,748.3 L435.5,748.3 L436.1,748.3 L436.8,748.3 L437.4,748.3 L438.0,748.3 L438.7,748.3 L439.3,748.3 L439.9,748.3 L440.6,748.3 L441.2,748.3 L441.8,748.3 L442.5,748.3 L443.1,748.3 L443.7,748.3 L444.4,748.3 L445.0,748.4 L445.6,748.4 L446.3,748.4 L446.9,748.4 L447.5,748.4 L448.2,748.4 L448.8,748.4 L449.4,748.4 L450.1,748.4 L450.7,748.4 L451.4,748.4 L452.0,748.4 L452.6,748.4 L453.3,748.4 L453.9,748.4 L454.5,748.4 L455.2,748.4 L455.8,748.4 L456.4,748.4 L457.1,748.4 L457.7,748.4 L458.3,748.4 L459.0,748.4 L459.6,748.4 L460.2,748.4 L460.9,748.4 L461.5,748.4 L462.1,748.4 L462.8,748.4 L463.4,748.4 L464.1,748.4 L464.7,748.4 L465.3,748.5 L466.0,748.5 L466.6,748.5 L467.2,748.5 L467.9,748.5 L468.5,748.5 L469.1,748.5 L469.8,748.5 L470.4,748.5 L471.0,748.5 L471.7,748.5 L472.3,748.5 L472.9,748.5 L473.6,748.5 L474.2,748.5 L474.8,748.5 L475.5,748.5 L476.1,748.5 L476.8,748.5 L477.4,748.5 L478.0,748.5 L478.7,748.5 L479.3,748.5 L479.9,748.5 L480.6,748.5 L481.2,748.5 L481.8,748.5 L482.5,748.5 L483.1,748.5 L483.7,748.5 L484.4,748.5 L485.0,748.5 L485.6,748.6 L486.3,748.6 L486.9,748.6 L487.6,748.6 L488.2,748.6 L488.8,748.6 L489.5,748.6 L490.1,748.6 L490.7,748.6 L491.4,748.6 L492.0,748.6 L492.6,748.6 L493.3,748.6 L493.9,748.6 L494.5,748.6 L495.2,748.6 L495.8,748.6 L496.4,748.6 L497.1,748.6 L497.7,748.6 L498.3,748.6 L499.0,748.6 L499.6,748.6 L500.2,748.6 L500.9,748.6 L501.5,748.6 L502.2,748.6 L502.8,748.6 L503.4,748.6 L504.1,748.6 L504.7,748.6 L505.3,748.6 L506.0,748.7 L506.6,748.7 L507.2,748.7 L507.9,748.7 L508.5,748.7 L509.1,748.7 L509.8,748.7 L510.4,748.7 L511.0,748.7 L511.7,748.7 L512.3,748.7 L513.0,748.7 L513.6,748.7 L514.2,748.7 L514.9,748.7 L515.5,748.7 L516.1,748.7 L516.8,748.7 L517.4,748.7 L518.0,748.7 L518.7,748.7 L519.3,748.7 L519.9,748.7 L520.6,748.7 L521.2,748.7 L521.8,748.7 L522.5,748.7 L523.1,748.7 L523.7,748.7 L524.4,748.7 L525.0,748.7 L525.6,748.7 L526.3,748.7 L526.9,748.7 L527.6,748.7 L528.2,748.7 L528.8,748.7 L529.5,748.7 L530.1,748.7 L530.7,748.7 L531.4,748.7 L532.0,748.7 L532.6,748.7 L533.3,748.7 L533.9,748.7 L534.5,748.7 L535.2,748.7 L535.8,748.7 L536.4,748.7 L537.1,748.7 L537.7,748.7 L538.3,748.7 L539.0,748.7 L539.6,748.7 L540.3,748.7 L540.9,748.7 L541.5,748.7 L542.2,748.7 L542.8,748.7 L543.4,748.7 L544.1,748.7 L544.7,748.7 L545.3,748.7 L546.0,748.7 L546.6,748.7 L547.2,748.7 L547.9,748.7 L548.5,748.7 L549.1,748.7 L549.8,748.7 L550.4,748.7 L551.0,748.7 L551.7,748.7 L552.3,748.7 L553.0,748.7 L553.6,748.7 L554.2,748.7 L554.9,748.7 L555.5,748.7 L556.1,748.7 L556.8,748.7 L557.4,748.7 L558.0,748.7 L558.7,748.7 L559.3,748.7 L559.9,748.7 L560.6,748.7 L561.2,748.7 L561.8,748.7 L562.5,748.7 L563.1,748.7 L563.8,748.7 L564.4,748.7 L565.0,748.7 L565.7,748.7 L566.3,748.7 L566.9,748.7 L567.6,748.7 L568.2,748.7 L568.8,748.7 L569.5,748.7 L570.1,748.7 L570.7,748.7 L571.4,748.7 L572.0,748.7 L572.6,748.7 L573.3,748.7 L573.9,748.7 L574.5,748.7 L575.2,748.7 L575.8,748.7 L576.5,748.7 L577.1,748.7 L577.7,748.7 L578.4,748.7 L579.0,748.7 L579.6,748.7 L580.3,748.7 L580.9,748.7 L581.5,748.7 L582.2,748.7 L582.8,748.7 L583.4,748.7 L584.1,748.7 L584.7,748.7 L585.3,748.7 L586.0,748.7 L586.6,748.7 L587.2,748.7 L587.9,748.7 L588.5,748.7 L589.2,748.7 L589.8,748.7 L590.4,748.7 L591.1,748.7 L591.7,748.7 L592.3,748.7 L593.0,748.7 L593.6,748.7 L594.2,748.7 L594.9,748.7 L595.5,748.7" stroke-width="4.6"/><path d="M87.5,744.8 L88.1,744.8 L88.8,744.8 L89.4,744.8 L90.0,744.8 L90.7,745.4 L91.3,745.4 L91.9,745.4 L92.6,745.4 L93.2,745.4 L93.8,745.4 L94.5,743.0 L95.1,743.0 L95.8,743.0 L96.4,743.0 L97.0,743.0 L97.7,743.0 L98.3,743.0 L98.9,743.0 L99.6,743.0 L100.2,743.0 L100.8,743.0 L101.5,745.4 L102.1,745.4 L102.7,745.4 L103.4,745.4 L104.0,745.4 L104.6,745.4 L105.3,743.0 L105.9,743.0 L106.5,743.0 L107.2,743.0 L107.8,743.0 L108.5,744.8 L109.1,744.8 L109.7,744.8 L110.4,744.8 L111.0,743.0 L111.6,743.0 L112.3,743.0 L112.9,743.0 L113.5,743.0 L114.2,743.0 L114.8,744.8 L115.4,744.8 L116.1,744.8 L116.7,743.0 L117.3,743.0 L118.0,743.0 L118.6,743.0 L119.2,744.2 L119.9,744.2 L120.5,744.2 L121.2,744.2 L121.8,744.2 L122.4,743.0 L123.1,743.0 L123.7,744.2 L124.3,744.2 L125.0,744.2 L125.6,744.2 L126.2,743.0 L126.9,743.0 L127.5,743.0 L128.1,743.0 L128.8,745.4 L129.4,745.4 L130.0,745.4 L130.7,745.4 L131.3,743.0 L131.9,743.0 L132.6,744.2 L133.2,744.2 L133.9,744.2 L134.5,744.2 L135.1,744.2 L135.8,743.0 L136.4,743.0 L137.0,743.0 L137.7,743.0 L138.3,743.6 L138.9,743.6 L139.6,743.6 L140.2,743.6 L140.8,744.8 L141.5,744.8 L142.1,744.8 L142.7,743.0 L143.4,743.0 L144.0,743.0 L144.7,743.0 L145.3,743.0 L145.9,745.4 L146.6,745.4 L147.2,745.4 L147.8,745.4 L148.5,743.6 L149.1,743.6 L149.7,743.6 L150.4,743.6 L151.0,743.6 L151.6,743.6 L152.3,743.6 L152.9,743.6 L153.5,743.0 L154.2,743.0 L154.8,743.0 L155.4,744.2 L156.1,744.2 L156.7,744.2 L157.3,744.2 L158.0,743.6 L158.6,743.6 L159.3,743.6 L159.9,743.6 L160.5,743.6 L161.2,743.6 L161.8,743.6 L162.4,744.8 L163.1,744.8 L163.7,744.8 L164.3,744.8 L165.0,744.8 L165.6,743.0 L166.2,743.0 L166.9,743.0 L167.5,743.0 L168.1,745.4 L168.8,745.4 L169.4,745.4 L170.1,745.4 L170.7,743.6 L171.3,743.6 L172.0,743.6 L172.6,744.8 L173.2,744.8 L173.9,744.8 L174.5,744.8 L175.1,744.8 L175.8,743.6 L176.4,743.6 L177.0,743.0 L177.7,743.0 L178.3,744.8 L178.9,744.8 L179.6,744.8 L180.2,744.8 L180.8,744.8 L181.5,744.8 L182.1,744.8 L182.8,743.0 L183.4,743.0 L184.0,743.6 L184.7,743.6 L185.3,743.6 L185.9,743.6 L186.6,745.4 L187.2,745.4 L187.8,745.4 L188.5,745.4 L189.1,745.4 L189.7,745.4 L190.4,745.4 L191.0,745.4 L191.6,745.4 L192.3,745.4 L192.9,743.6 L193.5,743.6 L194.2,746.4 L192.9,747.1 L192.7,748.4 L193.2,746.7 L193.8,742.1 L194.4,737.4 L195.0,732.6 L195.7,727.9 L196.3,723.1 L197.2,718.4 L197.8,713.6 L198.5,708.6 L197.7,705.3 L199.3,703.6 L203.1,702.2 L203.7,703.4 L204.3,703.3 L205.0,703.3 L205.6,703.2 L206.7,701.3 L209.1,701.8 L209.5,704.5 L210.6,705.8 L211.5,707.0 L212.1,707.8 L212.8,708.7 L213.4,709.5 L214.1,710.3 L214.8,711.0 L215.4,711.8 L216.1,712.5 L220.3,710.2 L220.9,710.9 L219.4,713.3 L220.0,714.0 L220.7,714.6 L221.3,715.2 L221.9,715.8 L222.4,716.4 L223.0,717.0 L223.6,717.6 L224.2,718.1 L224.8,718.7 L225.4,719.2 L226.0,719.8 L226.5,720.3 L227.1,720.8 L227.7,721.2 L228.3,721.7 L228.9,722.2 L228.7,723.6 L229.3,724.0 L229.9,724.5 L230.5,724.9 L231.1,725.3 L231.7,725.7 L232.3,726.1 L232.9,726.5 L233.5,726.9 L234.1,727.2 L234.3,728.1 L234.9,728.5 L235.5,728.8 L236.4,728.6 L237.0,729.0 L237.9,728.8 L238.5,729.1 L239.6,728.3 L240.2,728.6 L239.7,731.0 L240.3,731.3 L240.9,731.6 L241.5,731.9 L242.2,732.2 L243.7,730.2 L244.3,730.5 L244.9,730.7 L245.5,731.0 L245.4,732.9 L246.0,733.1 L246.6,733.3 L247.8,731.9 L248.4,732.1 L249.0,732.3 L249.6,732.5 L250.2,732.7 L250.4,734.0 L251.0,734.2 L251.6,734.4 L252.2,734.6 L252.8,734.8 L253.4,734.9 L254.2,734.5 L254.8,734.7 L255.4,734.9 L256.0,735.0 L256.6,735.2 L257.2,735.3 L258.5,732.8 L259.0,732.9 L259.6,733.0 L260.2,733.2 L260.8,733.3 L261.4,733.4 L261.3,736.9 L261.9,737.0 L262.5,737.1 L263.1,737.3 L263.7,737.4 L264.1,738.7 L264.8,738.8 L265.4,738.9 L266.0,739.0 L266.6,739.1 L267.2,739.2 L268.4,736.0 L269.0,736.1 L269.6,736.2 L269.7,739.6 L270.3,739.7 L271.0,739.8 L271.6,739.9 L272.2,740.0 L272.8,740.1 L273.5,739.6 L274.1,739.7 L275.0,737.9 L275.6,738.0 L276.2,738.1 L276.8,738.2 L277.5,738.2 L278.0,739.5 L278.6,739.6 L279.3,738.5 L279.9,738.5 L280.6,738.6 L281.2,738.6 L281.6,741.1 L282.2,741.2 L282.9,740.0 L283.6,740.1 L284.1,741.3 L284.7,741.4 L285.3,741.4 L286.0,741.5 L286.6,741.6 L287.2,741.6 L287.8,741.7 L288.5,741.7 L289.1,741.7 L289.7,741.8 L290.4,741.8 L291.0,741.9 L291.8,739.5 L292.4,739.6 L293.0,739.6 L293.7,739.7 L294.3,739.7 L294.9,739.7 L295.5,739.8 L296.2,739.8 L296.8,739.9 L297.4,739.9 L298.0,741.1 L298.6,741.2 L299.2,741.2 L299.9,741.2 L300.5,741.3 L301.1,741.3 L301.7,741.3 L302.4,741.3 L303.0,741.4 L303.6,741.4 L304.3,740.2 L304.9,740.3 L305.6,740.3 L306.2,740.3 L306.8,741.5 L307.4,741.6 L308.0,741.6 L308.7,740.4 L309.4,740.4 L310.0,740.5 L310.6,740.5 L311.2,740.5 L311.9,740.5 L312.5,740.5 L313.1,740.6 L313.8,740.6 L314.4,740.6 L315.0,740.6 L315.7,740.7 L316.2,743.1 L316.9,743.1 L317.5,743.1 L318.1,743.1 L318.8,743.1 L319.4,742.0 L320.0,742.0 L320.7,742.0 L321.3,742.0 L321.9,742.0 L322.6,742.0 L323.2,741.5 L323.9,741.5 L324.5,741.5 L325.1,741.5 L325.8,741.5 L326.4,741.5 L327.0,742.7 L327.6,742.8 L328.3,742.8 L328.9,742.8 L329.5,742.8 L330.2,742.2 L330.8,742.2 L331.4,742.2 L332.1,742.2 L332.7,742.3 L333.3,742.3 L334.0,742.3 L334.6,742.3 L335.2,743.5 L335.9,743.5 L336.5,743.5 L337.1,743.5 L337.8,743.5 L338.4,743.6 L339.0,742.4 L339.7,742.4 L340.3,742.4 L340.9,742.4 L341.6,742.4 L342.2,743.0 L342.8,743.0 L343.5,743.0 L344.1,743.0 L344.7,743.0 L345.4,743.1 L346.0,742.5 L346.6,742.5 L347.3,742.5 L347.9,742.5 L348.5,742.5 L349.2,742.5 L349.8,741.3 L350.5,741.3 L351.1,741.3 L351.7,741.3 L352.4,741.3 L353.0,741.3 L353.6,742.6 L354.3,742.6 L354.9,742.6 L355.5,743.8 L356.1,743.8 L356.8,743.8 L357.4,743.8 L358.0,743.8 L358.7,742.0 L359.3,742.0 L360.0,742.0 L360.6,742.0 L361.2,742.0 L361.9,742.0 L362.5,743.8 L363.1,743.8 L363.8,743.9 L364.4,743.9 L365.1,741.5 L365.7,741.5 L366.3,741.5 L367.0,741.5 L367.6,741.5 L368.2,741.5 L368.8,743.3 L369.5,743.3 L370.1,743.3 L370.7,743.9 L371.4,743.9 L372.0,743.9 L372.6,743.9 L373.3,743.3 L373.9,743.3 L374.6,743.3 L375.2,743.3 L375.8,743.3 L376.5,744.0 L377.1,744.0 L377.7,744.0 L378.4,740.0 L379.0,740.0 L379.7,740.0 L380.3,740.0 L380.9,740.0 L381.5,742.2 L382.2,742.2 L382.8,742.2 L383.4,742.2 L384.1,742.2 L384.7,742.2 L385.3,743.4 L386.0,743.4 L386.6,743.4 L387.3,743.4 L387.9,743.4 L388.5,743.4 L389.2,743.4 L389.8,743.4 L390.4,743.4 L391.1,743.5 L391.7,743.5 L392.3,743.5 L393.0,741.7 L393.6,741.7 L394.2,741.7 L394.9,741.7 L395.5,742.9 L396.1,742.9 L396.8,742.9 L397.4,742.9 L398.1,739.5 L398.7,739.5 L399.3,739.5 L400.0,742.3 L400.6,742.3 L401.2,743.5 L401.9,743.5 L402.5,743.5 L403.1,741.7 L403.8,741.7 L404.4,741.7 L405.0,741.7 L405.7,741.7 L406.3,741.7 L406.9,744.1 L407.6,744.2 L408.2,743.0 L408.8,743.0 L409.5,743.0 L410.1,743.0 L410.7,743.6 L411.4,743.6 L412.0,743.6 L412.6,743.6 L413.3,742.0 L413.9,742.0 L414.6,742.0 L415.2,742.0 L415.8,742.0 L416.5,742.0 L417.1,744.2 L417.7,744.2 L418.4,742.4 L419.0,742.4 L419.6,743.6 L420.3,743.6 L420.9,743.0 L421.5,743.0 L422.2,743.0 L422.8,743.0 L423.4,743.0 L424.1,743.0 L424.7,741.8 L425.4,741.8 L426.0,741.9 L426.6,744.3 L427.2,744.3 L427.9,743.7 L428.5,743.7 L429.2,743.7 L429.8,743.1 L430.4,743.1 L431.1,743.1 L431.7,743.1 L432.3,743.7 L433.0,743.7 L433.6,741.9 L434.2,741.9 L434.9,741.9 L435.5,741.9 L436.1,741.9 L436.8,741.9 L437.4,741.9 L438.1,741.9 L438.7,741.9 L439.3,741.9 L439.9,743.7 L440.6,743.7 L441.2,743.7 L441.9,743.7 L442.5,743.7 L443.1,739.7 L443.8,739.7 L444.4,739.7 L445.0,739.8 L445.7,739.8 L446.3,739.8 L446.9,742.0 L447.6,742.0 L448.2,742.0 L448.8,742.0 L449.5,742.0 L450.1,742.0 L450.7,743.2 L451.4,743.2 L452.0,743.2 L452.7,742.0 L453.3,742.0 L453.9,742.0 L454.6,742.0 L455.2,743.2 L455.8,743.2 L456.5,743.2 L457.1,744.4 L457.7,744.4 L458.4,744.4 L459.0,744.4 L459.6,744.4 L460.3,744.4 L460.9,744.4 L461.5,744.4 L462.2,742.6 L462.8,742.6 L463.4,742.6 L464.1,742.6 L464.7,742.6 L465.3,744.5 L466.0,744.5 L466.6,744.5 L467.2,744.5 L467.9,744.5 L468.5,744.5 L469.2,744.5 L469.8,742.7 L470.4,742.7 L471.1,743.3 L471.7,743.3 L472.3,743.3 L473.0,742.7 L473.6,742.7 L474.2,742.7 L474.9,742.7 L475.5,742.7 L476.2,742.1 L476.8,742.1 L477.4,742.1 L478.1,742.1 L478.7,742.1 L479.3,742.1 L480.0,742.1 L480.6,743.9 L481.2,743.9 L481.9,743.9 L482.5,743.9 L483.1,742.7 L483.8,742.7 L484.4,743.3 L485.0,743.3 L485.7,743.4 L486.3,743.4 L486.9,743.4 L487.6,743.4 L488.2,742.2 L488.9,742.2 L489.5,742.2 L490.1,740.0 L490.8,740.0 L491.4,740.0 L492.0,742.2 L492.7,742.2 L493.3,742.2 L493.9,742.2 L494.6,742.2 L495.2,742.2 L495.8,742.2 L496.5,742.2 L497.1,742.2 L497.7,742.2 L498.4,742.2 L499.0,744.0 L499.6,744.0 L500.3,744.0 L500.9,744.0 L501.6,742.2 L502.2,742.2 L502.8,742.2 L503.5,742.2 L504.1,742.2 L504.7,742.2 L505.4,742.2 L506.0,742.3 L506.6,742.3 L507.3,742.3 L507.9,742.3 L508.5,742.3 L509.2,742.3 L509.8,742.3 L510.4,742.3 L511.1,742.9 L511.7,742.9 L512.3,742.9 L513.0,742.9 L513.6,742.9 L514.2,742.9 L514.9,743.5 L515.5,743.5 L516.1,743.5 L516.8,743.5 L517.4,743.5 L518.0,744.7 L518.7,744.7 L519.3,744.7 L519.9,744.7 L520.6,744.7 L521.2,744.7 L521.8,744.1 L522.5,744.1 L523.1,744.1 L523.7,744.7 L524.4,744.7 L525.0,744.7 L525.7,744.7 L526.3,742.3 L526.9,742.3 L527.6,742.3 L528.2,742.3 L528.8,742.3 L529.5,742.3 L530.1,742.3 L530.7,742.3 L531.4,742.3 L532.0,742.3 L532.6,742.3 L533.3,744.7 L533.9,744.7 L534.5,744.7 L535.2,744.7 L535.8,744.7 L536.4,742.3 L537.1,742.3 L537.7,742.3 L538.4,742.3 L539.0,742.3 L539.6,742.3 L540.3,742.3 L540.9,742.3 L541.5,742.3 L542.2,742.3 L542.8,742.3 L543.4,742.3 L544.1,742.3 L544.7,742.3 L545.3,742.3 L546.0,742.3 L546.6,742.9 L547.2,742.9 L547.9,742.9 L548.5,742.9 L549.1,744.1 L549.8,744.1 L550.4,744.1 L551.1,744.1 L551.7,744.1 L552.3,744.7 L553.0,744.7 L553.6,741.3 L554.2,741.3 L554.9,741.3 L555.5,741.3 L556.1,741.3 L556.8,741.3 L557.4,744.7 L558.0,744.7 L558.7,744.7 L559.3,744.1 L559.9,744.1 L560.6,744.1 L561.2,744.1 L561.8,741.3 L562.5,741.3 L563.1,741.3 L563.8,741.3 L564.4,741.3 L565.0,742.3 L565.7,742.3 L566.3,742.3 L566.9,742.3 L567.6,744.1 L568.2,744.1 L568.8,744.1 L569.5,744.1 L570.1,744.1 L570.7,744.1 L571.4,744.1 L572.0,744.1 L572.6,744.1 L573.3,744.1 L573.9,744.1 L574.5,744.1 L575.2,744.1 L575.8,744.1 L576.5,743.5 L577.1,743.5 L577.7,744.1 L578.4,744.1 L579.0,744.1 L579.6,744.1 L580.3,742.3 L580.9,742.3 L581.5,742.3 L582.2,742.3 L582.8,742.3 L583.4,744.7 L584.1,744.7 L584.7,744.7 L585.3,744.7 L586.0,744.7 L586.6,744.7 L587.2,744.7 L587.9,744.7 L588.5,744.7 L589.2,744.7 L589.8,744.7 L590.4,744.7 L591.1,742.3 L591.7,742.3 L592.3,742.3 L593.0,742.3 L593.6,742.3 L594.2,742.3 L594.9,743.5 L595.5,743.5 L595.5,754.5 L594.9,753.3 L594.2,753.3 L593.6,753.3 L593.0,753.3 L592.3,753.3 L591.7,755.5 L591.1,755.5 L590.4,755.5 L589.8,753.3 L589.1,753.3 L588.5,753.3 L587.9,753.3 L587.2,753.3 L586.6,752.7 L586.0,752.7 L585.3,752.7 L584.7,752.7 L584.1,752.7 L583.4,752.7 L582.8,755.1 L582.2,755.1 L581.5,755.1 L580.9,755.1 L580.3,755.1 L579.6,755.1 L579.0,754.5 L578.4,754.5 L577.7,754.5 L577.1,754.5 L576.4,755.1 L575.8,755.1 L575.2,755.1 L574.5,755.1 L573.9,755.1 L573.3,755.1 L572.6,755.1 L572.0,755.1 L571.4,755.1 L570.7,755.1 L570.1,755.1 L569.5,753.9 L568.8,753.9 L568.2,753.9 L567.6,755.1 L566.9,755.1 L566.3,755.1 L565.7,755.1 L565.0,755.1 L564.4,753.9 L563.7,753.9 L563.1,753.9 L562.5,755.1 L561.8,755.1 L561.2,755.1 L560.6,755.1 L559.9,755.1 L559.3,755.1 L558.7,754.5 L558.0,754.5 L557.4,754.5 L556.8,754.5 L556.1,754.5 L555.5,754.5 L554.9,755.1 L554.2,755.1 L553.6,755.1 L553.0,755.1 L552.3,755.1 L551.7,755.1 L551.0,755.1 L550.4,755.1 L549.8,755.1 L549.1,753.3 L548.5,753.3 L547.9,753.3 L547.2,755.1 L546.6,755.1 L546.0,753.9 L545.3,753.9 L544.7,753.9 L544.1,753.9 L543.4,754.5 L542.8,754.5 L542.2,754.5 L541.5,754.5 L540.9,753.3 L540.3,753.3 L539.6,753.3 L539.0,754.5 L538.3,754.5 L537.7,753.3 L537.1,753.3 L536.4,753.3 L535.8,753.3 L535.2,753.3 L534.5,753.9 L533.9,753.9 L533.3,752.7 L532.6,752.7 L532.0,752.7 L531.4,752.7 L530.7,752.7 L530.1,752.7 L529.5,752.7 L528.8,755.1 L528.2,755.1 L527.6,753.9 L526.9,753.9 L526.3,753.9 L525.6,753.9 L525.0,753.9 L524.4,755.1 L523.7,755.1 L523.1,755.1 L522.5,753.3 L521.8,753.3 L521.2,753.3 L520.6,753.3 L519.9,753.3 L519.3,753.3 L518.7,755.1 L518.0,755.1 L517.4,755.1 L516.8,755.1 L516.1,755.1 L515.5,755.1 L514.9,755.1 L514.2,753.3 L513.6,753.3 L512.9,753.3 L512.3,753.9 L511.7,753.9 L511.0,755.1 L510.4,755.1 L509.7,753.9 L509.1,753.9 L508.5,753.9 L507.8,755.1 L507.2,755.1 L506.6,754.5 L505.9,754.5 L505.3,754.4 L504.7,754.4 L504.0,753.2 L503.4,753.2 L502.8,753.2 L502.1,753.2 L501.5,753.2 L500.9,753.2 L500.2,754.4 L499.6,754.4 L499.0,754.4 L498.3,754.4 L497.7,754.4 L497.0,754.4 L496.4,754.4 L495.8,754.4 L495.1,754.4 L494.5,754.4 L493.9,753.2 L493.2,753.2 L492.6,753.2 L492.0,753.2 L491.3,754.4 L490.7,754.4 L490.1,754.4 L489.4,754.4 L488.8,755.0 L488.2,755.0 L487.5,755.0 L486.9,752.6 L486.3,752.6 L485.6,752.6 L485.0,752.5 L484.4,752.5 L483.7,754.3 L483.1,754.3 L482.4,754.3 L481.8,754.3 L481.2,752.5 L480.5,752.5 L479.9,752.5 L479.3,753.1 L478.6,753.1 L478.0,753.1 L477.4,753.1 L476.7,753.1 L476.1,753.7 L475.5,753.7 L474.8,753.7 L474.2,753.7 L473.6,753.7 L472.9,752.5 L472.3,752.5 L471.6,754.9 L471.0,754.9 L470.4,754.9 L469.7,754.9 L469.1,752.5 L468.5,752.5 L467.8,752.5 L467.2,754.9 L466.6,754.9 L465.9,754.9 L465.3,754.9 L464.7,754.8 L464.0,754.8 L463.4,753.6 L462.8,753.6 L462.1,753.6 L461.5,753.6 L460.9,753.6 L460.2,753.0 L459.6,753.0 L459.0,753.0 L458.3,753.0 L457.7,753.0 L457.0,753.0 L456.4,753.0 L455.8,753.6 L455.1,753.6 L454.5,753.6 L453.9,753.6 L453.2,753.6 L452.6,753.6 L452.0,753.0 L451.3,753.0 L450.7,753.0 L450.1,753.0 L449.4,754.8 L448.8,754.8 L448.1,754.8 L447.5,754.8 L446.9,754.8 L446.2,754.8 L445.6,754.8 L445.0,754.8 L444.3,752.9 L443.7,752.9 L443.1,752.9 L442.4,752.9 L441.8,752.9 L441.2,752.9 L440.5,754.7 L439.9,754.7 L439.3,754.7 L438.6,754.7 L438.0,754.7 L437.4,752.3 L436.7,752.3 L436.1,752.3 L435.5,752.3 L434.8,752.3 L434.2,752.3 L433.5,754.7 L432.9,754.7 L432.3,752.3 L431.6,752.3 L431.0,752.3 L430.4,752.3 L429.7,752.3 L429.1,752.3 L428.5,754.7 L427.8,754.7 L427.2,754.7 L426.6,754.7 L425.9,754.7 L425.3,754.6 L424.7,754.0 L424.0,754.0 L423.4,754.0 L422.7,754.0 L422.1,754.0 L421.5,754.0 L420.8,754.4 L420.2,754.4 L419.6,753.4 L418.9,753.4 L418.3,753.4 L417.7,754.6 L417.0,754.6 L416.4,754.6 L415.8,754.6 L415.1,752.8 L414.5,752.8 L413.9,752.8 L413.2,752.8 L412.6,752.8 L411.9,754.6 L411.3,754.6 L410.7,754.0 L410.0,754.0 L409.4,754.0 L408.8,754.0 L408.1,754.6 L407.5,754.6 L406.9,754.5 L406.2,752.1 L405.6,752.1 L405.0,752.1 L404.3,752.1 L403.7,752.1 L403.1,752.1 L402.4,752.1 L401.8,752.1 L401.2,752.1 L400.5,752.1 L399.9,753.3 L399.3,753.3 L398.6,753.3 L398.0,754.5 L397.3,754.5 L396.7,754.5 L396.1,754.5 L395.4,754.5 L394.8,754.5 L394.2,753.9 L393.5,753.9 L392.9,753.9 L392.3,753.9 L391.6,753.9 L391.0,753.9 L390.4,753.8 L389.7,753.8 L389.1,753.8 L388.5,753.8 L387.8,753.8 L387.2,753.8 L386.6,752.0 L385.9,752.0 L385.3,752.0 L384.7,752.0 L384.0,752.0 L383.4,752.0 L382.7,752.0 L382.1,752.0 L381.5,754.4 L380.8,754.4 L380.2,752.6 L379.6,752.6 L378.9,752.6 L378.3,752.6 L377.6,754.4 L377.0,754.4 L376.4,754.4 L375.7,754.3 L375.1,753.1 L374.5,753.1 L373.8,753.1 L373.2,753.1 L372.6,753.1 L371.9,754.3 L371.3,754.3 L370.7,754.3 L370.0,754.3 L369.4,754.3 L368.8,754.3 L368.1,754.3 L367.5,754.3 L366.8,754.3 L366.2,754.3 L365.6,754.3 L365.0,752.5 L364.3,752.5 L363.7,752.5 L363.0,752.4 L362.4,753.6 L361.8,753.6 L361.1,753.6 L360.5,753.6 L359.9,753.6 L359.2,753.6 L358.6,754.2 L357.9,754.2 L357.3,754.2 L356.7,754.2 L356.0,754.2 L355.4,752.4 L354.8,752.4 L354.1,754.2 L353.5,754.1 L352.9,754.1 L352.2,754.1 L351.6,754.1 L351.0,754.1 L350.3,754.1 L349.7,754.1 L349.0,754.1 L348.4,754.1 L347.8,754.1 L347.1,754.1 L346.5,754.1 L345.9,754.1 L345.3,751.7 L344.6,751.6 L344.0,751.6 L343.3,751.6 L342.7,753.4 L342.1,753.4 L341.4,753.4 L340.8,751.6 L340.2,751.6 L339.5,752.2 L338.9,752.2 L338.3,752.2 L337.6,753.9 L337.0,753.9 L336.3,752.7 L335.7,752.7 L335.1,752.7 L334.4,752.7 L333.8,752.7 L333.1,753.9 L332.5,753.9 L331.9,753.8 L331.2,753.8 L330.6,753.8 L330.0,753.2 L329.3,753.2 L328.7,753.2 L328.0,753.2 L327.4,752.6 L326.8,752.5 L326.1,753.7 L325.5,753.7 L324.8,753.7 L324.2,753.7 L323.5,755.3 L322.9,755.3 L322.3,755.2 L321.6,755.2 L321.0,755.2 L320.4,751.8 L319.8,751.8 L319.2,751.8 L318.5,751.7 L317.9,751.7 L317.2,751.7 L316.6,751.7 L316.0,751.7 L315.3,751.6 L314.7,751.6 L314.0,753.4 L313.4,753.4 L312.8,752.2 L312.1,752.1 L311.5,752.1 L310.9,750.9 L310.2,750.9 L309.5,753.3 L308.9,753.2 L308.2,753.2 L307.6,753.2 L307.0,753.2 L306.3,753.1 L305.7,753.1 L305.0,753.1 L304.5,751.2 L303.8,751.2 L303.2,751.8 L302.5,751.8 L301.9,751.7 L301.2,751.7 L300.6,751.7 L300.0,751.6 L299.3,752.8 L298.6,752.8 L298.0,752.7 L297.3,752.7 L296.7,752.7 L296.0,752.6 L295.4,752.6 L294.8,751.4 L294.2,751.3 L293.5,751.3 L292.9,751.2 L292.3,751.2 L291.6,751.2 L291.0,750.5 L290.4,750.5 L289.7,750.4 L289.1,750.4 L288.5,750.3 L287.9,749.7 L287.2,749.6 L286.6,749.6 L285.9,749.5 L285.3,749.5 L284.6,749.4 L283.9,750.6 L283.2,750.5 L282.6,750.4 L281.9,751.0 L281.3,750.9 L280.6,750.9 L280.0,750.8 L279.3,750.7 L278.7,750.7 L278.0,750.6 L277.4,750.5 L276.7,750.4 L276.0,751.0 L275.3,750.9 L274.7,750.8 L274.0,750.7 L273.4,750.6 L272.7,750.6 L272.1,750.5 L271.4,750.4 L270.8,750.3 L270.1,750.2 L269.5,750.1 L269.1,748.2 L268.4,748.1 L267.8,748.0 L266.8,749.7 L266.2,749.6 L265.5,749.5 L264.9,749.4 L264.2,749.3 L263.5,749.1 L263.2,747.3 L262.5,747.1 L261.9,747.0 L260.9,748.6 L260.2,748.5 L259.6,748.4 L258.9,748.2 L258.2,748.1 L258.1,745.6 L257.4,745.5 L256.8,745.3 L256.1,745.2 L255.2,746.2 L254.5,746.0 L253.8,745.8 L253.2,745.7 L252.5,745.5 L252.2,744.1 L251.5,744.0 L250.9,743.8 L250.2,743.6 L249.5,743.4 L248.9,743.2 L247.7,744.7 L247.0,744.5 L246.3,744.3 L245.7,744.0 L245.2,743.2 L244.5,743.0 L243.8,742.7 L243.2,742.5 L242.1,743.4 L241.4,743.1 L240.7,742.8 L240.0,742.6 L239.3,742.3 L238.6,742.0 L237.9,741.7 L237.3,741.4 L236.6,741.1 L236.7,739.1 L236.0,738.8 L235.3,738.5 L234.6,738.1 L234.0,737.8 L231.4,740.9 L230.7,740.5 L231.6,737.2 L231.0,736.8 L230.3,736.4 L229.6,736.0 L228.3,736.6 L227.6,736.2 L227.9,734.2 L227.2,733.8 L226.5,733.3 L225.8,732.9 L225.2,732.4 L224.5,731.9 L223.8,731.4 L223.1,730.9 L222.5,730.4 L221.8,729.8 L220.7,729.7 L220.0,729.2 L219.4,728.6 L218.7,728.0 L218.0,727.4 L217.3,726.8 L216.6,726.1 L216.0,725.5 L215.3,724.8 L214.6,724.1 L213.1,724.3 L212.4,723.5 L211.7,722.8 L211.1,722.0 L210.4,721.2 L209.8,720.3 L210.1,718.7 L209.4,717.9 L208.8,717.0 L207.3,716.8 L206.6,715.9 L206.0,715.0 L205.4,714.0 L204.8,713.0 L204.1,712.0 L203.9,711.5 L204.0,711.2 L204.6,711.7 L205.8,712.1 L205.6,711.5 L205.0,711.4 L204.3,711.4 L203.7,711.3 L203.1,710.0 L204.7,709.1 L204.8,707.8 L204.1,709.8 L203.5,714.4 L202.8,719.1 L202.2,723.9 L201.6,728.7 L200.9,733.4 L200.3,738.2 L199.7,743.0 L199.0,748.0 L198.2,750.5 L196.6,751.5 L194.2,752.2 L193.5,755.2 L192.9,755.2 L192.3,755.2 L191.6,755.2 L191.0,755.2 L190.4,755.2 L189.7,755.2 L189.1,754.6 L188.5,754.6 L187.8,754.6 L187.2,754.6 L186.6,754.6 L185.9,754.6 L185.3,755.8 L184.7,755.8 L184.0,753.4 L183.4,753.4 L182.8,755.8 L182.1,755.8 L181.5,755.8 L180.8,755.8 L180.2,755.8 L179.6,755.2 L178.9,755.2 L178.3,755.2 L177.7,755.2 L177.0,755.2 L176.4,754.0 L175.8,754.0 L175.1,755.8 L174.5,755.8 L173.9,755.8 L173.2,755.8 L172.6,755.8 L172.0,754.6 L171.3,754.6 L170.7,755.8 L170.1,755.8 L169.4,754.6 L168.8,754.6 L168.1,754.6 L167.5,754.6 L166.9,754.6 L166.2,755.8 L165.6,755.8 L165.0,755.8 L164.3,755.8 L163.7,755.8 L163.1,754.0 L162.4,754.0 L161.8,754.0 L161.2,754.0 L160.5,754.0 L159.9,754.0 L159.3,755.8 L158.6,755.8 L158.0,755.8 L157.3,755.8 L156.7,755.8 L156.1,755.8 L155.4,755.2 L154.8,755.2 L154.2,755.2 L153.5,753.4 L152.9,753.4 L152.3,753.4 L151.6,754.0 L151.0,754.0 L150.4,755.2 L149.7,755.2 L149.1,755.2 L148.5,755.2 L147.8,755.2 L147.2,755.2 L146.6,755.2 L145.9,755.2 L145.3,755.8 L144.7,755.8 L144.0,755.8 L143.4,755.8 L142.7,755.8 L142.1,753.4 L141.5,753.4 L140.8,754.6 L140.2,754.6 L139.6,754.6 L138.9,754.6 L138.3,754.6 L137.7,758.0 L137.0,758.0 L136.4,754.6 L135.8,754.6 L135.1,754.6 L134.5,754.6 L133.9,754.6 L133.2,754.0 L132.6,754.0 L131.9,754.0 L131.3,754.0 L130.7,754.0 L130.0,755.8 L129.4,755.8 L128.8,755.8 L128.1,755.8 L127.5,757.4 L126.9,757.4 L126.2,757.4 L125.6,757.4 L125.0,755.8 L124.3,755.8 L123.7,755.8 L123.1,755.8 L122.4,755.8 L121.8,755.8 L121.2,754.0 L120.5,754.0 L119.9,754.0 L119.2,754.0 L118.6,754.0 L118.0,754.0 L117.3,753.4 L116.7,753.4 L116.1,753.4 L115.4,755.8 L114.8,755.8 L114.2,755.8 L113.5,755.8 L112.9,753.4 L112.3,753.4 L111.6,753.4 L111.0,753.4 L110.4,753.4 L109.7,755.8 L109.1,755.8 L108.5,755.8 L107.8,755.8 L107.2,755.8 L106.5,755.8 L105.9,755.8 L105.3,755.8 L104.6,755.8 L104.0,756.8 L103.4,756.8 L102.7,756.8 L102.1,756.8 L101.5,754.0 L100.8,754.0 L100.2,754.0 L99.6,754.0 L98.9,753.4 L98.3,753.4 L97.7,753.4 L97.0,753.4 L96.4,754.0 L95.8,754.0 L95.1,754.0 L94.5,754.0 L93.8,753.4 L93.2,753.4 L92.6,754.6 L91.9,754.6 L91.3,754.6 L90.7,753.4 L90.0,753.4 L89.4,753.4 L88.8,753.4 L88.1,755.2 L87.5,755.2Z" fill="#000" stroke="none"/>
<path d="M192.7,764 L193.2,640 L194.6,470 L196.2,446 L200.2,446 L201.3,700 L201.5,757 L198,757 L198,764Z" fill="#000" stroke="none"/>
</g>
<rect x="87.5" y="407.5" width="508.5" height="356.5" fill="none" stroke="#000" stroke-width="3.7"/>
<path d="M81.0,742.0 H87.5" stroke="#000" stroke-width="1.8"/>
<text x="70.5" y="750.0" font-size="23" text-anchor="end" font-weight="normal" font-style="normal" fill="#1a1a1a" stroke="#1a1a1a" stroke-width="0.4" >0.0</text>
<path d="M81.0,667.8 H87.5" stroke="#000" stroke-width="1.8"/>
<text x="70.5" y="675.8" font-size="23" text-anchor="end" font-weight="normal" font-style="normal" fill="#1a1a1a" stroke="#1a1a1a" stroke-width="0.4" >0.1</text>
<path d="M81.0,593.5 H87.5" stroke="#000" stroke-width="1.8"/>
<text x="70.5" y="601.5" font-size="23" text-anchor="end" font-weight="normal" font-style="normal" fill="#1a1a1a" stroke="#1a1a1a" stroke-width="0.4" >0.2</text>
<path d="M81.0,519.2 H87.5" stroke="#000" stroke-width="1.8"/>
<text x="70.5" y="527.2" font-size="23" text-anchor="end" font-weight="normal" font-style="normal" fill="#1a1a1a" stroke="#1a1a1a" stroke-width="0.4" >0.3</text>
<path d="M81.0,445.0 H87.5" stroke="#000" stroke-width="1.8"/>
<text x="70.5" y="453.0" font-size="23" text-anchor="end" font-weight="normal" font-style="normal" fill="#1a1a1a" stroke="#1a1a1a" stroke-width="0.4" >0.4</text>
<path d="M87.5,764 V769.5" stroke="#000" stroke-width="1.8"/>
<text x="87.0" y="800.8" font-size="23" text-anchor="middle" font-weight="normal" font-style="normal" fill="#1a1a1a" stroke="#1a1a1a" stroke-width="0.4" >0.00</text>
<path d="M189.1,764 V769.5" stroke="#000" stroke-width="1.8"/>
<text x="188.6" y="800.8" font-size="23" text-anchor="middle" font-weight="normal" font-style="normal" fill="#1a1a1a" stroke="#1a1a1a" stroke-width="0.4" >0.01</text>
<path d="M290.7,764 V769.5" stroke="#000" stroke-width="1.8"/>
<text x="290.2" y="800.8" font-size="23" text-anchor="middle" font-weight="normal" font-style="normal" fill="#1a1a1a" stroke="#1a1a1a" stroke-width="0.4" >0.02</text>
<path d="M392.3,764 V769.5" stroke="#000" stroke-width="1.8"/>
<text x="391.8" y="800.8" font-size="23" text-anchor="middle" font-weight="normal" font-style="normal" fill="#1a1a1a" stroke="#1a1a1a" stroke-width="0.4" >0.03</text>
<path d="M493.9,764 V769.5" stroke="#000" stroke-width="1.8"/>
<text x="493.4" y="800.8" font-size="23" text-anchor="middle" font-weight="normal" font-style="normal" fill="#1a1a1a" stroke="#1a1a1a" stroke-width="0.4" >0.04</text>
<path d="M595.5,764 V769.5" stroke="#000" stroke-width="1.8"/>
<text x="595.0" y="800.8" font-size="23" text-anchor="middle" font-weight="normal" font-style="normal" fill="#1a1a1a" stroke="#1a1a1a" stroke-width="0.4" >0.05</text>
<text x="342" y="843.6" font-size="28.5" text-anchor="middle" font-weight="normal" font-style="normal" fill="#1a1a1a" stroke="#1a1a1a" stroke-width="0.4" >Time / s</text>
<text x="0" y="0" font-size="28.5" text-anchor="middle" font-weight="normal" font-style="normal" fill="#1a1a1a" stroke="#1a1a1a" stroke-width="0.4" transform="translate(21.6 585) rotate(-90) scale(0.97 1.07)">U / V</text>
<text x="608" y="435" font-size="36" text-anchor="start" font-weight="normal" font-style="normal" fill="#1a1a1a" stroke="#1a1a1a" stroke-width="0.4" >a</text>
<text transform="translate(223.5 434.7) scale(1.065 1)" font-size="21.5" font-weight="bold" fill="#000" stroke="#000" stroke-width="0.45"><tspan font-style="italic">U</tspan><tspan font-size="13.5" dy="5" font-style="normal">0</tspan><tspan dy="-5">=5.0 V</tspan></text>
<text transform="translate(236.5 532.7) scale(1.065 1)" font-size="21.5" font-weight="bold" fill="#000" stroke="#000" stroke-width="0.45"><tspan font-style="italic">U</tspan><tspan font-size="13.5" dy="5" font-style="italic">0</tspan><tspan dy="-5">=4.0 V</tspan></text>
<text transform="translate(99.5 658.5) scale(1.065 1)" font-size="21.5" font-weight="bold" fill="#000" stroke="#000" stroke-width="0.45"><tspan font-style="italic">U</tspan><tspan font-size="13.5" dy="5" font-style="normal">0</tspan><tspan dy="-5">=1.5 V</tspan></text>
<text transform="translate(99.5 717) scale(1.065 1)" font-size="21.5" font-weight="bold" fill="#000" stroke="#000" stroke-width="0.45"><tspan font-style="italic">U</tspan><tspan font-size="13.5" dy="5" font-style="normal">0</tspan><tspan dy="-5">=1.0 V</tspan></text>
<clipPath id="cb"><rect x="739" y="407" width="511" height="357"/></clipPath>
<g clip-path="url(#cb)" fill="#000">
<path d="M738.85,737.1h2.70V765h-2.70Z M743.96,737.1h2.70V765h-2.70Z M746.51,721.0h2.70V765h-2.70Z M749.07,737.1h2.70V765h-2.70Z M754.18,737.1h2.70V765h-2.70Z M759.29,737.1h2.70V765h-2.70Z M764.40,721.0h2.70V765h-2.70Z M769.51,737.1h2.70V765h-2.70Z M772.06,737.1h2.70V765h-2.70Z M774.62,737.1h2.70V765h-2.70Z M779.73,737.1h2.70V765h-2.70Z M782.28,737.1h2.70V765h-2.70Z M787.39,721.0h2.70V765h-2.70Z M800.17,737.1h2.70V765h-2.70Z M802.72,737.1h2.70V765h-2.70Z M810.39,737.1h2.70V765h-2.70Z M815.50,737.1h2.70V765h-2.70Z M820.61,737.1h2.70V765h-2.70Z M825.72,737.1h2.70V765h-2.70Z M830.83,721.0h2.70V765h-2.70Z M833.38,737.1h2.70V765h-2.70Z M841.05,721.0h2.70V765h-2.70Z M739,752.2H850V765H739Z M905,752.2H1250V765H905Z M847,405L864,405L864.5,440L856,502L855.2,765L844.3,765Z M856.10,405.0h4.16V765.0h-4.16Z M858.65,405.0h4.16V765.0h-4.16Z M861.21,437.5h4.16V765.0h-4.16Z M863.76,437.5h4.16V765.0h-4.16Z M866.32,493.2h4.16V765.0h-4.16Z M868.87,493.2h4.16V765.0h-4.16Z M871.43,530.4h4.16V765.0h-4.16Z M873.98,530.4h4.16V765.0h-4.16Z M876.54,559.1h4.16V765.0h-4.16Z M879.09,559.1h4.16V765.0h-4.16Z M881.65,566.6h4.16V765.0h-4.16Z M884.20,566.6h4.16V765.0h-4.16Z M886.76,584.9h4.16V765.0h-4.16Z M889.31,589.9h4.16V765.0h-4.16Z M891.87,605.5h4.16V765.0h-4.16Z M894.42,605.5h4.16V765.0h-4.16Z M896.98,621.1h4.16V765.0h-4.16Z M899.53,621.1h4.16V765.0h-4.16Z M902.09,636.7h4.16V765.0h-4.16Z M904.64,636.7h4.16V765.0h-4.16Z M907.20,652.3h4.16V765.0h-4.16Z M909.75,652.3h4.16V765.0h-4.16Z M912.31,660.1h4.16V765.0h-4.16Z M914.86,660.1h4.16V765.0h-4.16Z M917.42,660.1h4.16V765.0h-4.16Z M919.97,652.3h4.16V765.0h-4.16Z M922.53,667.9h4.16V765.0h-4.16Z M925.08,667.9h4.16V765.0h-4.16Z M927.64,667.9h4.16V765.0h-4.16Z M930.19,675.7h4.16V765.0h-4.16Z M932.75,683.5h4.16V765.0h-4.16Z M935.30,683.5h4.16V765.0h-4.16Z M937.86,683.5h4.16V765.0h-4.16Z M940.41,683.5h4.16V765.0h-4.16Z M942.97,691.3h4.16V765.0h-4.16Z M945.52,691.3h4.16V765.0h-4.16Z M948.08,691.3h4.16V765.0h-4.16Z M950.63,683.5h4.16V765.0h-4.16Z M953.19,691.3h4.16V765.0h-4.16Z M955.74,699.1h4.16V765.0h-4.16Z M958.30,699.1h4.16V765.0h-4.16Z M960.85,699.1h4.16V765.0h-4.16Z M963.41,706.9h4.16V765.0h-4.16Z M965.96,706.9h4.16V765.0h-4.16Z M968.52,706.9h4.16V765.0h-4.16Z M971.07,706.9h4.16V765.0h-4.16Z M973.63,706.9h4.16V765.0h-4.16Z M976.18,706.9h4.16V765.0h-4.16Z M978.74,714.7h4.16V765.0h-4.16Z M981.29,706.9h4.16V765.0h-4.16Z M983.85,706.9h4.16V765.0h-4.16Z M986.40,714.7h4.16V765.0h-4.16Z M988.96,722.5h4.16V765.0h-4.16Z M991.51,722.5h4.16V765.0h-4.16Z M994.07,722.5h4.16V765.0h-4.16Z M996.62,718.7h4.16V765.0h-4.16Z M999.18,722.5h4.16V765.0h-4.16Z M1001.73,726.5h4.16V765.0h-4.16Z M1004.29,722.5h4.16V765.0h-4.16Z M1006.84,722.5h4.16V765.0h-4.16Z M1009.40,722.5h4.16V765.0h-4.16Z M1011.95,722.5h4.16V765.0h-4.16Z M1014.51,722.5h4.16V765.0h-4.16Z M1017.06,722.5h4.16V765.0h-4.16Z M1019.62,722.5h4.16V765.0h-4.16Z M1022.17,726.5h4.16V765.0h-4.16Z M1024.73,722.5h4.16V765.0h-4.16Z M1027.28,718.7h4.16V765.0h-4.16Z M1029.84,722.5h4.16V765.0h-4.16Z M1032.39,726.5h4.16V765.0h-4.16Z M1034.95,722.5h4.16V765.0h-4.16Z M1037.50,718.7h4.16V765.0h-4.16Z M1040.06,722.5h4.16V765.0h-4.16Z M1042.61,726.5h4.16V765.0h-4.16Z M1044.55,721.3h2.90V765h-2.90Z M1047.11,721.3h2.90V765h-2.90Z M1049.66,721.3h2.90V765h-2.90Z M1054.77,721.3h2.90V765h-2.90Z M1059.88,721.3h2.90V765h-2.90Z M1064.99,721.3h2.90V765h-2.90Z M1070.10,721.3h2.90V765h-2.90Z M1075.21,721.3h2.90V765h-2.90Z M1080.32,721.3h2.90V765h-2.90Z M1085.43,721.3h2.90V765h-2.90Z M1090.54,721.3h2.90V765h-2.90Z M1095.65,721.3h2.90V765h-2.90Z M1100.76,721.3h2.90V765h-2.90Z M1103.32,721.3h2.90V765h-2.90Z M1105.87,721.3h2.90V765h-2.90Z M1126.31,721.3h2.90V765h-2.90Z M1131.42,721.3h2.90V765h-2.90Z M1136.53,721.3h2.90V765h-2.90Z M1141.64,721.3h2.90V765h-2.90Z M1146.75,721.3h2.90V765h-2.90Z M1151.86,721.3h2.90V765h-2.90Z M1162.08,721.3h2.90V765h-2.90Z M1182.52,721.3h2.90V765h-2.90Z M1187.63,721.3h2.90V765h-2.90Z M1192.74,721.3h2.90V765h-2.90Z M1197.85,721.3h2.90V765h-2.90Z M1202.96,721.3h2.90V765h-2.90Z M1208.07,721.3h2.90V765h-2.90Z M1213.18,721.3h2.90V765h-2.90Z M1218.29,721.3h2.90V765h-2.90Z M1220.85,721.3h2.90V765h-2.90Z M1223.40,721.3h2.90V765h-2.90Z M1228.51,721.3h2.90V765h-2.90Z M1233.62,721.3h2.90V765h-2.90Z M1236.18,721.3h2.90V765h-2.90Z M1238.73,721.3h2.90V765h-2.90Z M1243.84,721.3h2.90V765h-2.90Z M1040,737.1H1250V765H1040Z"/>
<path d="M855.6,502 L858.8,502 L859.5,532 L861,533 L862,564 L868.3,565 L871,628 L877.8,629 L879.2,660 L882,690 L892.8,691 L894,723 L898,724 L898,754 L905,755 L905,761.2 L854.6,761.2Z" fill="#fff"/>
</g>
<rect x="739" y="407" width="511" height="356" fill="none" stroke="#000" stroke-width="3.7"/>
<path d="M732.5,753.7 H739" stroke="#000" stroke-width="1.8"/>
<text x="722.3" y="761.7" font-size="23" text-anchor="end" font-weight="normal" font-style="normal" fill="#1a1a1a" stroke="#1a1a1a" stroke-width="0.4" >0.0</text>
<path d="M732.5,684.4 H739" stroke="#000" stroke-width="1.8"/>
<text x="722.3" y="692.4" font-size="23" text-anchor="end" font-weight="normal" font-style="normal" fill="#1a1a1a" stroke="#1a1a1a" stroke-width="0.4" >0.2</text>
<path d="M732.5,615.1 H739" stroke="#000" stroke-width="1.8"/>
<text x="722.3" y="623.1" font-size="23" text-anchor="end" font-weight="normal" font-style="normal" fill="#1a1a1a" stroke="#1a1a1a" stroke-width="0.4" >0.4</text>
<path d="M732.5,545.8 H739" stroke="#000" stroke-width="1.8"/>
<text x="722.3" y="553.8" font-size="23" text-anchor="end" font-weight="normal" font-style="normal" fill="#1a1a1a" stroke="#1a1a1a" stroke-width="0.4" >0.6</text>
<path d="M732.5,476.5 H739" stroke="#000" stroke-width="1.8"/>
<text x="722.3" y="484.5" font-size="23" text-anchor="end" font-weight="normal" font-style="normal" fill="#1a1a1a" stroke="#1a1a1a" stroke-width="0.4" >0.8</text>
<path d="M732.5,407.2 H739" stroke="#000" stroke-width="1.8"/>
<text x="722.3" y="415.2" font-size="23" text-anchor="end" font-weight="normal" font-style="normal" fill="#1a1a1a" stroke="#1a1a1a" stroke-width="0.4" >1.0</text>
<path d="M739.0,763 V768.5" stroke="#000" stroke-width="1.8"/>
<text x="738.5" y="800.8" font-size="23" text-anchor="middle" font-weight="normal" font-style="normal" fill="#1a1a1a" stroke="#1a1a1a" stroke-width="0.4" >0.00</text>
<path d="M841.2,763 V768.5" stroke="#000" stroke-width="1.8"/>
<text x="840.7" y="800.8" font-size="23" text-anchor="middle" font-weight="normal" font-style="normal" fill="#1a1a1a" stroke="#1a1a1a" stroke-width="0.4" >0.01</text>
<path d="M943.4,763 V768.5" stroke="#000" stroke-width="1.8"/>
<text x="942.9" y="800.8" font-size="23" text-anchor="middle" font-weight="normal" font-style="normal" fill="#1a1a1a" stroke="#1a1a1a" stroke-width="0.4" >0.02</text>
<path d="M1045.6,763 V768.5" stroke="#000" stroke-width="1.8"/>
<text x="1045.1" y="800.8" font-size="23" text-anchor="middle" font-weight="normal" font-style="normal" fill="#1a1a1a" stroke="#1a1a1a" stroke-width="0.4" >0.03</text>
<path d="M1147.8,763 V768.5" stroke="#000" stroke-width="1.8"/>
<text x="1147.3" y="800.8" font-size="23" text-anchor="middle" font-weight="normal" font-style="normal" fill="#1a1a1a" stroke="#1a1a1a" stroke-width="0.4" >0.04</text>
<path d="M1250.0,763 V768.5" stroke="#000" stroke-width="1.8"/>
<text x="1249.5" y="800.8" font-size="23" text-anchor="middle" font-weight="normal" font-style="normal" fill="#1a1a1a" stroke="#1a1a1a" stroke-width="0.4" >0.05</text>
<text x="994.5" y="843.6" font-size="28.5" text-anchor="middle" font-weight="normal" font-style="normal" fill="#1a1a1a" stroke="#1a1a1a" stroke-width="0.4" >Time / s</text>
<text font-size="28.5" text-anchor="middle" fill="#1a1a1a" stroke="#1a1a1a" stroke-width="0.4" transform="translate(664.6 585) rotate(-90) scale(0.985 1.07)">U / U<tspan font-size="19" dy="9">max</tspan></text>
<text x="1259" y="434.5" font-size="36" text-anchor="start" font-weight="normal" font-style="normal" fill="#1a1a1a" stroke="#1a1a1a" stroke-width="0.4" >b</text>
<text x="135" y="52.6" font-size="38.2" font-weight="bold" fill="#000" stroke="#000" stroke-width="0.7" stroke-linejoin="round">Ag/AgCl reference electrode</text>
<text x="712.6" y="52.6" font-size="38.2" font-weight="bold" fill="#000" stroke="#000" stroke-width="0.7" stroke-linejoin="round">Ag/AgCl electrode</text>
<text x="1075.6" y="29.3" font-size="38.2" font-weight="bold" fill="#000" stroke="#000" stroke-width="0.7" stroke-linejoin="round">Function</text>
<text x="1075.6" y="74.9" font-size="38.2" font-weight="bold" fill="#000" stroke="#000" stroke-width="0.7" stroke-linejoin="round">Generator</text>
<text x="133" y="122.5" font-size="32.5" text-anchor="start" font-weight="normal" font-style="normal" fill="#1a1a1a" stroke="#1a1a1a" stroke-width="0.4" >4</text>
<text x="983.8" y="122.5" font-size="32.5" text-anchor="start" font-weight="normal" font-style="normal" fill="#1a1a1a" stroke="#1a1a1a" stroke-width="0.4" >3</text>
<text x="1118.3" y="122.5" font-size="32.5" text-anchor="start" font-weight="normal" font-style="normal" fill="#1a1a1a" stroke="#1a1a1a" stroke-width="0.4" >2</text>
<path d="M1227,122.7 V99.2 H1224.5 C1223.7,102.4 1220.6,104.5 1216.5,104.9 V107.5 H1223.6 V122.7 Z" fill="#1a1a1a"/>
</svg>
</body></html>
